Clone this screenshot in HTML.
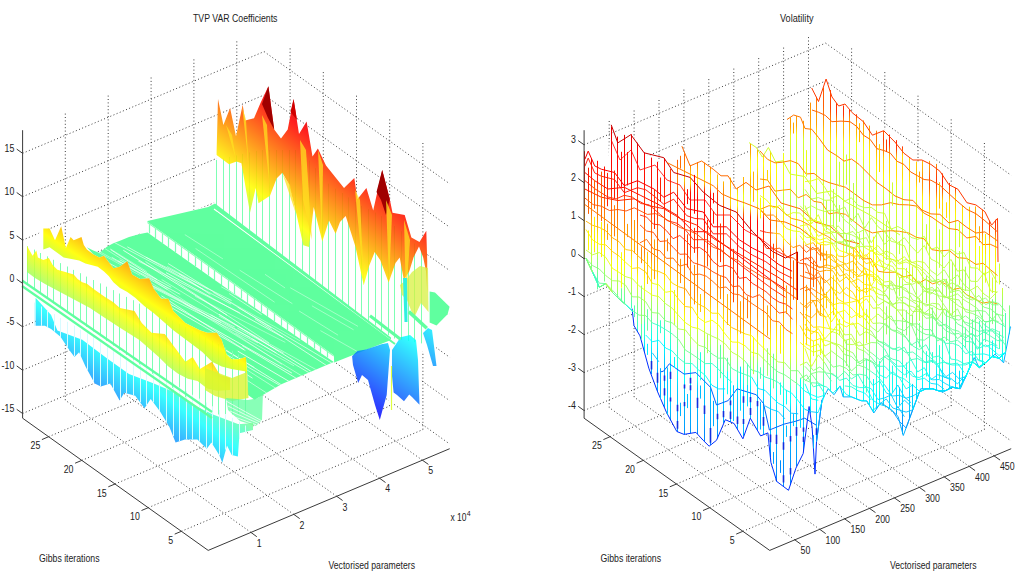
<!DOCTYPE html>
<html><head><meta charset="utf-8"><style>
html,body{margin:0;padding:0;background:#fff;}
svg{display:block;}
.gr{stroke:#3c3c3c;stroke-width:1;stroke-dasharray:1 2.4;fill:none;}
.ax{stroke:#3a3a3a;stroke-width:1;fill:none;}
.tk{font-family:"Liberation Sans",sans-serif;font-size:10px;fill:#222;}
.lb{font-family:"Liberation Sans",sans-serif;font-size:10px;fill:#222;}
.sup{font-family:"Liberation Sans",sans-serif;font-size:7px;fill:#222;}
</style></head><body>
<svg width="1024" height="578" viewBox="0 0 1024 578">
<rect width="1024" height="578" fill="#fff"/>
<g><line x1="250.9" y1="532.4" x2="65.3" y2="400.2" class="gr"/><line x1="65.3" y1="400.2" x2="65.3" y2="112.2" class="gr"/><line x1="293.8" y1="514.4" x2="108.2" y2="382.2" class="gr"/><line x1="108.2" y1="382.2" x2="108.2" y2="94.2" class="gr"/><line x1="336.7" y1="496.3" x2="151.1" y2="364.1" class="gr"/><line x1="151.1" y1="364.1" x2="151.1" y2="76.1" class="gr"/><line x1="379.5" y1="478.2" x2="193.9" y2="346.0" class="gr"/><line x1="193.9" y1="346.0" x2="193.9" y2="58.0" class="gr"/><line x1="422.4" y1="460.2" x2="236.8" y2="328.0" class="gr"/><line x1="236.8" y1="328.0" x2="236.8" y2="40.0" class="gr"/><line x1="181.4" y1="531.3" x2="422.9" y2="429.6" class="gr"/><line x1="422.9" y1="429.6" x2="422.9" y2="141.6" class="gr"/><line x1="148.2" y1="507.7" x2="389.7" y2="406.0" class="gr"/><line x1="389.7" y1="406.0" x2="389.7" y2="118.0" class="gr"/><line x1="115.0" y1="484.0" x2="356.5" y2="382.3" class="gr"/><line x1="356.5" y1="382.3" x2="356.5" y2="94.3" class="gr"/><line x1="81.8" y1="460.4" x2="323.3" y2="358.7" class="gr"/><line x1="323.3" y1="358.7" x2="323.3" y2="70.7" class="gr"/><line x1="48.6" y1="436.7" x2="290.1" y2="335.0" class="gr"/><line x1="290.1" y1="335.0" x2="290.1" y2="47.0" class="gr"/><line x1="22.6" y1="413.5" x2="264.1" y2="311.8" class="gr"/><line x1="264.1" y1="311.8" x2="449.7" y2="444.0" class="gr"/><line x1="22.6" y1="370.2" x2="264.1" y2="268.5" class="gr"/><line x1="264.1" y1="268.5" x2="449.7" y2="400.7" class="gr"/><line x1="22.6" y1="326.8" x2="264.1" y2="225.1" class="gr"/><line x1="264.1" y1="225.1" x2="449.7" y2="357.3" class="gr"/><line x1="22.6" y1="283.4" x2="264.1" y2="181.7" class="gr"/><line x1="264.1" y1="181.7" x2="449.7" y2="313.9" class="gr"/><line x1="22.6" y1="240.1" x2="264.1" y2="138.4" class="gr"/><line x1="264.1" y1="138.4" x2="449.7" y2="270.6" class="gr"/><line x1="22.6" y1="196.7" x2="264.1" y2="95.0" class="gr"/><line x1="264.1" y1="95.0" x2="449.7" y2="227.2" class="gr"/><line x1="22.6" y1="153.3" x2="264.1" y2="51.6" class="gr"/><line x1="264.1" y1="51.6" x2="449.7" y2="183.8" class="gr"/><line x1="794.8" y1="539.8" x2="609.2" y2="407.6" class="gr"/><line x1="609.2" y1="407.6" x2="609.2" y2="119.6" class="gr"/><line x1="819.7" y1="529.3" x2="634.1" y2="397.1" class="gr"/><line x1="634.1" y1="397.1" x2="634.1" y2="109.1" class="gr"/><line x1="844.6" y1="518.8" x2="659.0" y2="386.6" class="gr"/><line x1="659.0" y1="386.6" x2="659.0" y2="98.6" class="gr"/><line x1="869.5" y1="508.4" x2="683.9" y2="376.2" class="gr"/><line x1="683.9" y1="376.2" x2="683.9" y2="88.2" class="gr"/><line x1="894.4" y1="497.9" x2="708.8" y2="365.7" class="gr"/><line x1="708.8" y1="365.7" x2="708.8" y2="77.7" class="gr"/><line x1="919.4" y1="487.4" x2="733.8" y2="355.2" class="gr"/><line x1="733.8" y1="355.2" x2="733.8" y2="67.2" class="gr"/><line x1="944.3" y1="476.9" x2="758.7" y2="344.7" class="gr"/><line x1="758.7" y1="344.7" x2="758.7" y2="56.7" class="gr"/><line x1="969.2" y1="466.4" x2="783.6" y2="334.2" class="gr"/><line x1="783.6" y1="334.2" x2="783.6" y2="46.2" class="gr"/><line x1="994.1" y1="455.9" x2="808.5" y2="323.7" class="gr"/><line x1="808.5" y1="323.7" x2="808.5" y2="35.7" class="gr"/><line x1="742.9" y1="531.3" x2="984.4" y2="429.6" class="gr"/><line x1="984.4" y1="429.6" x2="984.4" y2="141.6" class="gr"/><line x1="709.7" y1="507.7" x2="951.2" y2="406.0" class="gr"/><line x1="951.2" y1="406.0" x2="951.2" y2="118.0" class="gr"/><line x1="676.5" y1="484.0" x2="918.0" y2="382.3" class="gr"/><line x1="918.0" y1="382.3" x2="918.0" y2="94.3" class="gr"/><line x1="643.3" y1="460.4" x2="884.8" y2="358.7" class="gr"/><line x1="884.8" y1="358.7" x2="884.8" y2="70.7" class="gr"/><line x1="610.1" y1="436.7" x2="851.6" y2="335.0" class="gr"/><line x1="851.6" y1="335.0" x2="851.6" y2="47.0" class="gr"/><line x1="584.1" y1="410.5" x2="825.6" y2="308.8" class="gr"/><line x1="825.6" y1="308.8" x2="1011.2" y2="441.0" class="gr"/><line x1="584.1" y1="372.5" x2="825.6" y2="270.8" class="gr"/><line x1="825.6" y1="270.8" x2="1011.2" y2="403.0" class="gr"/><line x1="584.1" y1="334.6" x2="825.6" y2="232.9" class="gr"/><line x1="825.6" y1="232.9" x2="1011.2" y2="365.1" class="gr"/><line x1="584.1" y1="296.6" x2="825.6" y2="194.9" class="gr"/><line x1="825.6" y1="194.9" x2="1011.2" y2="327.1" class="gr"/><line x1="584.1" y1="258.7" x2="825.6" y2="157.0" class="gr"/><line x1="825.6" y1="157.0" x2="1011.2" y2="289.2" class="gr"/><line x1="584.1" y1="220.7" x2="825.6" y2="119.0" class="gr"/><line x1="825.6" y1="119.0" x2="1011.2" y2="251.2" class="gr"/><line x1="584.1" y1="182.7" x2="825.6" y2="81.0" class="gr"/><line x1="825.6" y1="81.0" x2="1011.2" y2="213.2" class="gr"/><line x1="584.1" y1="144.8" x2="825.6" y2="43.1" class="gr"/><line x1="825.6" y1="43.1" x2="1011.2" y2="175.3" class="gr"/></g>
<defs><linearGradient id="gw" gradientUnits="userSpaceOnUse" x1="213.0" y1="404.0" x2="405.0" y2="160.1"><stop offset="0.000" stop-color="#bdff42"/><stop offset="0.062" stop-color="#bdff42"/><stop offset="0.125" stop-color="#bdff42"/><stop offset="0.188" stop-color="#bdff42"/><stop offset="0.250" stop-color="#bdff42"/><stop offset="0.312" stop-color="#bdff42"/><stop offset="0.375" stop-color="#bdff42"/><stop offset="0.438" stop-color="#bdff42"/><stop offset="0.500" stop-color="#bdff42"/><stop offset="0.562" stop-color="#bfff40"/><stop offset="0.625" stop-color="#ffff00"/><stop offset="0.688" stop-color="#ffbf00"/><stop offset="0.750" stop-color="#ff8000"/><stop offset="0.812" stop-color="#ff4000"/><stop offset="0.875" stop-color="#ff0000"/><stop offset="0.938" stop-color="#bf0000"/><stop offset="1.000" stop-color="#800000"/></linearGradient><clipPath id="upc"><polygon points="147.5,221.0 208.2,206.9 215.0,203.5 391.0,337.5 391.0,340.0 334.2,362.4 333.8,355.6 230.0,280.4 147.5,222.0"/></clipPath><clipPath id="lpc"><polygon points="86.9,247.2 93.2,250.4 99.4,252.7 107.2,246.5 113.4,243.3 121.2,240.2 129.0,237.1 140.0,234.0 147.5,232.5 230.0,290.8 333.8,362.1 281.9,384.1 263.7,394.5 254.6,399.7 248.0,395.0 247.2,373.8 245.9,356.9 238.7,359.3 231.4,359.3 226.6,354.5 221.7,339.9 216.9,332.7 207.2,332.7 199.9,330.2 185.4,323.0 173.3,310.9 168.4,298.8 161.2,298.8 153.9,289.1 149.1,278.2 140.0,279.1 132.1,274.5 127.3,261.2 119.6,266.7 113.4,268.2 108.7,262.0 104.0,255.8 99.4,257.4 93.2,254.2"/></clipPath><linearGradient id="gy1" gradientUnits="userSpaceOnUse" x1="100.0" y1="450.0" x2="231.6" y2="247.5"><stop offset="0.000" stop-color="#000080"/><stop offset="0.062" stop-color="#0000bf"/><stop offset="0.125" stop-color="#0000ff"/><stop offset="0.188" stop-color="#0040ff"/><stop offset="0.250" stop-color="#0080ff"/><stop offset="0.312" stop-color="#00bfff"/><stop offset="0.375" stop-color="#00ffff"/><stop offset="0.438" stop-color="#40ffbf"/><stop offset="0.500" stop-color="#80ff80"/><stop offset="0.562" stop-color="#bfff40"/><stop offset="0.625" stop-color="#ffff00"/><stop offset="0.688" stop-color="#ffbf00"/><stop offset="0.750" stop-color="#ff8000"/><stop offset="0.812" stop-color="#ff4000"/><stop offset="0.875" stop-color="#ff0000"/><stop offset="0.938" stop-color="#bf0000"/><stop offset="1.000" stop-color="#800000"/></linearGradient><linearGradient id="gy2" gradientUnits="userSpaceOnUse" x1="100.0" y1="478.0" x2="235.3" y2="284.7"><stop offset="0.000" stop-color="#000080"/><stop offset="0.062" stop-color="#0000bf"/><stop offset="0.125" stop-color="#0000ff"/><stop offset="0.188" stop-color="#0040ff"/><stop offset="0.250" stop-color="#0080ff"/><stop offset="0.312" stop-color="#00bfff"/><stop offset="0.375" stop-color="#00ffff"/><stop offset="0.438" stop-color="#40ffbf"/><stop offset="0.500" stop-color="#80ff80"/><stop offset="0.562" stop-color="#bfff40"/><stop offset="0.625" stop-color="#ffff00"/><stop offset="0.688" stop-color="#ffbf00"/><stop offset="0.750" stop-color="#ff8000"/><stop offset="0.812" stop-color="#ff4000"/><stop offset="0.875" stop-color="#ff0000"/><stop offset="0.938" stop-color="#bf0000"/><stop offset="1.000" stop-color="#800000"/></linearGradient><linearGradient id="gbl" gradientUnits="userSpaceOnUse" x1="36.0" y1="428.0" x2="192.5" y2="210.7"><stop offset="0.000" stop-color="#000080"/><stop offset="0.062" stop-color="#0000bf"/><stop offset="0.125" stop-color="#0000ff"/><stop offset="0.188" stop-color="#0040ff"/><stop offset="0.250" stop-color="#0080ff"/><stop offset="0.312" stop-color="#00bfff"/><stop offset="0.375" stop-color="#00ffff"/><stop offset="0.438" stop-color="#40ffbf"/><stop offset="0.500" stop-color="#80ff80"/><stop offset="0.562" stop-color="#bfff40"/><stop offset="0.625" stop-color="#ffff00"/><stop offset="0.688" stop-color="#ffbf00"/><stop offset="0.750" stop-color="#ff8000"/><stop offset="0.812" stop-color="#ff4000"/><stop offset="0.875" stop-color="#ff0000"/><stop offset="0.938" stop-color="#bf0000"/><stop offset="1.000" stop-color="#800000"/></linearGradient><linearGradient id="gb" gradientUnits="userSpaceOnUse" x1="390.0" y1="474.0" x2="579.7" y2="210.6"><stop offset="0.000" stop-color="#000080"/><stop offset="0.062" stop-color="#0000bf"/><stop offset="0.125" stop-color="#0000ff"/><stop offset="0.188" stop-color="#0040ff"/><stop offset="0.250" stop-color="#0080ff"/><stop offset="0.312" stop-color="#00bfff"/><stop offset="0.375" stop-color="#00ffff"/><stop offset="0.438" stop-color="#40ffbf"/><stop offset="0.500" stop-color="#80ff80"/><stop offset="0.562" stop-color="#bfff40"/><stop offset="0.625" stop-color="#ffff00"/><stop offset="0.688" stop-color="#ffbf00"/><stop offset="0.750" stop-color="#ff8000"/><stop offset="0.812" stop-color="#ff4000"/><stop offset="0.875" stop-color="#ff0000"/><stop offset="0.938" stop-color="#bf0000"/><stop offset="1.000" stop-color="#800000"/></linearGradient><linearGradient id="gbc" gradientUnits="userSpaceOnUse" x1="430.0" y1="470.0" x2="619.7" y2="206.6"><stop offset="0.000" stop-color="#000080"/><stop offset="0.062" stop-color="#0000bf"/><stop offset="0.125" stop-color="#0000ff"/><stop offset="0.188" stop-color="#0040ff"/><stop offset="0.250" stop-color="#0080ff"/><stop offset="0.312" stop-color="#00bfff"/><stop offset="0.375" stop-color="#00ffff"/><stop offset="0.438" stop-color="#40ffbf"/><stop offset="0.500" stop-color="#80ff80"/><stop offset="0.562" stop-color="#bfff40"/><stop offset="0.625" stop-color="#ffff00"/><stop offset="0.688" stop-color="#ffbf00"/><stop offset="0.750" stop-color="#ff8000"/><stop offset="0.812" stop-color="#ff4000"/><stop offset="0.875" stop-color="#ff0000"/><stop offset="0.938" stop-color="#bf0000"/><stop offset="1.000" stop-color="#800000"/></linearGradient></defs><g><polygon points="22.0,280.0 27.0,246.0 43.3,228.6 49.6,228.6 55.0,240.2 61.2,226.2 65.9,248.0 70.6,237.1 73.7,240.2 81.5,237.1 86.9,247.2 93.2,250.4 99.4,252.7 107.2,246.5 140.0,234.0 147.6,220.9 211.9,204.9 216.0,200.0 216.6,152.0 218.0,98.9 223.4,125.0 230.1,107.9 236.0,136.2 242.7,104.7 245.0,120.5 254.0,118.2 260.7,102.5 268.4,86.3 274.2,129.5 281.0,138.5 287.7,129.5 293.6,98.9 299.0,134.0 306.6,121.4 312.5,156.5 317.9,148.4 326.0,165.5 335.0,176.7 344.0,188.0 354.3,178.0 357.4,199.2 366.4,188.0 373.2,210.5 382.2,170.0 389.8,199.2 392.5,212.7 404.7,215.0 411.4,237.4 419.5,242.0 426.3,230.7 427.2,260.0 428.0,291.0 435.0,292.5 449.6,306.7 447.6,314.3 437.0,328.0 435.1,365.0 421.0,350.0 419.5,404.7 412.0,397.0 404.0,401.3 397.0,395.0 391.5,410.3 386.7,395.0 379.8,420.0 368.0,380.0 358.2,383.1 352.0,358.0 333.8,362.1 281.9,384.1 256.0,399.0 253.0,430.0 239.5,433.2 237.9,456.5 231.7,455.0 227.0,445.6 222.3,462.8 219.2,455.0 211.4,442.5 206.8,448.8 197.4,439.4 185.0,439.4 175.6,442.5 169.4,427.0 160.1,411.4 150.7,399.0 144.5,408.3 135.2,395.8 124.3,392.7 119.6,400.5 110.3,383.4 100.9,386.5 94.7,383.4 85.4,366.3 79.1,352.3 74.5,356.9 69.8,350.7 60.5,336.7 51.1,328.9 44.9,325.8 35.6,325.8 35.6,300.0 22.0,288.0" fill="#ffffff" /><path d="M216.5 159.9V209.4M223.5 158.4V214.2M229.5 156.9V219.1M236.5 155.4V223.9M242.5 153.9V228.7M249.5 152.4V233.6M256.5 150.9V238.4M262.5 150.0V243.3M269.5 150.0V248.1M276.5 150.0V252.9M282.5 150.0V257.8M289.5 150.0V262.6M295.5 150.0V267.5M302.5 152.8V272.3M309.5 160.5V277.1M315.5 168.2V282.0M322.5 175.9V286.8M328.5 183.6V291.7M335.5 188.6V296.5M342.5 193.0V301.3M348.5 197.4V306.2M355.5 201.8V311.0M361.5 205.9V315.9M368.5 209.2V320.7M375.5 212.5V325.5M381.5 216.2V330.4M388.5 221.2V335.2M394.5 226.1V338.5M401.5 231.3V339.7M408.5 237.4V340.9M414.5 243.5V342.2M421.5 249.6V343.4" stroke="#7dffb4" stroke-width="1.0" fill="none"/><polygon points="216.6,152.0 218.0,98.9 223.4,125.0 230.1,107.9 236.0,136.2 242.7,104.7 245.0,120.5 254.0,118.2 260.7,102.5 268.4,86.3 274.2,129.5 281.0,138.5 287.7,129.5 293.6,98.9 299.0,134.0 306.6,121.4 312.5,156.5 317.9,148.4 326.0,165.5 335.0,176.7 344.0,188.0 354.3,178.0 357.4,199.2 366.4,188.0 373.2,210.5 382.2,170.0 389.8,199.2 392.5,212.7 404.7,215.0 411.4,237.4 419.5,242.0 426.3,230.7 427.2,260.0 427.3,293.5 426.0,271.3 423.2,257.5 419.0,246.4 413.5,257.5 409.3,271.3 403.8,279.7 399.7,257.5 395.5,263.0 388.6,282.4 380.3,260.3 374.7,252.0 369.2,265.8 363.7,285.2 355.4,246.4 345.7,216.0 340.0,222.0 335.6,233.7 329.0,220.4 322.3,241.4 313.7,207.0 309.0,247.0 303.3,245.2 296.6,214.7 289.0,184.3 282.3,172.8 276.6,178.5 270.0,195.7 258.5,203.3 255.7,188.0 250.0,212.8 241.4,163.3 236.6,161.4 229.0,164.3 216.6,155.0" fill="url(#gw)" fill-opacity="0.88"/><polygon points="400.0,285.0 406.0,280.0 412.0,272.0 420.0,266.0 428.0,268.0 428.5,312.0 421.0,303.0 414.0,318.0 407.0,300.0 402.0,295.0" fill="#d8f040" fill-opacity="0.75"/><polygon points="262.0,104.0 268.4,86.3 274.2,129.5 268.0,118.0" fill="#a00000" /><polygon points="376.5,192.0 382.2,170.0 389.8,199.2 386.0,215.0 381.0,200.0" fill="#a00000" /><polygon points="290.5,112.0 293.6,98.9 297.0,120.0" fill="#d00000" /><polygon points="242.0,106.0 246.0,120.0 251.0,212.0 247.0,150.0" fill="#ffe020" fill-opacity="0.75"/><polygon points="300.0,140.0 306.0,150.0 312.0,240.0 303.0,200.0" fill="#ffe020" fill-opacity="0.75"/><polygon points="318.0,150.0 323.0,165.0 322.0,240.0" fill="#ffe020" fill-opacity="0.75"/><polygon points="283.0,175.0 290.0,185.0 296.0,214.0" fill="#ffe020" fill-opacity="0.75"/><polygon points="355.0,190.0 360.0,200.0 364.0,285.0" fill="#ffe020" fill-opacity="0.75"/><polygon points="386.0,200.0 392.0,215.0 389.0,282.0" fill="#ffe020" fill-opacity="0.75"/><polygon points="404.0,220.0 410.0,240.0 406.0,300.0" fill="#ffe020" fill-opacity="0.75"/><polygon points="226.0,125.0 232.0,135.0 236.0,160.0" fill="#ffe020" fill-opacity="0.75"/><polygon points="262.0,115.0 267.0,125.0 270.0,190.0" fill="#ffe020" fill-opacity="0.75"/><polygon points="147.5,221.0 208.2,206.9 215.0,203.5 391.0,337.5 391.0,340.0 334.2,362.4 333.8,355.6 230.0,280.4 147.5,222.0" fill="#60ff9f" /><g clip-path="url(#upc)"><line x1="265.9" y1="311.7" x2="333.6" y2="358.5" stroke="#fff" stroke-width="0.6" opacity="0.7"/><line x1="285.8" y1="331.4" x2="307.5" y2="344.9" stroke="#fff" stroke-width="0.6" opacity="0.7"/><line x1="320.4" y1="330.6" x2="394.4" y2="372.6" stroke="#fff" stroke-width="0.6" opacity="0.7"/><line x1="239.7" y1="270.2" x2="292.4" y2="303.7" stroke="#fff" stroke-width="0.6" opacity="0.7"/><line x1="162.2" y1="233.5" x2="199.0" y2="258.8" stroke="#fff" stroke-width="0.6" opacity="0.7"/><line x1="290.2" y1="287.7" x2="358.0" y2="326.4" stroke="#fff" stroke-width="0.6" opacity="0.7"/><line x1="265.0" y1="274.3" x2="285.1" y2="288.0" stroke="#fff" stroke-width="0.6" opacity="0.7"/><line x1="195.6" y1="248.5" x2="274.6" y2="302.2" stroke="#fff" stroke-width="0.6" opacity="0.7"/><line x1="209.2" y1="299.3" x2="261.5" y2="333.4" stroke="#fff" stroke-width="0.6" opacity="0.7"/><line x1="194.8" y1="291.6" x2="256.3" y2="334.3" stroke="#fff" stroke-width="0.6" opacity="0.7"/><line x1="311.9" y1="305.8" x2="353.6" y2="329.8" stroke="#fff" stroke-width="0.6" opacity="0.7"/><line x1="184.8" y1="234.6" x2="222.9" y2="258.9" stroke="#fff" stroke-width="0.6" opacity="0.7"/><line x1="160.6" y1="260.4" x2="200.8" y2="284.5" stroke="#fff" stroke-width="0.6" opacity="0.7"/><line x1="299.1" y1="311.0" x2="338.1" y2="335.2" stroke="#fff" stroke-width="0.6" opacity="0.7"/></g><polyline points="214.0,209.0 391.0,340.5" fill="none" stroke="#ffffff" stroke-width="1.2" /><polyline points="216.0,212.5 395.0,344.0" fill="none" stroke="#60ff9f" stroke-width="2" /><polygon points="147.5,222.0 230.0,280.4 333.8,355.6 333.8,362.1 230.0,290.8 147.5,232.5" fill="#ffffff" /><path d="M149.5 223.1V233.6M155.5 227.7V238.2M162.5 232.4V242.9M168.5 237.1V247.6M175.5 241.7V252.2M181.5 246.4V256.9M188.5 251.1V261.5M195.5 255.8V266.2M201.5 260.4V270.9M208.5 265.1V275.5M214.5 269.8V280.2M221.5 274.5V284.9M228.5 279.1V289.5M234.5 283.9V294.1M241.5 288.7V298.6M247.5 293.4V303.2M254.5 298.2V307.7M261.5 303.0V312.2M267.5 307.8V316.8M274.5 312.6V321.3M281.5 317.3V325.8M287.5 322.1V330.4M294.5 326.9V334.9M300.5 331.7V339.4M307.5 336.5V344.0M314.5 341.3V348.5M320.5 346.0V353.0M327.5 350.8V357.6" stroke="#7dffb4" stroke-width="1.2" fill="none"/><polyline points="147.5,222.5 230.0,281.0 333.8,356.0" fill="none" stroke="#8cffb8" stroke-width="1.2" /><polygon points="86.9,247.2 93.2,250.4 99.4,252.7 107.2,246.5 113.4,243.3 121.2,240.2 129.0,237.1 140.0,234.0 147.5,232.5 230.0,290.8 333.8,362.1 281.9,384.1 263.7,394.5 254.6,399.7 248.0,395.0 247.2,373.8 245.9,356.9 238.7,359.3 231.4,359.3 226.6,354.5 221.7,339.9 216.9,332.7 207.2,332.7 199.9,330.2 185.4,323.0 173.3,310.9 168.4,298.8 161.2,298.8 153.9,289.1 149.1,278.2 140.0,279.1 132.1,274.5 127.3,261.2 119.6,266.7 113.4,268.2 108.7,262.0 104.0,255.8 99.4,257.4 93.2,254.2" fill="#60ff9f" /><g clip-path="url(#lpc)"><line x1="138.3" y1="261.0" x2="239.9" y2="312.9" stroke="#fff" stroke-width="0.77" opacity="0.8"/><line x1="145.8" y1="257.1" x2="231.6" y2="300.5" stroke="#fff" stroke-width="0.72" opacity="0.8"/><line x1="92.6" y1="240.8" x2="169.3" y2="289.2" stroke="#fff" stroke-width="0.56" opacity="0.8"/><line x1="120.2" y1="288.0" x2="254.4" y2="367.5" stroke="#fff" stroke-width="0.70" opacity="0.8"/><line x1="255.7" y1="294.8" x2="380.2" y2="362.7" stroke="#fff" stroke-width="0.57" opacity="0.8"/><line x1="101.2" y1="259.0" x2="221.0" y2="322.4" stroke="#fff" stroke-width="0.79" opacity="0.8"/><line x1="195.0" y1="296.3" x2="285.3" y2="342.4" stroke="#fff" stroke-width="0.53" opacity="0.8"/><line x1="117.1" y1="290.6" x2="194.1" y2="333.0" stroke="#fff" stroke-width="0.79" opacity="0.8"/><line x1="161.6" y1="279.5" x2="279.0" y2="351.4" stroke="#fff" stroke-width="0.62" opacity="0.8"/><line x1="183.4" y1="303.0" x2="309.7" y2="380.8" stroke="#fff" stroke-width="0.64" opacity="0.8"/><line x1="256.4" y1="300.0" x2="332.4" y2="347.2" stroke="#fff" stroke-width="0.58" opacity="0.8"/><line x1="168.0" y1="263.5" x2="271.5" y2="328.0" stroke="#fff" stroke-width="0.79" opacity="0.8"/><line x1="237.6" y1="307.1" x2="344.1" y2="370.5" stroke="#fff" stroke-width="0.79" opacity="0.8"/><line x1="162.1" y1="317.5" x2="296.0" y2="394.7" stroke="#fff" stroke-width="0.83" opacity="0.8"/><line x1="90.9" y1="282.9" x2="192.1" y2="349.6" stroke="#fff" stroke-width="0.91" opacity="0.8"/><line x1="131.2" y1="274.9" x2="234.8" y2="327.1" stroke="#fff" stroke-width="0.73" opacity="0.8"/><line x1="110.2" y1="248.8" x2="146.7" y2="271.5" stroke="#fff" stroke-width="0.56" opacity="0.8"/><line x1="124.6" y1="273.0" x2="250.4" y2="337.5" stroke="#fff" stroke-width="0.72" opacity="0.8"/><line x1="178.9" y1="326.5" x2="299.0" y2="403.1" stroke="#fff" stroke-width="0.64" opacity="0.8"/><line x1="154.8" y1="281.3" x2="282.0" y2="364.4" stroke="#fff" stroke-width="0.58" opacity="0.8"/><line x1="111.7" y1="257.3" x2="167.4" y2="289.5" stroke="#fff" stroke-width="0.79" opacity="0.8"/><line x1="127.3" y1="246.8" x2="203.4" y2="289.4" stroke="#fff" stroke-width="0.78" opacity="0.8"/><line x1="251.6" y1="338.4" x2="338.3" y2="390.3" stroke="#fff" stroke-width="0.84" opacity="0.8"/><line x1="89.7" y1="296.4" x2="205.5" y2="370.5" stroke="#fff" stroke-width="0.90" opacity="0.8"/><line x1="150.6" y1="282.6" x2="192.0" y2="307.5" stroke="#fff" stroke-width="0.53" opacity="0.8"/><line x1="92.1" y1="248.9" x2="140.0" y2="275.4" stroke="#fff" stroke-width="0.53" opacity="0.8"/><line x1="80.0" y1="240.6" x2="121.2" y2="263.6" stroke="#fff" stroke-width="0.51" opacity="0.8"/><line x1="237.4" y1="328.1" x2="283.7" y2="353.1" stroke="#fff" stroke-width="0.67" opacity="0.8"/><line x1="145.5" y1="261.5" x2="268.9" y2="342.8" stroke="#fff" stroke-width="0.73" opacity="0.8"/><line x1="167.1" y1="266.5" x2="208.3" y2="289.4" stroke="#fff" stroke-width="0.63" opacity="0.8"/><line x1="229.2" y1="293.5" x2="261.7" y2="314.7" stroke="#fff" stroke-width="0.76" opacity="0.8"/><line x1="106.4" y1="277.3" x2="139.4" y2="296.5" stroke="#fff" stroke-width="0.99" opacity="0.8"/><line x1="235.4" y1="333.1" x2="294.1" y2="365.9" stroke="#fff" stroke-width="0.58" opacity="0.8"/><line x1="218.9" y1="315.9" x2="334.6" y2="379.9" stroke="#fff" stroke-width="0.61" opacity="0.8"/><line x1="226.1" y1="350.1" x2="349.9" y2="427.9" stroke="#fff" stroke-width="0.91" opacity="0.8"/><line x1="213.2" y1="292.5" x2="300.1" y2="340.9" stroke="#fff" stroke-width="0.51" opacity="0.8"/><line x1="85.0" y1="251.3" x2="143.5" y2="287.1" stroke="#fff" stroke-width="0.98" opacity="0.8"/><line x1="160.5" y1="323.8" x2="299.2" y2="414.3" stroke="#fff" stroke-width="0.68" opacity="0.8"/><line x1="119.7" y1="259.8" x2="171.3" y2="287.3" stroke="#fff" stroke-width="0.81" opacity="0.8"/><line x1="242.1" y1="345.5" x2="324.8" y2="395.6" stroke="#fff" stroke-width="0.90" opacity="0.8"/><line x1="95.3" y1="281.6" x2="225.3" y2="362.9" stroke="#fff" stroke-width="0.88" opacity="0.8"/><line x1="166.0" y1="272.6" x2="282.9" y2="337.2" stroke="#fff" stroke-width="0.90" opacity="0.8"/><line x1="254.9" y1="318.9" x2="329.1" y2="367.2" stroke="#fff" stroke-width="0.86" opacity="0.8"/><line x1="110.6" y1="249.6" x2="157.2" y2="279.7" stroke="#fff" stroke-width="0.90" opacity="0.8"/><line x1="106.3" y1="297.1" x2="244.1" y2="380.5" stroke="#fff" stroke-width="0.68" opacity="0.8"/><line x1="178.8" y1="273.7" x2="210.3" y2="294.4" stroke="#fff" stroke-width="0.82" opacity="0.8"/><line x1="174.8" y1="328.5" x2="252.5" y2="378.2" stroke="#fff" stroke-width="0.91" opacity="0.8"/><line x1="118.0" y1="260.9" x2="180.2" y2="294.4" stroke="#fff" stroke-width="0.79" opacity="0.8"/><line x1="126.7" y1="275.7" x2="171.1" y2="304.3" stroke="#fff" stroke-width="0.68" opacity="0.8"/><line x1="162.5" y1="299.7" x2="291.9" y2="373.1" stroke="#fff" stroke-width="0.96" opacity="0.8"/><line x1="170.3" y1="298.8" x2="257.9" y2="342.9" stroke="#fff" stroke-width="0.72" opacity="0.8"/><line x1="113.0" y1="241.8" x2="230.9" y2="304.0" stroke="#fff" stroke-width="0.74" opacity="0.8"/><line x1="210.5" y1="314.6" x2="276.4" y2="353.0" stroke="#fff" stroke-width="0.78" opacity="0.8"/><line x1="221.2" y1="286.8" x2="312.8" y2="336.3" stroke="#fff" stroke-width="0.64" opacity="0.8"/><line x1="219.0" y1="314.2" x2="310.8" y2="371.2" stroke="#fff" stroke-width="0.96" opacity="0.8"/><line x1="159.8" y1="300.8" x2="245.4" y2="350.6" stroke="#fff" stroke-width="0.85" opacity="0.8"/><line x1="161.4" y1="295.8" x2="244.0" y2="349.6" stroke="#fff" stroke-width="0.85" opacity="0.8"/><line x1="237.8" y1="351.2" x2="296.3" y2="385.7" stroke="#fff" stroke-width="0.97" opacity="0.8"/><line x1="231.2" y1="292.5" x2="274.6" y2="317.3" stroke="#fff" stroke-width="0.54" opacity="0.8"/><line x1="123.3" y1="250.3" x2="227.0" y2="315.1" stroke="#fff" stroke-width="0.95" opacity="0.8"/></g><path d="M27.5 246.3V284.5M34.5 249.6V289.2M40.5 253.0V293.9M47.5 256.4V298.6M53.5 259.8V303.3M60.5 263.1V308.0M67.5 266.5V312.7M73.5 269.9V317.4M80.5 273.2V322.1M86.5 276.6V326.8M93.5 280.0V331.5M100.5 283.4V336.2M106.5 286.7V340.9M113.5 290.1V345.6M119.5 293.5V350.3M126.5 296.9V355.0M133.5 300.2V359.7M139.5 303.6V364.4M146.5 307.0V369.1M152.5 310.4V373.8M159.5 313.7V378.5M166.5 317.1V383.2M172.5 320.5V387.9M179.5 323.9V392.6M185.5 327.2V397.3M192.5 330.6V402.0M199.5 334.0V406.7M205.5 337.4V411.4M212.5 340.7V414.5M218.5 344.1V414.5M225.5 347.5V414.5M232.5 350.8V414.5M238.5 354.2V414.5M245.5 357.6V414.5" stroke="#7dffb4" stroke-width="1.0" fill="none"/><polygon points="43.3,228.6 49.6,228.6 55.0,240.2 61.2,226.2 65.9,248.0 70.6,237.1 73.7,240.2 81.5,237.1 83.8,244.9 86.9,249.6 93.2,254.2 99.4,257.4 104.0,255.8 108.7,262.0 113.4,268.2 119.6,266.7 127.3,261.2 132.1,274.5 140.0,279.1 149.1,278.2 153.9,289.1 161.2,298.8 168.4,298.8 173.3,310.9 185.4,323.0 199.9,330.2 207.2,332.7 216.9,332.7 221.7,339.9 226.6,354.5 231.4,359.3 238.7,359.3 245.9,356.9 247.2,373.8 245.9,371.4 231.4,369.0 221.7,366.6 212.0,361.7 202.3,352.0 192.7,344.8 183.0,337.5 173.3,330.2 153.9,313.3 144.2,306.0 135.2,297.8 127.3,292.0 120.0,288.0 113.4,282.3 108.7,276.0 104.0,271.4 97.8,266.7 85.4,263.6 79.1,260.5 71.4,258.9 63.6,257.4 49.6,247.2 43.3,249.6" fill="url(#gy1)" fill-opacity="0.92"/><polygon points="27.0,245.7 32.5,255.8 36.3,250.4 37.9,257.4 43.3,260.0 48.8,258.1 52.7,265.1 57.4,269.8 63.6,271.4 73.7,274.5 77.6,279.1 82.3,282.3 86.9,283.8 95.0,290.0 105.0,297.0 113.0,302.0 120.0,308.0 134.5,310.9 141.8,323.0 151.5,332.7 164.8,333.9 170.9,342.3 185.4,361.7 192.7,356.9 199.9,369.0 212.0,361.7 220.0,375.0 230.0,378.0 230.0,390.0 216.9,390.8 207.2,388.4 197.5,381.1 187.8,378.7 178.1,373.8 168.4,366.6 158.8,356.9 139.4,339.9 120.0,327.8 105.0,318.0 90.0,308.0 75.0,300.0 60.0,292.0 45.0,284.0 35.0,278.0 27.0,272.0" fill="url(#gy2)" fill-opacity="0.85"/><polygon points="205.0,368.0 232.0,378.0 247.0,372.0 248.5,398.0 232.0,401.0 215.0,396.0 205.0,390.0" fill="#d8f530" fill-opacity="0.8"/><polygon points="226.0,398.0 248.0,400.0 258.0,398.0 263.0,392.0 262.0,420.0 256.0,426.0 240.0,421.0 228.0,410.0" fill="#60ff9f" fill-opacity="0.75"/><polyline points="226.0,401.0 262.0,421.0" fill="none" stroke="#ffffff" stroke-width="0.9" opacity="0.8"/><polyline points="228.0,406.0 262.0,423.0" fill="none" stroke="#ffffff" stroke-width="0.9" opacity="0.8"/><polyline points="230.0,411.0 262.0,425.0" fill="none" stroke="#ffffff" stroke-width="0.9" opacity="0.8"/><polyline points="232.0,416.0 262.0,427.0" fill="none" stroke="#ffffff" stroke-width="0.9" opacity="0.8"/><polygon points="35.6,297.8 51.1,314.9 57.4,330.5 82.3,339.8 107.2,358.5 129.0,374.0 153.9,383.4 175.6,392.7 194.3,405.2 213.0,414.5 237.9,423.9 241.0,423.9 253.0,423.0 253.0,430.0 239.5,433.2 237.9,456.5 231.7,455.0 227.0,445.6 222.3,462.8 219.2,455.0 211.4,442.5 206.8,448.8 197.4,439.4 185.0,439.4 175.6,442.5 169.4,427.0 160.1,411.4 150.7,399.0 144.5,408.3 135.2,395.8 124.3,392.7 119.6,400.5 110.3,383.4 100.9,386.5 94.7,383.4 85.4,366.3 79.1,352.3 74.5,356.9 69.8,350.7 60.5,336.7 51.1,328.9 44.9,325.8 35.6,325.8" fill="url(#gbl)" fill-opacity="0.78"/><path d="M34.5 302.6V325.8M41.5 306.5V325.8M47.5 310.3V327.2M54.5 314.1V331.6M60.5 318.0V337.3M67.5 321.8V347.2M74.5 325.7V356.4M80.5 329.5V355.9M87.5 333.3V369.8M93.5 337.2V381.9M100.5 341.0V386.3M107.5 344.9V384.5M113.5 348.7V389.7M120.5 352.5V399.3M126.5 356.4V393.4M133.5 360.2V395.3M140.5 364.1V402.4M146.5 367.9V405.0M153.5 371.7V402.4M159.5 375.6V411.1M166.5 379.4V422.1M173.5 383.3V436.2M179.5 387.1V441.1M186.5 390.9V439.4M192.5 394.8V439.4M199.5 398.6V441.5M206.5 402.5V448.1M212.5 406.3V444.6M219.5 410.1V455.3M225.5 414.0V449.6M232.5 417.8V455.2M239.5 421.7V439.0M245.5 425.5V433.2" stroke="#d8fbff" stroke-width="1.0" fill="none"/><polyline points="22.0,280.5 212.0,412.0" fill="none" stroke="#60ff9f" stroke-width="2.2" /><polyline points="22.0,286.0 212.0,418.0" fill="none" stroke="#60ff9f" stroke-width="2.2" /><polygon points="352.1,356.3 357.3,351.1 365.9,349.4 381.5,344.2 388.0,343.0 390.0,350.0 388.4,371.9 386.7,395.0 382.0,412.0 379.8,420.0 375.0,405.0 368.0,380.0 362.0,375.0 358.2,383.1 353.0,365.0" fill="url(#gb)" fill-opacity="0.82"/><polygon points="392.0,350.0 400.5,337.3 410.0,335.0 416.0,340.0 418.0,360.0 419.5,404.7 412.0,397.0 409.2,394.4 404.0,401.3 397.0,395.0 393.6,392.6 391.9,375.0" fill="url(#gb)" fill-opacity="0.8"/><polygon points="423.0,333.0 428.0,328.0 432.0,330.0 436.5,366.0 433.0,366.0 427.0,345.0" fill="url(#gbc)" fill-opacity="0.8"/><polyline points="391.5,366.0 391.5,410.0" fill="none" stroke="#e0ff40" stroke-width="1.2" /><polygon points="429.6,291.5 435.0,292.5 449.6,306.7 447.6,314.3 436.5,325.4 429.6,322.6" fill="#60ff9f" /><polyline points="408.8,311.6 426.8,328.2" fill="none" stroke="#60ff9f" stroke-width="3.5" /><polyline points="370.0,315.7 400.5,339.2" fill="none" stroke="#60ff9f" stroke-width="3" /><polygon points="403.0,278.0 407.0,278.0 407.5,322.0 404.5,322.0" fill="#30f0e0" /></g><defs><linearGradient id="rv0" gradientUnits="userSpaceOnUse" x1="0" y1="151.2" x2="0" y2="258.0"><stop offset="0.000" stop-color="#fa0000"/><stop offset="0.091" stop-color="#ff0100"/><stop offset="0.182" stop-color="#ff1a00"/><stop offset="0.273" stop-color="#ff1c00"/><stop offset="0.364" stop-color="#ff5f00"/><stop offset="0.455" stop-color="#ff6300"/><stop offset="0.545" stop-color="#ff8000"/><stop offset="0.636" stop-color="#ffa900"/><stop offset="0.727" stop-color="#ffb500"/><stop offset="0.818" stop-color="#fffa00"/><stop offset="0.909" stop-color="#dcff23"/><stop offset="1.000" stop-color="#c1ff3e"/></linearGradient><linearGradient id="rv1" gradientUnits="userSpaceOnUse" x1="0" y1="158.6" x2="0" y2="268.2"><stop offset="0.000" stop-color="#fb0000"/><stop offset="0.083" stop-color="#ff1800"/><stop offset="0.167" stop-color="#ff1a00"/><stop offset="0.250" stop-color="#ff4900"/><stop offset="0.333" stop-color="#ff6100"/><stop offset="0.417" stop-color="#ff7b00"/><stop offset="0.500" stop-color="#ff8000"/><stop offset="0.583" stop-color="#ffb200"/><stop offset="0.667" stop-color="#ffc600"/><stop offset="0.750" stop-color="#fffa00"/><stop offset="0.833" stop-color="#ccff33"/><stop offset="0.917" stop-color="#bbff44"/><stop offset="1.000" stop-color="#80ff7f"/></linearGradient><linearGradient id="rv2" gradientUnits="userSpaceOnUse" x1="0" y1="160.8" x2="0" y2="289.4"><stop offset="0.000" stop-color="#ff0200"/><stop offset="0.071" stop-color="#ff1900"/><stop offset="0.143" stop-color="#ff1b00"/><stop offset="0.214" stop-color="#ff5300"/><stop offset="0.286" stop-color="#ff6100"/><stop offset="0.357" stop-color="#ff7d00"/><stop offset="0.429" stop-color="#ff8900"/><stop offset="0.500" stop-color="#ffb200"/><stop offset="0.571" stop-color="#ffe300"/><stop offset="0.643" stop-color="#fff900"/><stop offset="0.714" stop-color="#caff35"/><stop offset="0.786" stop-color="#91ff6e"/><stop offset="0.857" stop-color="#7fff80"/><stop offset="0.929" stop-color="#46ffb9"/><stop offset="1.000" stop-color="#65ff9a"/></linearGradient><linearGradient id="rv3" gradientUnits="userSpaceOnUse" x1="0" y1="166.5" x2="0" y2="281.5"><stop offset="0.000" stop-color="#ff0e00"/><stop offset="0.083" stop-color="#ff1c00"/><stop offset="0.167" stop-color="#ff2e00"/><stop offset="0.250" stop-color="#ff4f00"/><stop offset="0.333" stop-color="#ff6a00"/><stop offset="0.417" stop-color="#ff8100"/><stop offset="0.500" stop-color="#ff9f00"/><stop offset="0.583" stop-color="#ffba00"/><stop offset="0.667" stop-color="#ffe300"/><stop offset="0.750" stop-color="#f5ff0a"/><stop offset="0.833" stop-color="#c1ff3e"/><stop offset="0.917" stop-color="#a0ff5f"/><stop offset="1.000" stop-color="#76ff89"/></linearGradient><linearGradient id="rv4" gradientUnits="userSpaceOnUse" x1="0" y1="126.5" x2="0" y2="291.2"><stop offset="0.000" stop-color="#e70000"/><stop offset="0.056" stop-color="#e60000"/><stop offset="0.111" stop-color="#f00000"/><stop offset="0.167" stop-color="#ff0400"/><stop offset="0.222" stop-color="#ff0600"/><stop offset="0.278" stop-color="#ff1500"/><stop offset="0.333" stop-color="#ff2000"/><stop offset="0.389" stop-color="#ff1d00"/><stop offset="0.444" stop-color="#ff5700"/><stop offset="0.500" stop-color="#ff6500"/><stop offset="0.556" stop-color="#ff8000"/><stop offset="0.611" stop-color="#ff9400"/><stop offset="0.667" stop-color="#ffa200"/><stop offset="0.722" stop-color="#ffca00"/><stop offset="0.778" stop-color="#ffda00"/><stop offset="0.833" stop-color="#f6ff09"/><stop offset="0.889" stop-color="#d1ff2e"/><stop offset="0.944" stop-color="#aeff51"/><stop offset="1.000" stop-color="#98ff67"/></linearGradient><linearGradient id="rv5" gradientUnits="userSpaceOnUse" x1="0" y1="136.6" x2="0" y2="297.9"><stop offset="0.000" stop-color="#e60000"/><stop offset="0.059" stop-color="#f20000"/><stop offset="0.118" stop-color="#ff0500"/><stop offset="0.176" stop-color="#ff0500"/><stop offset="0.235" stop-color="#ff1700"/><stop offset="0.294" stop-color="#ff1b00"/><stop offset="0.353" stop-color="#ff1b00"/><stop offset="0.412" stop-color="#ff6100"/><stop offset="0.471" stop-color="#ff7000"/><stop offset="0.529" stop-color="#ff8000"/><stop offset="0.588" stop-color="#ff9e00"/><stop offset="0.647" stop-color="#ffa700"/><stop offset="0.706" stop-color="#ffc700"/><stop offset="0.765" stop-color="#fdff02"/><stop offset="0.824" stop-color="#f9ff06"/><stop offset="0.882" stop-color="#b4ff4b"/><stop offset="0.941" stop-color="#b2ff4d"/><stop offset="1.000" stop-color="#61ff9e"/></linearGradient><linearGradient id="rv6" gradientUnits="userSpaceOnUse" x1="0" y1="134.9" x2="0" y2="303.6"><stop offset="0.000" stop-color="#e60000"/><stop offset="0.056" stop-color="#ec0000"/><stop offset="0.111" stop-color="#ff0500"/><stop offset="0.167" stop-color="#ff0500"/><stop offset="0.222" stop-color="#ff1000"/><stop offset="0.278" stop-color="#ff1c00"/><stop offset="0.333" stop-color="#ff1a00"/><stop offset="0.389" stop-color="#ff5d00"/><stop offset="0.444" stop-color="#ff6300"/><stop offset="0.500" stop-color="#ff7f00"/><stop offset="0.556" stop-color="#ff9600"/><stop offset="0.611" stop-color="#ff9f00"/><stop offset="0.667" stop-color="#ffc700"/><stop offset="0.722" stop-color="#ffdb00"/><stop offset="0.778" stop-color="#faff05"/><stop offset="0.833" stop-color="#d4ff2b"/><stop offset="0.889" stop-color="#b2ff4d"/><stop offset="0.944" stop-color="#70ff8f"/><stop offset="1.000" stop-color="#57ffa8"/></linearGradient><linearGradient id="rv7" gradientUnits="userSpaceOnUse" x1="0" y1="134.3" x2="0" y2="308.1"><stop offset="0.000" stop-color="#e60000"/><stop offset="0.053" stop-color="#ee0000"/><stop offset="0.105" stop-color="#ff0200"/><stop offset="0.158" stop-color="#ff0500"/><stop offset="0.211" stop-color="#ff0e00"/><stop offset="0.263" stop-color="#ff1800"/><stop offset="0.316" stop-color="#ff1c00"/><stop offset="0.368" stop-color="#ff4600"/><stop offset="0.421" stop-color="#ff5c00"/><stop offset="0.474" stop-color="#ff7600"/><stop offset="0.526" stop-color="#ff8100"/><stop offset="0.579" stop-color="#ff9d00"/><stop offset="0.632" stop-color="#ffb400"/><stop offset="0.684" stop-color="#ffc400"/><stop offset="0.737" stop-color="#fffa00"/><stop offset="0.789" stop-color="#fffc00"/><stop offset="0.842" stop-color="#bfff40"/><stop offset="0.895" stop-color="#b0ff4f"/><stop offset="0.947" stop-color="#67ff98"/><stop offset="1.000" stop-color="#33ffcc"/></linearGradient><linearGradient id="rv8" gradientUnits="userSpaceOnUse" x1="0" y1="142.7" x2="0" y2="332.1"><stop offset="0.000" stop-color="#f30000"/><stop offset="0.048" stop-color="#fc0000"/><stop offset="0.095" stop-color="#ff0100"/><stop offset="0.143" stop-color="#ff0e00"/><stop offset="0.190" stop-color="#ff1100"/><stop offset="0.238" stop-color="#ff1b00"/><stop offset="0.286" stop-color="#ff3900"/><stop offset="0.333" stop-color="#ff4000"/><stop offset="0.381" stop-color="#ff4c00"/><stop offset="0.429" stop-color="#ff6f00"/><stop offset="0.476" stop-color="#ff8700"/><stop offset="0.524" stop-color="#ff9900"/><stop offset="0.571" stop-color="#ff9300"/><stop offset="0.619" stop-color="#ffcc00"/><stop offset="0.667" stop-color="#ffd400"/><stop offset="0.714" stop-color="#feff01"/><stop offset="0.762" stop-color="#d7ff28"/><stop offset="0.810" stop-color="#b2ff4d"/><stop offset="0.857" stop-color="#79ff86"/><stop offset="0.905" stop-color="#77ff88"/><stop offset="0.952" stop-color="#3fffc0"/><stop offset="1.000" stop-color="#2cffd3"/></linearGradient><linearGradient id="rv9" gradientUnits="userSpaceOnUse" x1="0" y1="152.4" x2="0" y2="351.9"><stop offset="0.000" stop-color="#fa0000"/><stop offset="0.045" stop-color="#fc0000"/><stop offset="0.091" stop-color="#ff1000"/><stop offset="0.136" stop-color="#ff0f00"/><stop offset="0.182" stop-color="#ff1700"/><stop offset="0.227" stop-color="#ff3700"/><stop offset="0.273" stop-color="#ff2f00"/><stop offset="0.318" stop-color="#ff3e00"/><stop offset="0.364" stop-color="#ff6b00"/><stop offset="0.409" stop-color="#ff7800"/><stop offset="0.455" stop-color="#ff8600"/><stop offset="0.500" stop-color="#ff8000"/><stop offset="0.545" stop-color="#ffbd00"/><stop offset="0.591" stop-color="#ffc700"/><stop offset="0.636" stop-color="#fff400"/><stop offset="0.682" stop-color="#e5ff1a"/><stop offset="0.727" stop-color="#ccff33"/><stop offset="0.773" stop-color="#93ff6c"/><stop offset="0.818" stop-color="#8dff72"/><stop offset="0.864" stop-color="#31ffce"/><stop offset="0.909" stop-color="#2cffd3"/><stop offset="0.955" stop-color="#00f0ff"/><stop offset="1.000" stop-color="#00e1ff"/></linearGradient><linearGradient id="rv10" gradientUnits="userSpaceOnUse" x1="0" y1="157.6" x2="0" y2="374.1"><stop offset="0.000" stop-color="#fa0000"/><stop offset="0.042" stop-color="#ff0900"/><stop offset="0.083" stop-color="#ff1000"/><stop offset="0.125" stop-color="#ff1000"/><stop offset="0.167" stop-color="#ff2900"/><stop offset="0.208" stop-color="#ff3100"/><stop offset="0.250" stop-color="#ff2e00"/><stop offset="0.292" stop-color="#ff6a00"/><stop offset="0.333" stop-color="#ff6b00"/><stop offset="0.375" stop-color="#ff8100"/><stop offset="0.417" stop-color="#ff8000"/><stop offset="0.458" stop-color="#ff8800"/><stop offset="0.500" stop-color="#ffc700"/><stop offset="0.542" stop-color="#ffc900"/><stop offset="0.583" stop-color="#e8ff17"/><stop offset="0.625" stop-color="#e5ff1a"/><stop offset="0.667" stop-color="#a0ff5f"/><stop offset="0.708" stop-color="#94ff6b"/><stop offset="0.750" stop-color="#62ff9d"/><stop offset="0.792" stop-color="#2effd1"/><stop offset="0.833" stop-color="#08fff7"/><stop offset="0.875" stop-color="#00f0ff"/><stop offset="0.917" stop-color="#00c8ff"/><stop offset="0.958" stop-color="#00beff"/><stop offset="1.000" stop-color="#009eff"/></linearGradient><linearGradient id="rv11" gradientUnits="userSpaceOnUse" x1="0" y1="161.8" x2="0" y2="391.9"><stop offset="0.000" stop-color="#fe0000"/><stop offset="0.040" stop-color="#ff1400"/><stop offset="0.080" stop-color="#ff1000"/><stop offset="0.120" stop-color="#ff1a00"/><stop offset="0.160" stop-color="#ff3400"/><stop offset="0.200" stop-color="#ff2f00"/><stop offset="0.240" stop-color="#ff4800"/><stop offset="0.280" stop-color="#ff6b00"/><stop offset="0.320" stop-color="#ff7400"/><stop offset="0.360" stop-color="#ff8100"/><stop offset="0.400" stop-color="#ff8200"/><stop offset="0.440" stop-color="#ffc000"/><stop offset="0.480" stop-color="#ffc800"/><stop offset="0.520" stop-color="#fbff04"/><stop offset="0.560" stop-color="#e5ff1a"/><stop offset="0.600" stop-color="#beff41"/><stop offset="0.640" stop-color="#94ff6b"/><stop offset="0.680" stop-color="#7eff81"/><stop offset="0.720" stop-color="#2fffd0"/><stop offset="0.760" stop-color="#1cffe3"/><stop offset="0.800" stop-color="#00f0ff"/><stop offset="0.840" stop-color="#00ceff"/><stop offset="0.880" stop-color="#00c1ff"/><stop offset="0.920" stop-color="#009fff"/><stop offset="0.960" stop-color="#00aaff"/><stop offset="1.000" stop-color="#00c5ff"/></linearGradient><linearGradient id="rv12" gradientUnits="userSpaceOnUse" x1="0" y1="158.1" x2="0" y2="407.2"><stop offset="0.000" stop-color="#ff0200"/><stop offset="0.037" stop-color="#ff1f00"/><stop offset="0.074" stop-color="#ff1800"/><stop offset="0.111" stop-color="#ff1c00"/><stop offset="0.148" stop-color="#ff3300"/><stop offset="0.185" stop-color="#ff3300"/><stop offset="0.222" stop-color="#ff3900"/><stop offset="0.259" stop-color="#ff6400"/><stop offset="0.296" stop-color="#ff6b00"/><stop offset="0.333" stop-color="#ff7c00"/><stop offset="0.370" stop-color="#ff8200"/><stop offset="0.407" stop-color="#ffa200"/><stop offset="0.444" stop-color="#ffc600"/><stop offset="0.481" stop-color="#ffdd00"/><stop offset="0.519" stop-color="#ebff14"/><stop offset="0.556" stop-color="#deff21"/><stop offset="0.593" stop-color="#a1ff5e"/><stop offset="0.630" stop-color="#93ff6c"/><stop offset="0.667" stop-color="#49ffb6"/><stop offset="0.704" stop-color="#2fffd0"/><stop offset="0.741" stop-color="#00feff"/><stop offset="0.778" stop-color="#00ebff"/><stop offset="0.815" stop-color="#00cbff"/><stop offset="0.852" stop-color="#00acff"/><stop offset="0.889" stop-color="#00afff"/><stop offset="0.926" stop-color="#00c6ff"/><stop offset="0.963" stop-color="#00ccff"/><stop offset="1.000" stop-color="#00c3ff"/></linearGradient><linearGradient id="rv13" gradientUnits="userSpaceOnUse" x1="0" y1="168.9" x2="0" y2="420.5"><stop offset="0.000" stop-color="#ff4400"/><stop offset="0.037" stop-color="#ff3d00"/><stop offset="0.074" stop-color="#ff3d00"/><stop offset="0.111" stop-color="#ff3300"/><stop offset="0.148" stop-color="#ff3400"/><stop offset="0.185" stop-color="#ff4100"/><stop offset="0.222" stop-color="#ff5a00"/><stop offset="0.259" stop-color="#ff6400"/><stop offset="0.296" stop-color="#ff7200"/><stop offset="0.333" stop-color="#ff8100"/><stop offset="0.370" stop-color="#ffa400"/><stop offset="0.407" stop-color="#ffbf00"/><stop offset="0.444" stop-color="#ffe000"/><stop offset="0.481" stop-color="#fffe00"/><stop offset="0.519" stop-color="#eaff15"/><stop offset="0.556" stop-color="#bcff43"/><stop offset="0.593" stop-color="#a2ff5d"/><stop offset="0.630" stop-color="#60ff9f"/><stop offset="0.667" stop-color="#40ffbf"/><stop offset="0.704" stop-color="#1cffe3"/><stop offset="0.741" stop-color="#00fdff"/><stop offset="0.778" stop-color="#00ddff"/><stop offset="0.815" stop-color="#00c7ff"/><stop offset="0.852" stop-color="#00ceff"/><stop offset="0.889" stop-color="#00ccff"/><stop offset="0.926" stop-color="#00c5ff"/><stop offset="0.963" stop-color="#00b7ff"/><stop offset="1.000" stop-color="#00abff"/></linearGradient><linearGradient id="rv14" gradientUnits="userSpaceOnUse" x1="0" y1="159.8" x2="0" y2="431.8"><stop offset="0.000" stop-color="#ff5800"/><stop offset="0.033" stop-color="#ff7100"/><stop offset="0.067" stop-color="#ff8b00"/><stop offset="0.100" stop-color="#ff6800"/><stop offset="0.133" stop-color="#ff2700"/><stop offset="0.167" stop-color="#ff2800"/><stop offset="0.200" stop-color="#ff2f00"/><stop offset="0.233" stop-color="#ff3800"/><stop offset="0.267" stop-color="#ff4d00"/><stop offset="0.300" stop-color="#ff5100"/><stop offset="0.333" stop-color="#ff6300"/><stop offset="0.367" stop-color="#ff8400"/><stop offset="0.400" stop-color="#ff9900"/><stop offset="0.433" stop-color="#ffb800"/><stop offset="0.467" stop-color="#ffc300"/><stop offset="0.500" stop-color="#ffd600"/><stop offset="0.533" stop-color="#fff700"/><stop offset="0.567" stop-color="#e2ff1d"/><stop offset="0.600" stop-color="#bfff40"/><stop offset="0.633" stop-color="#87ff78"/><stop offset="0.667" stop-color="#70ff8f"/><stop offset="0.700" stop-color="#4affb5"/><stop offset="0.733" stop-color="#28ffd7"/><stop offset="0.767" stop-color="#04fffb"/><stop offset="0.800" stop-color="#00f1ff"/><stop offset="0.833" stop-color="#00d5ff"/><stop offset="0.867" stop-color="#00c4ff"/><stop offset="0.900" stop-color="#00bfff"/><stop offset="0.933" stop-color="#00afff"/><stop offset="0.967" stop-color="#00a6ff"/><stop offset="1.000" stop-color="#0096ff"/></linearGradient><linearGradient id="rv15" gradientUnits="userSpaceOnUse" x1="0" y1="153.3" x2="0" y2="434.4"><stop offset="0.000" stop-color="#ff6800"/><stop offset="0.032" stop-color="#ff7500"/><stop offset="0.065" stop-color="#ff9f00"/><stop offset="0.097" stop-color="#ffc800"/><stop offset="0.129" stop-color="#ff5300"/><stop offset="0.161" stop-color="#ff0b00"/><stop offset="0.194" stop-color="#ff1c00"/><stop offset="0.226" stop-color="#ff1900"/><stop offset="0.258" stop-color="#ff2100"/><stop offset="0.290" stop-color="#ff3c00"/><stop offset="0.323" stop-color="#ff3800"/><stop offset="0.355" stop-color="#ff5300"/><stop offset="0.387" stop-color="#ff7800"/><stop offset="0.419" stop-color="#ff8500"/><stop offset="0.452" stop-color="#ffa000"/><stop offset="0.484" stop-color="#ff9a00"/><stop offset="0.516" stop-color="#ffbf00"/><stop offset="0.548" stop-color="#ffd800"/><stop offset="0.581" stop-color="#f8ff07"/><stop offset="0.613" stop-color="#dfff20"/><stop offset="0.645" stop-color="#a8ff57"/><stop offset="0.677" stop-color="#97ff68"/><stop offset="0.710" stop-color="#66ff99"/><stop offset="0.742" stop-color="#3effc1"/><stop offset="0.774" stop-color="#18ffe7"/><stop offset="0.806" stop-color="#00feff"/><stop offset="0.839" stop-color="#00c7ff"/><stop offset="0.871" stop-color="#00bfff"/><stop offset="0.903" stop-color="#00b8ff"/><stop offset="0.935" stop-color="#00a9ff"/><stop offset="0.968" stop-color="#00a3ff"/><stop offset="1.000" stop-color="#008eff"/></linearGradient><linearGradient id="rv16" gradientUnits="userSpaceOnUse" x1="0" y1="164.9" x2="0" y2="433.3"><stop offset="0.000" stop-color="#ff7700"/><stop offset="0.034" stop-color="#ffd200"/><stop offset="0.069" stop-color="#ffda00"/><stop offset="0.103" stop-color="#ff0b00"/><stop offset="0.138" stop-color="#ff0000"/><stop offset="0.172" stop-color="#ff1500"/><stop offset="0.207" stop-color="#ff1000"/><stop offset="0.241" stop-color="#ff1f00"/><stop offset="0.276" stop-color="#ff3100"/><stop offset="0.310" stop-color="#ff3000"/><stop offset="0.345" stop-color="#ff6b00"/><stop offset="0.379" stop-color="#ff7600"/><stop offset="0.414" stop-color="#ff8700"/><stop offset="0.448" stop-color="#ff8d00"/><stop offset="0.483" stop-color="#ff9400"/><stop offset="0.517" stop-color="#ffc700"/><stop offset="0.552" stop-color="#ffed00"/><stop offset="0.586" stop-color="#f9ff06"/><stop offset="0.621" stop-color="#c1ff3e"/><stop offset="0.655" stop-color="#b1ff4e"/><stop offset="0.690" stop-color="#74ff8b"/><stop offset="0.724" stop-color="#62ff9d"/><stop offset="0.759" stop-color="#1bffe4"/><stop offset="0.793" stop-color="#14ffeb"/><stop offset="0.828" stop-color="#00c7ff"/><stop offset="0.862" stop-color="#00bdff"/><stop offset="0.897" stop-color="#00baff"/><stop offset="0.931" stop-color="#00a9ff"/><stop offset="0.966" stop-color="#00a7ff"/><stop offset="1.000" stop-color="#008bff"/></linearGradient><linearGradient id="rv17" gradientUnits="userSpaceOnUse" x1="0" y1="162.2" x2="0" y2="434.0"><stop offset="0.000" stop-color="#ff7500"/><stop offset="0.033" stop-color="#ffb100"/><stop offset="0.067" stop-color="#ffe500"/><stop offset="0.100" stop-color="#ff4400"/><stop offset="0.133" stop-color="#fa0000"/><stop offset="0.167" stop-color="#ff0c00"/><stop offset="0.200" stop-color="#ff0f00"/><stop offset="0.233" stop-color="#ff1000"/><stop offset="0.267" stop-color="#ff2d00"/><stop offset="0.300" stop-color="#ff2e00"/><stop offset="0.333" stop-color="#ff3b00"/><stop offset="0.367" stop-color="#ff7500"/><stop offset="0.400" stop-color="#ff7600"/><stop offset="0.433" stop-color="#ff8c00"/><stop offset="0.467" stop-color="#ff8a00"/><stop offset="0.500" stop-color="#ffb300"/><stop offset="0.533" stop-color="#ffc700"/><stop offset="0.567" stop-color="#fbff04"/><stop offset="0.600" stop-color="#f8ff07"/><stop offset="0.633" stop-color="#b4ff4b"/><stop offset="0.667" stop-color="#b2ff4d"/><stop offset="0.700" stop-color="#6bff94"/><stop offset="0.733" stop-color="#55ffaa"/><stop offset="0.767" stop-color="#1affe5"/><stop offset="0.800" stop-color="#0ffff0"/><stop offset="0.833" stop-color="#00bfff"/><stop offset="0.867" stop-color="#00bdff"/><stop offset="0.900" stop-color="#00b7ff"/><stop offset="0.933" stop-color="#00a8ff"/><stop offset="0.967" stop-color="#00a7ff"/><stop offset="1.000" stop-color="#008aff"/></linearGradient><linearGradient id="rv18" gradientUnits="userSpaceOnUse" x1="0" y1="162.7" x2="0" y2="441.1"><stop offset="0.000" stop-color="#ff7500"/><stop offset="0.033" stop-color="#ffc000"/><stop offset="0.067" stop-color="#ffe500"/><stop offset="0.100" stop-color="#ff1e00"/><stop offset="0.133" stop-color="#fa0000"/><stop offset="0.167" stop-color="#ff1200"/><stop offset="0.200" stop-color="#ff0f00"/><stop offset="0.233" stop-color="#ff1300"/><stop offset="0.267" stop-color="#ff2f00"/><stop offset="0.300" stop-color="#ff2e00"/><stop offset="0.333" stop-color="#ff5a00"/><stop offset="0.367" stop-color="#ff7500"/><stop offset="0.400" stop-color="#ff7900"/><stop offset="0.433" stop-color="#ff8b00"/><stop offset="0.467" stop-color="#ff8a00"/><stop offset="0.500" stop-color="#ffc600"/><stop offset="0.533" stop-color="#ffd500"/><stop offset="0.567" stop-color="#faff05"/><stop offset="0.600" stop-color="#d9ff26"/><stop offset="0.633" stop-color="#b2ff4d"/><stop offset="0.667" stop-color="#81ff7e"/><stop offset="0.700" stop-color="#6bff94"/><stop offset="0.733" stop-color="#1bffe4"/><stop offset="0.767" stop-color="#19ffe6"/><stop offset="0.800" stop-color="#00ceff"/><stop offset="0.833" stop-color="#00bdff"/><stop offset="0.867" stop-color="#00bcff"/><stop offset="0.900" stop-color="#00a9ff"/><stop offset="0.933" stop-color="#00a8ff"/><stop offset="0.967" stop-color="#008bff"/><stop offset="1.000" stop-color="#008aff"/></linearGradient><linearGradient id="rv19" gradientUnits="userSpaceOnUse" x1="0" y1="166.7" x2="0" y2="444.9"><stop offset="0.000" stop-color="#ff7f00"/><stop offset="0.033" stop-color="#ffdb00"/><stop offset="0.067" stop-color="#ffc600"/><stop offset="0.100" stop-color="#ff0600"/><stop offset="0.133" stop-color="#ff0a00"/><stop offset="0.167" stop-color="#ff1600"/><stop offset="0.200" stop-color="#ff1100"/><stop offset="0.233" stop-color="#ff2400"/><stop offset="0.267" stop-color="#ff2f00"/><stop offset="0.300" stop-color="#ff3400"/><stop offset="0.333" stop-color="#ff7000"/><stop offset="0.367" stop-color="#ff7500"/><stop offset="0.400" stop-color="#ff8200"/><stop offset="0.433" stop-color="#ff8b00"/><stop offset="0.467" stop-color="#ffa200"/><stop offset="0.500" stop-color="#ffc800"/><stop offset="0.533" stop-color="#fff900"/><stop offset="0.567" stop-color="#f8ff07"/><stop offset="0.600" stop-color="#bcff43"/><stop offset="0.633" stop-color="#aeff51"/><stop offset="0.667" stop-color="#6fff90"/><stop offset="0.700" stop-color="#52ffad"/><stop offset="0.733" stop-color="#1cffe3"/><stop offset="0.767" stop-color="#0dfff2"/><stop offset="0.800" stop-color="#00c3ff"/><stop offset="0.833" stop-color="#00beff"/><stop offset="0.867" stop-color="#00b6ff"/><stop offset="0.900" stop-color="#00a9ff"/><stop offset="0.933" stop-color="#00a2ff"/><stop offset="0.967" stop-color="#008bff"/><stop offset="1.000" stop-color="#008cff"/></linearGradient><linearGradient id="rv20" gradientUnits="userSpaceOnUse" x1="0" y1="174.5" x2="0" y2="438.4"><stop offset="0.000" stop-color="#ffc600"/><stop offset="0.034" stop-color="#ffbf00"/><stop offset="0.069" stop-color="#ff3d00"/><stop offset="0.103" stop-color="#ff2700"/><stop offset="0.138" stop-color="#ff2d00"/><stop offset="0.172" stop-color="#ff1800"/><stop offset="0.207" stop-color="#ff2100"/><stop offset="0.241" stop-color="#ff3000"/><stop offset="0.276" stop-color="#ff3400"/><stop offset="0.310" stop-color="#ff5700"/><stop offset="0.345" stop-color="#ff7000"/><stop offset="0.379" stop-color="#ff7200"/><stop offset="0.414" stop-color="#ff8800"/><stop offset="0.448" stop-color="#ff9500"/><stop offset="0.483" stop-color="#ffbd00"/><stop offset="0.517" stop-color="#ffd800"/><stop offset="0.552" stop-color="#fffc00"/><stop offset="0.586" stop-color="#e9ff16"/><stop offset="0.621" stop-color="#baff45"/><stop offset="0.655" stop-color="#98ff67"/><stop offset="0.690" stop-color="#6eff91"/><stop offset="0.724" stop-color="#39ffc6"/><stop offset="0.759" stop-color="#22ffdd"/><stop offset="0.793" stop-color="#00f3ff"/><stop offset="0.828" stop-color="#00c7ff"/><stop offset="0.862" stop-color="#00c2ff"/><stop offset="0.897" stop-color="#00b3ff"/><stop offset="0.931" stop-color="#00a9ff"/><stop offset="0.966" stop-color="#009aff"/><stop offset="1.000" stop-color="#008dff"/></linearGradient><linearGradient id="rv21" gradientUnits="userSpaceOnUse" x1="0" y1="181.4" x2="0" y2="422.9"><stop offset="0.000" stop-color="#ffbc00"/><stop offset="0.038" stop-color="#ff8e00"/><stop offset="0.077" stop-color="#ff7b00"/><stop offset="0.115" stop-color="#ff6300"/><stop offset="0.154" stop-color="#ff2900"/><stop offset="0.192" stop-color="#ff2100"/><stop offset="0.231" stop-color="#ff2d00"/><stop offset="0.269" stop-color="#ff3000"/><stop offset="0.308" stop-color="#ff4200"/><stop offset="0.346" stop-color="#ff5d00"/><stop offset="0.385" stop-color="#ff5a00"/><stop offset="0.423" stop-color="#ff7600"/><stop offset="0.462" stop-color="#ff9100"/><stop offset="0.500" stop-color="#ffab00"/><stop offset="0.538" stop-color="#ffcc00"/><stop offset="0.577" stop-color="#ffe400"/><stop offset="0.615" stop-color="#fffc00"/><stop offset="0.654" stop-color="#d5ff2a"/><stop offset="0.692" stop-color="#aaff55"/><stop offset="0.731" stop-color="#80ff7f"/><stop offset="0.769" stop-color="#4bffb4"/><stop offset="0.808" stop-color="#2bffd4"/><stop offset="0.846" stop-color="#00f3ff"/><stop offset="0.885" stop-color="#00d2ff"/><stop offset="0.923" stop-color="#00c3ff"/><stop offset="0.962" stop-color="#00b4ff"/><stop offset="1.000" stop-color="#00aaff"/></linearGradient><linearGradient id="rv22" gradientUnits="userSpaceOnUse" x1="0" y1="177.6" x2="0" y2="422.0"><stop offset="0.000" stop-color="#ffc000"/><stop offset="0.037" stop-color="#ffb900"/><stop offset="0.074" stop-color="#ffd600"/><stop offset="0.111" stop-color="#ffd100"/><stop offset="0.148" stop-color="#ff5b00"/><stop offset="0.185" stop-color="#ff1900"/><stop offset="0.222" stop-color="#ff1b00"/><stop offset="0.259" stop-color="#ff2400"/><stop offset="0.296" stop-color="#ff1f00"/><stop offset="0.333" stop-color="#ff3500"/><stop offset="0.370" stop-color="#ff3e00"/><stop offset="0.407" stop-color="#ff3b00"/><stop offset="0.444" stop-color="#ff6800"/><stop offset="0.481" stop-color="#ff8400"/><stop offset="0.519" stop-color="#ff9100"/><stop offset="0.556" stop-color="#ffb900"/><stop offset="0.593" stop-color="#ffbe00"/><stop offset="0.630" stop-color="#ffdd00"/><stop offset="0.667" stop-color="#f7ff08"/><stop offset="0.704" stop-color="#c3ff3c"/><stop offset="0.741" stop-color="#9dff62"/><stop offset="0.778" stop-color="#5affa5"/><stop offset="0.815" stop-color="#38ffc7"/><stop offset="0.852" stop-color="#00f3ff"/><stop offset="0.889" stop-color="#00dbff"/><stop offset="0.926" stop-color="#00c1ff"/><stop offset="0.963" stop-color="#00b6ff"/><stop offset="1.000" stop-color="#00b2ff"/></linearGradient><linearGradient id="rv23" gradientUnits="userSpaceOnUse" x1="0" y1="187.5" x2="0" y2="428.9"><stop offset="0.000" stop-color="#ffbe00"/><stop offset="0.038" stop-color="#f5ff0a"/><stop offset="0.077" stop-color="#fffc00"/><stop offset="0.115" stop-color="#ff4300"/><stop offset="0.154" stop-color="#ff0a00"/><stop offset="0.192" stop-color="#ff1300"/><stop offset="0.231" stop-color="#ff1600"/><stop offset="0.269" stop-color="#ff1300"/><stop offset="0.308" stop-color="#ff2a00"/><stop offset="0.346" stop-color="#ff2900"/><stop offset="0.385" stop-color="#ff2e00"/><stop offset="0.423" stop-color="#ff6d00"/><stop offset="0.462" stop-color="#ff7800"/><stop offset="0.500" stop-color="#ff8900"/><stop offset="0.538" stop-color="#ffa900"/><stop offset="0.577" stop-color="#ffa800"/><stop offset="0.615" stop-color="#ffeb00"/><stop offset="0.654" stop-color="#f5ff0a"/><stop offset="0.692" stop-color="#bbff44"/><stop offset="0.731" stop-color="#7dff82"/><stop offset="0.769" stop-color="#4cffb3"/><stop offset="0.808" stop-color="#04fffb"/><stop offset="0.846" stop-color="#00deff"/><stop offset="0.885" stop-color="#00c7ff"/><stop offset="0.923" stop-color="#00b4ff"/><stop offset="0.962" stop-color="#00b5ff"/><stop offset="1.000" stop-color="#00b1ff"/></linearGradient><linearGradient id="rv24" gradientUnits="userSpaceOnUse" x1="0" y1="177.0" x2="0" y2="436.2"><stop offset="0.000" stop-color="#ffb800"/><stop offset="0.036" stop-color="#ffb500"/><stop offset="0.071" stop-color="#eaff15"/><stop offset="0.107" stop-color="#e9ff16"/><stop offset="0.143" stop-color="#ff5800"/><stop offset="0.179" stop-color="#ff0600"/><stop offset="0.214" stop-color="#ff0a00"/><stop offset="0.250" stop-color="#ff1300"/><stop offset="0.286" stop-color="#ff0f00"/><stop offset="0.321" stop-color="#ff1c00"/><stop offset="0.357" stop-color="#ff2500"/><stop offset="0.393" stop-color="#ff2500"/><stop offset="0.429" stop-color="#ff5c00"/><stop offset="0.464" stop-color="#ff7500"/><stop offset="0.500" stop-color="#ff7900"/><stop offset="0.536" stop-color="#ffa100"/><stop offset="0.571" stop-color="#ff9f00"/><stop offset="0.607" stop-color="#ffe400"/><stop offset="0.643" stop-color="#fff300"/><stop offset="0.679" stop-color="#bdff42"/><stop offset="0.714" stop-color="#9fff60"/><stop offset="0.750" stop-color="#4dffb2"/><stop offset="0.786" stop-color="#1dffe2"/><stop offset="0.821" stop-color="#00dcff"/><stop offset="0.857" stop-color="#00d0ff"/><stop offset="0.893" stop-color="#00b3ff"/><stop offset="0.929" stop-color="#00b4ff"/><stop offset="0.964" stop-color="#00b7ff"/><stop offset="1.000" stop-color="#00b2ff"/></linearGradient><linearGradient id="rv25" gradientUnits="userSpaceOnUse" x1="0" y1="143.6" x2="0" y2="418.5"><stop offset="0.000" stop-color="#ff8a00"/><stop offset="0.033" stop-color="#ffa400"/><stop offset="0.067" stop-color="#faff05"/><stop offset="0.100" stop-color="#fffc00"/><stop offset="0.133" stop-color="#ffb300"/><stop offset="0.167" stop-color="#ffc600"/><stop offset="0.200" stop-color="#e6ff19"/><stop offset="0.233" stop-color="#f3ff0c"/><stop offset="0.267" stop-color="#ff1700"/><stop offset="0.300" stop-color="#ff0500"/><stop offset="0.333" stop-color="#ff1000"/><stop offset="0.367" stop-color="#ff1000"/><stop offset="0.400" stop-color="#ff0f00"/><stop offset="0.433" stop-color="#ff2300"/><stop offset="0.467" stop-color="#ff2400"/><stop offset="0.500" stop-color="#ff2600"/><stop offset="0.533" stop-color="#ff6d00"/><stop offset="0.567" stop-color="#ff7500"/><stop offset="0.600" stop-color="#ff7c00"/><stop offset="0.633" stop-color="#ffa000"/><stop offset="0.667" stop-color="#ff9e00"/><stop offset="0.700" stop-color="#ffef00"/><stop offset="0.733" stop-color="#fff600"/><stop offset="0.767" stop-color="#bdff42"/><stop offset="0.800" stop-color="#85ff7a"/><stop offset="0.833" stop-color="#4dffb2"/><stop offset="0.867" stop-color="#03fffc"/><stop offset="0.900" stop-color="#00dbff"/><stop offset="0.933" stop-color="#00c9ff"/><stop offset="0.967" stop-color="#00b3ff"/><stop offset="1.000" stop-color="#00b4ff"/></linearGradient><linearGradient id="rv26" gradientUnits="userSpaceOnUse" x1="0" y1="148.7" x2="0" y2="429.9"><stop offset="0.000" stop-color="#ff8d00"/><stop offset="0.032" stop-color="#fff600"/><stop offset="0.065" stop-color="#fbff04"/><stop offset="0.097" stop-color="#ffbf00"/><stop offset="0.129" stop-color="#ffb400"/><stop offset="0.161" stop-color="#f1ff0e"/><stop offset="0.194" stop-color="#e7ff18"/><stop offset="0.226" stop-color="#ff9d00"/><stop offset="0.258" stop-color="#ff0700"/><stop offset="0.290" stop-color="#ff0800"/><stop offset="0.323" stop-color="#ff1b00"/><stop offset="0.355" stop-color="#ff1000"/><stop offset="0.387" stop-color="#ff1500"/><stop offset="0.419" stop-color="#ff2700"/><stop offset="0.452" stop-color="#ff2400"/><stop offset="0.484" stop-color="#ff3900"/><stop offset="0.516" stop-color="#ff7500"/><stop offset="0.548" stop-color="#ff7600"/><stop offset="0.581" stop-color="#ff9000"/><stop offset="0.613" stop-color="#ff9f00"/><stop offset="0.645" stop-color="#ffaa00"/><stop offset="0.677" stop-color="#fff000"/><stop offset="0.710" stop-color="#d9ff26"/><stop offset="0.742" stop-color="#bcff43"/><stop offset="0.774" stop-color="#59ffa6"/><stop offset="0.806" stop-color="#4bffb4"/><stop offset="0.839" stop-color="#00e5ff"/><stop offset="0.871" stop-color="#00dcff"/><stop offset="0.903" stop-color="#00bbff"/><stop offset="0.935" stop-color="#00b3ff"/><stop offset="0.968" stop-color="#00b7ff"/><stop offset="1.000" stop-color="#00bcff"/></linearGradient><linearGradient id="rv27" gradientUnits="userSpaceOnUse" x1="0" y1="155.0" x2="0" y2="434.6"><stop offset="0.000" stop-color="#ffd200"/><stop offset="0.032" stop-color="#ffff00"/><stop offset="0.065" stop-color="#ffe100"/><stop offset="0.097" stop-color="#ffba00"/><stop offset="0.129" stop-color="#ffe700"/><stop offset="0.161" stop-color="#ecff13"/><stop offset="0.194" stop-color="#ffe600"/><stop offset="0.226" stop-color="#ff2900"/><stop offset="0.258" stop-color="#ff0f00"/><stop offset="0.290" stop-color="#ff2e00"/><stop offset="0.323" stop-color="#ff1a00"/><stop offset="0.355" stop-color="#ff1800"/><stop offset="0.387" stop-color="#ff2e00"/><stop offset="0.419" stop-color="#ff2800"/><stop offset="0.452" stop-color="#ff3100"/><stop offset="0.484" stop-color="#ff6b00"/><stop offset="0.516" stop-color="#ff7700"/><stop offset="0.548" stop-color="#ff8500"/><stop offset="0.581" stop-color="#ffa400"/><stop offset="0.613" stop-color="#ffa700"/><stop offset="0.645" stop-color="#ffe400"/><stop offset="0.677" stop-color="#feff01"/><stop offset="0.710" stop-color="#c0ff3f"/><stop offset="0.742" stop-color="#95ff6a"/><stop offset="0.774" stop-color="#50ffaf"/><stop offset="0.806" stop-color="#24ffdb"/><stop offset="0.839" stop-color="#00e2ff"/><stop offset="0.871" stop-color="#00d8ff"/><stop offset="0.903" stop-color="#00b7ff"/><stop offset="0.935" stop-color="#00b7ff"/><stop offset="0.968" stop-color="#00bdff"/><stop offset="1.000" stop-color="#00bbff"/></linearGradient><linearGradient id="rv28" gradientUnits="userSpaceOnUse" x1="0" y1="151.4" x2="0" y2="456.9"><stop offset="0.000" stop-color="#ffc500"/><stop offset="0.030" stop-color="#fff400"/><stop offset="0.061" stop-color="#fff300"/><stop offset="0.091" stop-color="#ffd300"/><stop offset="0.121" stop-color="#ffe100"/><stop offset="0.152" stop-color="#f2ff0d"/><stop offset="0.182" stop-color="#fff900"/><stop offset="0.212" stop-color="#ff7200"/><stop offset="0.242" stop-color="#ff3700"/><stop offset="0.273" stop-color="#ff6200"/><stop offset="0.303" stop-color="#ff4300"/><stop offset="0.333" stop-color="#ff2e00"/><stop offset="0.364" stop-color="#ff3d00"/><stop offset="0.394" stop-color="#ff3800"/><stop offset="0.424" stop-color="#ff4400"/><stop offset="0.455" stop-color="#ff6d00"/><stop offset="0.485" stop-color="#ff7e00"/><stop offset="0.515" stop-color="#ff9300"/><stop offset="0.545" stop-color="#ffac00"/><stop offset="0.576" stop-color="#ffbb00"/><stop offset="0.606" stop-color="#ffe900"/><stop offset="0.636" stop-color="#efff10"/><stop offset="0.667" stop-color="#c1ff3e"/><stop offset="0.697" stop-color="#89ff76"/><stop offset="0.727" stop-color="#56ffa9"/><stop offset="0.758" stop-color="#1dffe2"/><stop offset="0.788" stop-color="#00f0ff"/><stop offset="0.818" stop-color="#00d9ff"/><stop offset="0.848" stop-color="#00bfff"/><stop offset="0.879" stop-color="#00bfff"/><stop offset="0.909" stop-color="#00beff"/><stop offset="0.939" stop-color="#00b4ff"/><stop offset="0.970" stop-color="#00acff"/><stop offset="1.000" stop-color="#00a1ff"/></linearGradient><linearGradient id="rv29" gradientUnits="userSpaceOnUse" x1="0" y1="161.8" x2="0" y2="481.6"><stop offset="0.000" stop-color="#fffa00"/><stop offset="0.029" stop-color="#ffff00"/><stop offset="0.057" stop-color="#fff600"/><stop offset="0.086" stop-color="#fcff03"/><stop offset="0.114" stop-color="#ddff22"/><stop offset="0.143" stop-color="#f2ff0d"/><stop offset="0.171" stop-color="#ffa900"/><stop offset="0.200" stop-color="#ff9100"/><stop offset="0.229" stop-color="#ffc000"/><stop offset="0.257" stop-color="#ff8200"/><stop offset="0.286" stop-color="#ff5000"/><stop offset="0.314" stop-color="#ff4e00"/><stop offset="0.343" stop-color="#ff5000"/><stop offset="0.371" stop-color="#ff5a00"/><stop offset="0.400" stop-color="#ff6f00"/><stop offset="0.429" stop-color="#ff8a00"/><stop offset="0.457" stop-color="#ff9c00"/><stop offset="0.486" stop-color="#ffae00"/><stop offset="0.514" stop-color="#ffc900"/><stop offset="0.543" stop-color="#ffe500"/><stop offset="0.571" stop-color="#f7ff08"/><stop offset="0.600" stop-color="#d3ff2c"/><stop offset="0.629" stop-color="#a7ff58"/><stop offset="0.657" stop-color="#71ff8e"/><stop offset="0.686" stop-color="#48ffb7"/><stop offset="0.714" stop-color="#0cfff3"/><stop offset="0.743" stop-color="#00f5ff"/><stop offset="0.771" stop-color="#00d2ff"/><stop offset="0.800" stop-color="#00c3ff"/><stop offset="0.829" stop-color="#00bfff"/><stop offset="0.857" stop-color="#00b3ff"/><stop offset="0.886" stop-color="#00abff"/><stop offset="0.914" stop-color="#00a4ff"/><stop offset="0.943" stop-color="#0092ff"/><stop offset="0.971" stop-color="#008dff"/><stop offset="1.000" stop-color="#008fff"/></linearGradient><linearGradient id="rv30" gradientUnits="userSpaceOnUse" x1="0" y1="153.0" x2="0" y2="486.6"><stop offset="0.000" stop-color="#e9ff16"/><stop offset="0.027" stop-color="#f7ff08"/><stop offset="0.054" stop-color="#edff12"/><stop offset="0.081" stop-color="#eeff11"/><stop offset="0.108" stop-color="#dfff20"/><stop offset="0.135" stop-color="#bfff40"/><stop offset="0.162" stop-color="#ccff33"/><stop offset="0.189" stop-color="#ffe600"/><stop offset="0.216" stop-color="#ffe100"/><stop offset="0.243" stop-color="#fcff03"/><stop offset="0.270" stop-color="#ffc100"/><stop offset="0.297" stop-color="#ff5800"/><stop offset="0.324" stop-color="#ff5300"/><stop offset="0.351" stop-color="#ff5d00"/><stop offset="0.378" stop-color="#ff6100"/><stop offset="0.405" stop-color="#ff6a00"/><stop offset="0.432" stop-color="#ff8e00"/><stop offset="0.459" stop-color="#ff9f00"/><stop offset="0.486" stop-color="#ffa600"/><stop offset="0.514" stop-color="#ffcb00"/><stop offset="0.541" stop-color="#ffde00"/><stop offset="0.568" stop-color="#fff300"/><stop offset="0.595" stop-color="#e3ff1c"/><stop offset="0.622" stop-color="#cdff32"/><stop offset="0.649" stop-color="#86ff79"/><stop offset="0.676" stop-color="#71ff8e"/><stop offset="0.703" stop-color="#23ffdc"/><stop offset="0.730" stop-color="#06fff9"/><stop offset="0.757" stop-color="#00ecff"/><stop offset="0.784" stop-color="#00c4ff"/><stop offset="0.811" stop-color="#00beff"/><stop offset="0.838" stop-color="#00b6ff"/><stop offset="0.865" stop-color="#00aaff"/><stop offset="0.892" stop-color="#00a8ff"/><stop offset="0.919" stop-color="#0095ff"/><stop offset="0.946" stop-color="#008bff"/><stop offset="0.973" stop-color="#008bff"/><stop offset="1.000" stop-color="#008fff"/></linearGradient><linearGradient id="rv31" gradientUnits="userSpaceOnUse" x1="0" y1="117.4" x2="0" y2="485.1"><stop offset="0.000" stop-color="#ff9e00"/><stop offset="0.025" stop-color="#ffa400"/><stop offset="0.050" stop-color="#ecff13"/><stop offset="0.075" stop-color="#d2ff2d"/><stop offset="0.100" stop-color="#dbff24"/><stop offset="0.125" stop-color="#ecff13"/><stop offset="0.150" stop-color="#e6ff19"/><stop offset="0.175" stop-color="#e6ff19"/><stop offset="0.200" stop-color="#c2ff3d"/><stop offset="0.225" stop-color="#b4ff4b"/><stop offset="0.250" stop-color="#c2ff3d"/><stop offset="0.275" stop-color="#fffc00"/><stop offset="0.300" stop-color="#f0ff0f"/><stop offset="0.325" stop-color="#e9ff16"/><stop offset="0.350" stop-color="#ff8f00"/><stop offset="0.375" stop-color="#ff4e00"/><stop offset="0.400" stop-color="#ff5600"/><stop offset="0.425" stop-color="#ff6100"/><stop offset="0.450" stop-color="#ff6200"/><stop offset="0.475" stop-color="#ff7500"/><stop offset="0.500" stop-color="#ff9d00"/><stop offset="0.525" stop-color="#ff9f00"/><stop offset="0.550" stop-color="#ffaf00"/><stop offset="0.575" stop-color="#ffdb00"/><stop offset="0.600" stop-color="#ffdd00"/><stop offset="0.625" stop-color="#efff10"/><stop offset="0.650" stop-color="#e4ff1b"/><stop offset="0.675" stop-color="#a5ff5a"/><stop offset="0.700" stop-color="#7fff80"/><stop offset="0.725" stop-color="#52ffad"/><stop offset="0.750" stop-color="#06fff9"/><stop offset="0.775" stop-color="#01fffe"/><stop offset="0.800" stop-color="#00c6ff"/><stop offset="0.825" stop-color="#00bdff"/><stop offset="0.850" stop-color="#00baff"/><stop offset="0.875" stop-color="#00a9ff"/><stop offset="0.900" stop-color="#00a8ff"/><stop offset="0.925" stop-color="#009aff"/><stop offset="0.950" stop-color="#008aff"/><stop offset="0.975" stop-color="#008aff"/><stop offset="1.000" stop-color="#008dff"/></linearGradient><linearGradient id="rv32" gradientUnits="userSpaceOnUse" x1="0" y1="116.0" x2="0" y2="466.3"><stop offset="0.000" stop-color="#ff9e00"/><stop offset="0.026" stop-color="#ff9f00"/><stop offset="0.053" stop-color="#f5ff0a"/><stop offset="0.079" stop-color="#d1ff2e"/><stop offset="0.105" stop-color="#d4ff2b"/><stop offset="0.132" stop-color="#e8ff17"/><stop offset="0.158" stop-color="#e6ff19"/><stop offset="0.184" stop-color="#e5ff1a"/><stop offset="0.211" stop-color="#c2ff3d"/><stop offset="0.237" stop-color="#b3ff4c"/><stop offset="0.263" stop-color="#b7ff48"/><stop offset="0.289" stop-color="#e9ff16"/><stop offset="0.316" stop-color="#eaff15"/><stop offset="0.342" stop-color="#e6ff19"/><stop offset="0.368" stop-color="#ffb000"/><stop offset="0.395" stop-color="#ff4d00"/><stop offset="0.421" stop-color="#ff5200"/><stop offset="0.447" stop-color="#ff6200"/><stop offset="0.474" stop-color="#ff6100"/><stop offset="0.500" stop-color="#ff6e00"/><stop offset="0.526" stop-color="#ff9d00"/><stop offset="0.553" stop-color="#ff9e00"/><stop offset="0.579" stop-color="#ffa600"/><stop offset="0.605" stop-color="#ffdb00"/><stop offset="0.632" stop-color="#ffdb00"/><stop offset="0.658" stop-color="#f2ff0d"/><stop offset="0.684" stop-color="#e5ff1a"/><stop offset="0.711" stop-color="#b2ff4d"/><stop offset="0.737" stop-color="#7fff80"/><stop offset="0.763" stop-color="#65ff9a"/><stop offset="0.789" stop-color="#05fffa"/><stop offset="0.816" stop-color="#04fffb"/><stop offset="0.842" stop-color="#00c6ff"/><stop offset="0.868" stop-color="#00bdff"/><stop offset="0.895" stop-color="#00bbff"/><stop offset="0.921" stop-color="#00a9ff"/><stop offset="0.947" stop-color="#00a8ff"/><stop offset="0.974" stop-color="#009cff"/><stop offset="1.000" stop-color="#008aff"/></linearGradient><linearGradient id="rv33" gradientUnits="userSpaceOnUse" x1="0" y1="120.8" x2="0" y2="451.2"><stop offset="0.000" stop-color="#ff9e00"/><stop offset="0.028" stop-color="#ffb700"/><stop offset="0.056" stop-color="#d3ff2c"/><stop offset="0.083" stop-color="#d1ff2e"/><stop offset="0.111" stop-color="#ddff22"/><stop offset="0.139" stop-color="#e6ff19"/><stop offset="0.167" stop-color="#e6ff19"/><stop offset="0.194" stop-color="#dfff20"/><stop offset="0.222" stop-color="#b4ff4b"/><stop offset="0.250" stop-color="#b3ff4c"/><stop offset="0.278" stop-color="#c4ff3b"/><stop offset="0.306" stop-color="#edff12"/><stop offset="0.333" stop-color="#e6ff19"/><stop offset="0.361" stop-color="#eaff15"/><stop offset="0.389" stop-color="#ff5400"/><stop offset="0.417" stop-color="#ff4d00"/><stop offset="0.444" stop-color="#ff6000"/><stop offset="0.472" stop-color="#ff6100"/><stop offset="0.500" stop-color="#ff6200"/><stop offset="0.528" stop-color="#ff8c00"/><stop offset="0.556" stop-color="#ff9e00"/><stop offset="0.583" stop-color="#ff9e00"/><stop offset="0.611" stop-color="#ffc500"/><stop offset="0.639" stop-color="#ffdb00"/><stop offset="0.667" stop-color="#ffdf00"/><stop offset="0.694" stop-color="#e6ff19"/><stop offset="0.722" stop-color="#e4ff1b"/><stop offset="0.750" stop-color="#84ff7b"/><stop offset="0.778" stop-color="#7fff80"/><stop offset="0.806" stop-color="#1cffe3"/><stop offset="0.833" stop-color="#05fffa"/><stop offset="0.861" stop-color="#00f8ff"/><stop offset="0.889" stop-color="#00beff"/><stop offset="0.917" stop-color="#00bdff"/><stop offset="0.944" stop-color="#00b3ff"/><stop offset="0.972" stop-color="#00a8ff"/><stop offset="1.000" stop-color="#00a8ff"/></linearGradient><linearGradient id="rv34" gradientUnits="userSpaceOnUse" x1="0" y1="102.6" x2="0" y2="413.5"><stop offset="0.000" stop-color="#ff8d00"/><stop offset="0.029" stop-color="#ff9c00"/><stop offset="0.059" stop-color="#ff9e00"/><stop offset="0.088" stop-color="#ffbc00"/><stop offset="0.118" stop-color="#d8ff27"/><stop offset="0.147" stop-color="#d3ff2c"/><stop offset="0.176" stop-color="#dfff20"/><stop offset="0.206" stop-color="#e6ff19"/><stop offset="0.235" stop-color="#e5ff1a"/><stop offset="0.265" stop-color="#deff21"/><stop offset="0.294" stop-color="#b6ff49"/><stop offset="0.324" stop-color="#b4ff4b"/><stop offset="0.353" stop-color="#c4ff3b"/><stop offset="0.382" stop-color="#e8ff17"/><stop offset="0.412" stop-color="#e8ff17"/><stop offset="0.441" stop-color="#f0ff0f"/><stop offset="0.471" stop-color="#ff6400"/><stop offset="0.500" stop-color="#ff5000"/><stop offset="0.529" stop-color="#ff6600"/><stop offset="0.559" stop-color="#ff6300"/><stop offset="0.588" stop-color="#ff6500"/><stop offset="0.618" stop-color="#ff9000"/><stop offset="0.647" stop-color="#ffa100"/><stop offset="0.676" stop-color="#ffa000"/><stop offset="0.706" stop-color="#ffc400"/><stop offset="0.735" stop-color="#ffdd00"/><stop offset="0.765" stop-color="#ffe200"/><stop offset="0.794" stop-color="#e7ff18"/><stop offset="0.824" stop-color="#e1ff1e"/><stop offset="0.853" stop-color="#8eff71"/><stop offset="0.882" stop-color="#7eff81"/><stop offset="0.912" stop-color="#31ffce"/><stop offset="0.941" stop-color="#06fff9"/><stop offset="0.971" stop-color="#00fcff"/><stop offset="1.000" stop-color="#00c2ff"/></linearGradient><linearGradient id="rv35" gradientUnits="userSpaceOnUse" x1="0" y1="96.9" x2="0" y2="439.9"><stop offset="0.000" stop-color="#ff7000"/><stop offset="0.026" stop-color="#ff8000"/><stop offset="0.053" stop-color="#ff9900"/><stop offset="0.079" stop-color="#ffa300"/><stop offset="0.105" stop-color="#ffe000"/><stop offset="0.132" stop-color="#ddff22"/><stop offset="0.158" stop-color="#dbff24"/><stop offset="0.184" stop-color="#e5ff1a"/><stop offset="0.211" stop-color="#e5ff1a"/><stop offset="0.237" stop-color="#e4ff1b"/><stop offset="0.263" stop-color="#d4ff2b"/><stop offset="0.289" stop-color="#b9ff46"/><stop offset="0.316" stop-color="#b9ff46"/><stop offset="0.342" stop-color="#ccff33"/><stop offset="0.368" stop-color="#e4ff1b"/><stop offset="0.395" stop-color="#eaff15"/><stop offset="0.421" stop-color="#fff700"/><stop offset="0.447" stop-color="#ff7600"/><stop offset="0.474" stop-color="#ff6400"/><stop offset="0.500" stop-color="#ff7900"/><stop offset="0.526" stop-color="#ff6c00"/><stop offset="0.553" stop-color="#ff7800"/><stop offset="0.579" stop-color="#ffa500"/><stop offset="0.605" stop-color="#ffa900"/><stop offset="0.632" stop-color="#ffac00"/><stop offset="0.658" stop-color="#ffd400"/><stop offset="0.684" stop-color="#ffe400"/><stop offset="0.711" stop-color="#fff300"/><stop offset="0.737" stop-color="#e2ff1d"/><stop offset="0.763" stop-color="#d3ff2c"/><stop offset="0.789" stop-color="#90ff6f"/><stop offset="0.816" stop-color="#76ff89"/><stop offset="0.842" stop-color="#37ffc8"/><stop offset="0.868" stop-color="#0bfff4"/><stop offset="0.895" stop-color="#00fdff"/><stop offset="0.921" stop-color="#00ccff"/><stop offset="0.947" stop-color="#00bfff"/><stop offset="0.974" stop-color="#00baff"/><stop offset="1.000" stop-color="#00abff"/></linearGradient><linearGradient id="rv36" gradientUnits="userSpaceOnUse" x1="0" y1="87.5" x2="0" y2="397.5"><stop offset="0.000" stop-color="#ff6400"/><stop offset="0.029" stop-color="#ff5a00"/><stop offset="0.059" stop-color="#ff5d00"/><stop offset="0.088" stop-color="#ff8100"/><stop offset="0.118" stop-color="#ffa300"/><stop offset="0.147" stop-color="#ffd400"/><stop offset="0.176" stop-color="#eeff11"/><stop offset="0.206" stop-color="#e6ff19"/><stop offset="0.235" stop-color="#e6ff19"/><stop offset="0.265" stop-color="#dfff20"/><stop offset="0.294" stop-color="#dcff23"/><stop offset="0.324" stop-color="#d2ff2d"/><stop offset="0.353" stop-color="#c0ff3f"/><stop offset="0.382" stop-color="#bfff40"/><stop offset="0.412" stop-color="#c6ff39"/><stop offset="0.441" stop-color="#d9ff26"/><stop offset="0.471" stop-color="#e5ff1a"/><stop offset="0.500" stop-color="#fffc00"/><stop offset="0.529" stop-color="#ffa200"/><stop offset="0.559" stop-color="#ff9400"/><stop offset="0.588" stop-color="#ff9800"/><stop offset="0.618" stop-color="#ff8a00"/><stop offset="0.647" stop-color="#ffa800"/><stop offset="0.676" stop-color="#ffc100"/><stop offset="0.706" stop-color="#ffc300"/><stop offset="0.735" stop-color="#ffd500"/><stop offset="0.765" stop-color="#fff000"/><stop offset="0.794" stop-color="#feff01"/><stop offset="0.824" stop-color="#e5ff1a"/><stop offset="0.853" stop-color="#cdff32"/><stop offset="0.882" stop-color="#aaff55"/><stop offset="0.912" stop-color="#7dff82"/><stop offset="0.941" stop-color="#57ffa8"/><stop offset="0.971" stop-color="#23ffdc"/><stop offset="1.000" stop-color="#09fff6"/></linearGradient><linearGradient id="rv37" gradientUnits="userSpaceOnUse" x1="0" y1="90.0" x2="0" y2="390.6"><stop offset="0.000" stop-color="#ff5300"/><stop offset="0.030" stop-color="#ff4200"/><stop offset="0.061" stop-color="#ff3f00"/><stop offset="0.091" stop-color="#ff7600"/><stop offset="0.121" stop-color="#ffab00"/><stop offset="0.152" stop-color="#ffd700"/><stop offset="0.182" stop-color="#f1ff0e"/><stop offset="0.212" stop-color="#e9ff16"/><stop offset="0.242" stop-color="#e0ff1f"/><stop offset="0.273" stop-color="#d1ff2e"/><stop offset="0.303" stop-color="#d1ff2e"/><stop offset="0.333" stop-color="#cfff30"/><stop offset="0.364" stop-color="#c4ff3b"/><stop offset="0.394" stop-color="#bcff43"/><stop offset="0.424" stop-color="#bcff43"/><stop offset="0.455" stop-color="#ccff33"/><stop offset="0.485" stop-color="#ccff33"/><stop offset="0.515" stop-color="#e2ff1d"/><stop offset="0.545" stop-color="#ffcb00"/><stop offset="0.576" stop-color="#ffbd00"/><stop offset="0.606" stop-color="#ffb400"/><stop offset="0.636" stop-color="#ffbb00"/><stop offset="0.667" stop-color="#ffd100"/><stop offset="0.697" stop-color="#ffd800"/><stop offset="0.727" stop-color="#ffec00"/><stop offset="0.758" stop-color="#fffa00"/><stop offset="0.788" stop-color="#f2ff0d"/><stop offset="0.818" stop-color="#d2ff2d"/><stop offset="0.848" stop-color="#c6ff39"/><stop offset="0.879" stop-color="#abff54"/><stop offset="0.909" stop-color="#87ff78"/><stop offset="0.939" stop-color="#6bff94"/><stop offset="0.970" stop-color="#36ffc9"/><stop offset="1.000" stop-color="#14ffeb"/></linearGradient><linearGradient id="rv38" gradientUnits="userSpaceOnUse" x1="0" y1="103.1" x2="0" y2="390.9"><stop offset="0.000" stop-color="#ff2e00"/><stop offset="0.032" stop-color="#ff3300"/><stop offset="0.065" stop-color="#ffa200"/><stop offset="0.097" stop-color="#ffb400"/><stop offset="0.129" stop-color="#fffd00"/><stop offset="0.161" stop-color="#e7ff18"/><stop offset="0.194" stop-color="#e5ff1a"/><stop offset="0.226" stop-color="#cdff32"/><stop offset="0.258" stop-color="#c9ff36"/><stop offset="0.290" stop-color="#ceff31"/><stop offset="0.323" stop-color="#c9ff36"/><stop offset="0.355" stop-color="#b9ff46"/><stop offset="0.387" stop-color="#b4ff4b"/><stop offset="0.419" stop-color="#bbff44"/><stop offset="0.452" stop-color="#bcff43"/><stop offset="0.484" stop-color="#baff45"/><stop offset="0.516" stop-color="#fff900"/><stop offset="0.548" stop-color="#ffc800"/><stop offset="0.581" stop-color="#ffc500"/><stop offset="0.613" stop-color="#ffcf00"/><stop offset="0.645" stop-color="#ffda00"/><stop offset="0.677" stop-color="#ffde00"/><stop offset="0.710" stop-color="#fffc00"/><stop offset="0.742" stop-color="#fbff04"/><stop offset="0.774" stop-color="#ebff14"/><stop offset="0.806" stop-color="#c2ff3d"/><stop offset="0.839" stop-color="#bdff42"/><stop offset="0.871" stop-color="#9cff63"/><stop offset="0.903" stop-color="#80ff7f"/><stop offset="0.935" stop-color="#6cff93"/><stop offset="0.968" stop-color="#2effd1"/><stop offset="1.000" stop-color="#0bfff4"/></linearGradient><linearGradient id="rv39" gradientUnits="userSpaceOnUse" x1="0" y1="105.5" x2="0" y2="396.9"><stop offset="0.000" stop-color="#ff2500"/><stop offset="0.031" stop-color="#ff3100"/><stop offset="0.062" stop-color="#ffb200"/><stop offset="0.094" stop-color="#ffb600"/><stop offset="0.125" stop-color="#efff10"/><stop offset="0.156" stop-color="#e6ff19"/><stop offset="0.188" stop-color="#e3ff1c"/><stop offset="0.219" stop-color="#c8ff37"/><stop offset="0.250" stop-color="#c7ff38"/><stop offset="0.281" stop-color="#ccff33"/><stop offset="0.312" stop-color="#c8ff37"/><stop offset="0.344" stop-color="#b5ff4a"/><stop offset="0.375" stop-color="#b3ff4c"/><stop offset="0.406" stop-color="#b6ff49"/><stop offset="0.438" stop-color="#b5ff4a"/><stop offset="0.469" stop-color="#b3ff4c"/><stop offset="0.500" stop-color="#f4ff0b"/><stop offset="0.531" stop-color="#ffc700"/><stop offset="0.562" stop-color="#ffc800"/><stop offset="0.594" stop-color="#ffd500"/><stop offset="0.625" stop-color="#ffdb00"/><stop offset="0.656" stop-color="#ffdd00"/><stop offset="0.688" stop-color="#ffff00"/><stop offset="0.719" stop-color="#faff05"/><stop offset="0.750" stop-color="#f2ff0d"/><stop offset="0.781" stop-color="#bfff40"/><stop offset="0.812" stop-color="#bdff42"/><stop offset="0.844" stop-color="#a8ff57"/><stop offset="0.875" stop-color="#80ff7f"/><stop offset="0.906" stop-color="#7dff82"/><stop offset="0.938" stop-color="#32ffcd"/><stop offset="0.969" stop-color="#27ffd8"/><stop offset="1.000" stop-color="#00f1ff"/></linearGradient><linearGradient id="rv40" gradientUnits="userSpaceOnUse" x1="0" y1="109.8" x2="0" y2="396.9"><stop offset="0.000" stop-color="#ff2400"/><stop offset="0.032" stop-color="#ff9d00"/><stop offset="0.065" stop-color="#ffb200"/><stop offset="0.097" stop-color="#ffe200"/><stop offset="0.129" stop-color="#e6ff19"/><stop offset="0.161" stop-color="#e6ff19"/><stop offset="0.194" stop-color="#ceff31"/><stop offset="0.226" stop-color="#c7ff38"/><stop offset="0.258" stop-color="#c8ff37"/><stop offset="0.290" stop-color="#cdff32"/><stop offset="0.323" stop-color="#b9ff46"/><stop offset="0.355" stop-color="#b3ff4c"/><stop offset="0.387" stop-color="#b3ff4c"/><stop offset="0.419" stop-color="#b6ff49"/><stop offset="0.452" stop-color="#b3ff4c"/><stop offset="0.484" stop-color="#c5ff3a"/><stop offset="0.516" stop-color="#ffc800"/><stop offset="0.548" stop-color="#ffc700"/><stop offset="0.581" stop-color="#ffd400"/><stop offset="0.613" stop-color="#ffdb00"/><stop offset="0.645" stop-color="#ffdc00"/><stop offset="0.677" stop-color="#fffc00"/><stop offset="0.710" stop-color="#faff05"/><stop offset="0.742" stop-color="#f7ff08"/><stop offset="0.774" stop-color="#bfff40"/><stop offset="0.806" stop-color="#bdff42"/><stop offset="0.839" stop-color="#adff52"/><stop offset="0.871" stop-color="#80ff7f"/><stop offset="0.903" stop-color="#7fff80"/><stop offset="0.935" stop-color="#31ffce"/><stop offset="0.968" stop-color="#2dffd2"/><stop offset="1.000" stop-color="#00f0ff"/></linearGradient><linearGradient id="rv41" gradientUnits="userSpaceOnUse" x1="0" y1="114.3" x2="0" y2="398.9"><stop offset="0.000" stop-color="#ff2d00"/><stop offset="0.032" stop-color="#ffb100"/><stop offset="0.065" stop-color="#ffb500"/><stop offset="0.097" stop-color="#f2ff0d"/><stop offset="0.129" stop-color="#e6ff19"/><stop offset="0.161" stop-color="#e5ff1a"/><stop offset="0.194" stop-color="#c8ff37"/><stop offset="0.226" stop-color="#c7ff38"/><stop offset="0.258" stop-color="#ccff33"/><stop offset="0.290" stop-color="#c8ff37"/><stop offset="0.323" stop-color="#b5ff4a"/><stop offset="0.355" stop-color="#b3ff4c"/><stop offset="0.387" stop-color="#b6ff49"/><stop offset="0.419" stop-color="#b4ff4b"/><stop offset="0.452" stop-color="#b3ff4c"/><stop offset="0.484" stop-color="#ffff00"/><stop offset="0.516" stop-color="#ffc700"/><stop offset="0.548" stop-color="#ffca00"/><stop offset="0.581" stop-color="#ffdd00"/><stop offset="0.613" stop-color="#ffdb00"/><stop offset="0.645" stop-color="#ffe100"/><stop offset="0.677" stop-color="#faff05"/><stop offset="0.710" stop-color="#faff05"/><stop offset="0.742" stop-color="#e7ff18"/><stop offset="0.774" stop-color="#bdff42"/><stop offset="0.806" stop-color="#bcff43"/><stop offset="0.839" stop-color="#96ff69"/><stop offset="0.871" stop-color="#7fff80"/><stop offset="0.903" stop-color="#78ff87"/><stop offset="0.935" stop-color="#2effd1"/><stop offset="0.968" stop-color="#13ffec"/><stop offset="1.000" stop-color="#00f1ff"/></linearGradient><linearGradient id="rv42" gradientUnits="userSpaceOnUse" x1="0" y1="120.4" x2="0" y2="401.0"><stop offset="0.000" stop-color="#ff9800"/><stop offset="0.032" stop-color="#ffaf00"/><stop offset="0.065" stop-color="#ffdc00"/><stop offset="0.097" stop-color="#ecff13"/><stop offset="0.129" stop-color="#edff12"/><stop offset="0.161" stop-color="#d9ff26"/><stop offset="0.194" stop-color="#c9ff36"/><stop offset="0.226" stop-color="#ccff33"/><stop offset="0.258" stop-color="#d2ff2d"/><stop offset="0.290" stop-color="#c1ff3e"/><stop offset="0.323" stop-color="#b4ff4b"/><stop offset="0.355" stop-color="#b5ff4a"/><stop offset="0.387" stop-color="#baff45"/><stop offset="0.419" stop-color="#b5ff4a"/><stop offset="0.452" stop-color="#c4ff3b"/><stop offset="0.484" stop-color="#ffd900"/><stop offset="0.516" stop-color="#ffcb00"/><stop offset="0.548" stop-color="#ffdc00"/><stop offset="0.581" stop-color="#ffe100"/><stop offset="0.613" stop-color="#ffdf00"/><stop offset="0.645" stop-color="#fffb00"/><stop offset="0.677" stop-color="#f6ff09"/><stop offset="0.710" stop-color="#f4ff0b"/><stop offset="0.742" stop-color="#c9ff36"/><stop offset="0.774" stop-color="#bbff44"/><stop offset="0.806" stop-color="#b2ff4d"/><stop offset="0.839" stop-color="#84ff7b"/><stop offset="0.871" stop-color="#7dff82"/><stop offset="0.903" stop-color="#5affa5"/><stop offset="0.935" stop-color="#2affd5"/><stop offset="0.968" stop-color="#04fffb"/><stop offset="1.000" stop-color="#00f5ff"/></linearGradient><linearGradient id="rv43" gradientUnits="userSpaceOnUse" x1="0" y1="125.6" x2="0" y2="406.0"><stop offset="0.000" stop-color="#ffa200"/><stop offset="0.032" stop-color="#ffaa00"/><stop offset="0.065" stop-color="#ffdb00"/><stop offset="0.097" stop-color="#fffa00"/><stop offset="0.129" stop-color="#feff01"/><stop offset="0.161" stop-color="#d9ff26"/><stop offset="0.194" stop-color="#d1ff2e"/><stop offset="0.226" stop-color="#d6ff29"/><stop offset="0.258" stop-color="#d0ff2f"/><stop offset="0.290" stop-color="#bfff40"/><stop offset="0.323" stop-color="#b8ff47"/><stop offset="0.355" stop-color="#bdff42"/><stop offset="0.387" stop-color="#bcff43"/><stop offset="0.419" stop-color="#c0ff3f"/><stop offset="0.452" stop-color="#f3ff0c"/><stop offset="0.484" stop-color="#ffdd00"/><stop offset="0.516" stop-color="#ffe800"/><stop offset="0.548" stop-color="#fff700"/><stop offset="0.581" stop-color="#fff100"/><stop offset="0.613" stop-color="#f8ff07"/><stop offset="0.645" stop-color="#e4ff1b"/><stop offset="0.677" stop-color="#e7ff18"/><stop offset="0.710" stop-color="#caff35"/><stop offset="0.742" stop-color="#afff50"/><stop offset="0.774" stop-color="#a9ff56"/><stop offset="0.806" stop-color="#85ff7a"/><stop offset="0.839" stop-color="#74ff8b"/><stop offset="0.871" stop-color="#61ff9e"/><stop offset="0.903" stop-color="#31ffce"/><stop offset="0.935" stop-color="#17ffe8"/><stop offset="0.968" stop-color="#00faff"/><stop offset="1.000" stop-color="#00edff"/></linearGradient><linearGradient id="rv44" gradientUnits="userSpaceOnUse" x1="0" y1="130.7" x2="0" y2="409.1"><stop offset="0.000" stop-color="#ff8a00"/><stop offset="0.033" stop-color="#ff7900"/><stop offset="0.067" stop-color="#ffac00"/><stop offset="0.100" stop-color="#ffdb00"/><stop offset="0.133" stop-color="#fff900"/><stop offset="0.167" stop-color="#e4ff1b"/><stop offset="0.200" stop-color="#ddff22"/><stop offset="0.233" stop-color="#d5ff2a"/><stop offset="0.267" stop-color="#ceff31"/><stop offset="0.300" stop-color="#c2ff3d"/><stop offset="0.333" stop-color="#c2ff3d"/><stop offset="0.367" stop-color="#c1ff3e"/><stop offset="0.400" stop-color="#c3ff3c"/><stop offset="0.433" stop-color="#dfff20"/><stop offset="0.467" stop-color="#fdff02"/><stop offset="0.500" stop-color="#efff10"/><stop offset="0.533" stop-color="#ebff14"/><stop offset="0.567" stop-color="#e2ff1d"/><stop offset="0.600" stop-color="#cdff32"/><stop offset="0.633" stop-color="#c7ff38"/><stop offset="0.667" stop-color="#c5ff3a"/><stop offset="0.700" stop-color="#a5ff5a"/><stop offset="0.733" stop-color="#95ff6a"/><stop offset="0.767" stop-color="#80ff7f"/><stop offset="0.800" stop-color="#66ff99"/><stop offset="0.833" stop-color="#5bffa4"/><stop offset="0.867" stop-color="#39ffc6"/><stop offset="0.900" stop-color="#22ffdd"/><stop offset="0.933" stop-color="#04fffb"/><stop offset="0.967" stop-color="#00e8ff"/><stop offset="1.000" stop-color="#00d8ff"/></linearGradient><linearGradient id="rv45" gradientUnits="userSpaceOnUse" x1="0" y1="131.0" x2="0" y2="404.1"><stop offset="0.000" stop-color="#ff5e00"/><stop offset="0.033" stop-color="#ff3d00"/><stop offset="0.067" stop-color="#ff6f00"/><stop offset="0.100" stop-color="#ffd100"/><stop offset="0.133" stop-color="#ffe000"/><stop offset="0.167" stop-color="#feff01"/><stop offset="0.200" stop-color="#e3ff1c"/><stop offset="0.233" stop-color="#d4ff2b"/><stop offset="0.267" stop-color="#d2ff2d"/><stop offset="0.300" stop-color="#ceff31"/><stop offset="0.333" stop-color="#c7ff38"/><stop offset="0.367" stop-color="#c1ff3e"/><stop offset="0.400" stop-color="#bfff40"/><stop offset="0.433" stop-color="#caff35"/><stop offset="0.467" stop-color="#e1ff1e"/><stop offset="0.500" stop-color="#d8ff27"/><stop offset="0.533" stop-color="#d7ff28"/><stop offset="0.567" stop-color="#c5ff3a"/><stop offset="0.600" stop-color="#b2ff4d"/><stop offset="0.633" stop-color="#b6ff49"/><stop offset="0.667" stop-color="#b4ff4b"/><stop offset="0.700" stop-color="#9aff65"/><stop offset="0.733" stop-color="#85ff7a"/><stop offset="0.767" stop-color="#72ff8d"/><stop offset="0.800" stop-color="#55ffaa"/><stop offset="0.833" stop-color="#50ffaf"/><stop offset="0.867" stop-color="#2effd1"/><stop offset="0.900" stop-color="#1effe1"/><stop offset="0.933" stop-color="#0cfff3"/><stop offset="0.967" stop-color="#00dfff"/><stop offset="1.000" stop-color="#00d5ff"/></linearGradient><linearGradient id="rv46" gradientUnits="userSpaceOnUse" x1="0" y1="134.5" x2="0" y2="408.6"><stop offset="0.000" stop-color="#ff3200"/><stop offset="0.033" stop-color="#ff2800"/><stop offset="0.067" stop-color="#ffa500"/><stop offset="0.100" stop-color="#ffda00"/><stop offset="0.133" stop-color="#ffde00"/><stop offset="0.167" stop-color="#feff01"/><stop offset="0.200" stop-color="#d8ff27"/><stop offset="0.233" stop-color="#d1ff2e"/><stop offset="0.267" stop-color="#d2ff2d"/><stop offset="0.300" stop-color="#d0ff2f"/><stop offset="0.333" stop-color="#c4ff3b"/><stop offset="0.367" stop-color="#bdff42"/><stop offset="0.400" stop-color="#beff41"/><stop offset="0.433" stop-color="#ccff33"/><stop offset="0.467" stop-color="#d3ff2c"/><stop offset="0.500" stop-color="#d1ff2e"/><stop offset="0.533" stop-color="#cbff34"/><stop offset="0.567" stop-color="#acff53"/><stop offset="0.600" stop-color="#abff54"/><stop offset="0.633" stop-color="#b2ff4d"/><stop offset="0.667" stop-color="#abff54"/><stop offset="0.700" stop-color="#82ff7d"/><stop offset="0.733" stop-color="#7eff81"/><stop offset="0.767" stop-color="#52ffad"/><stop offset="0.800" stop-color="#4dffb2"/><stop offset="0.833" stop-color="#38ffc7"/><stop offset="0.867" stop-color="#1bffe4"/><stop offset="0.900" stop-color="#18ffe7"/><stop offset="0.933" stop-color="#00e5ff"/><stop offset="0.967" stop-color="#00d2ff"/><stop offset="1.000" stop-color="#00cdff"/></linearGradient><linearGradient id="rv47" gradientUnits="userSpaceOnUse" x1="0" y1="140.2" x2="0" y2="414.7"><stop offset="0.000" stop-color="#ff2400"/><stop offset="0.033" stop-color="#ff3c00"/><stop offset="0.067" stop-color="#ffdb00"/><stop offset="0.100" stop-color="#ffda00"/><stop offset="0.133" stop-color="#ffe500"/><stop offset="0.167" stop-color="#e4ff1b"/><stop offset="0.200" stop-color="#d1ff2e"/><stop offset="0.233" stop-color="#d1ff2e"/><stop offset="0.267" stop-color="#d4ff2b"/><stop offset="0.300" stop-color="#cbff34"/><stop offset="0.333" stop-color="#beff41"/><stop offset="0.367" stop-color="#bdff42"/><stop offset="0.400" stop-color="#c0ff3f"/><stop offset="0.433" stop-color="#d1ff2e"/><stop offset="0.467" stop-color="#d1ff2e"/><stop offset="0.500" stop-color="#d0ff2f"/><stop offset="0.533" stop-color="#adff52"/><stop offset="0.567" stop-color="#a8ff57"/><stop offset="0.600" stop-color="#b2ff4d"/><stop offset="0.633" stop-color="#b2ff4d"/><stop offset="0.667" stop-color="#84ff7b"/><stop offset="0.700" stop-color="#7fff80"/><stop offset="0.733" stop-color="#5affa5"/><stop offset="0.767" stop-color="#4dffb2"/><stop offset="0.800" stop-color="#46ffb9"/><stop offset="0.833" stop-color="#1bffe4"/><stop offset="0.867" stop-color="#19ffe6"/><stop offset="0.900" stop-color="#00faff"/><stop offset="0.933" stop-color="#00d1ff"/><stop offset="0.967" stop-color="#00d1ff"/><stop offset="1.000" stop-color="#00a3ff"/></linearGradient><linearGradient id="rv48" gradientUnits="userSpaceOnUse" x1="0" y1="146.4" x2="0" y2="434.2"><stop offset="0.000" stop-color="#ff2500"/><stop offset="0.032" stop-color="#ffd800"/><stop offset="0.065" stop-color="#ffdb00"/><stop offset="0.097" stop-color="#ffd900"/><stop offset="0.129" stop-color="#faff05"/><stop offset="0.161" stop-color="#d3ff2c"/><stop offset="0.194" stop-color="#d1ff2e"/><stop offset="0.226" stop-color="#d5ff2a"/><stop offset="0.258" stop-color="#d1ff2e"/><stop offset="0.290" stop-color="#bfff40"/><stop offset="0.323" stop-color="#bdff42"/><stop offset="0.355" stop-color="#beff41"/><stop offset="0.387" stop-color="#cfff30"/><stop offset="0.419" stop-color="#d1ff2e"/><stop offset="0.452" stop-color="#d1ff2e"/><stop offset="0.484" stop-color="#afff50"/><stop offset="0.516" stop-color="#a8ff57"/><stop offset="0.548" stop-color="#b1ff4e"/><stop offset="0.581" stop-color="#b2ff4d"/><stop offset="0.613" stop-color="#85ff7a"/><stop offset="0.645" stop-color="#7fff80"/><stop offset="0.677" stop-color="#5bffa4"/><stop offset="0.710" stop-color="#4dffb2"/><stop offset="0.742" stop-color="#45ffba"/><stop offset="0.774" stop-color="#1affe5"/><stop offset="0.806" stop-color="#19ffe6"/><stop offset="0.839" stop-color="#00f4ff"/><stop offset="0.871" stop-color="#00d1ff"/><stop offset="0.903" stop-color="#00d1ff"/><stop offset="0.935" stop-color="#009dff"/><stop offset="0.968" stop-color="#0094ff"/><stop offset="1.000" stop-color="#0095ff"/></linearGradient><linearGradient id="rv49" gradientUnits="userSpaceOnUse" x1="0" y1="157.0" x2="0" y2="418.5"><stop offset="0.000" stop-color="#ffd500"/><stop offset="0.034" stop-color="#ffd800"/><stop offset="0.069" stop-color="#ffd000"/><stop offset="0.103" stop-color="#fff300"/><stop offset="0.138" stop-color="#d7ff28"/><stop offset="0.172" stop-color="#d2ff2d"/><stop offset="0.207" stop-color="#d8ff27"/><stop offset="0.241" stop-color="#d7ff28"/><stop offset="0.276" stop-color="#c2ff3d"/><stop offset="0.310" stop-color="#bdff42"/><stop offset="0.345" stop-color="#beff41"/><stop offset="0.379" stop-color="#cbff34"/><stop offset="0.414" stop-color="#d1ff2e"/><stop offset="0.448" stop-color="#d0ff2f"/><stop offset="0.483" stop-color="#baff45"/><stop offset="0.517" stop-color="#a9ff56"/><stop offset="0.552" stop-color="#acff53"/><stop offset="0.586" stop-color="#b2ff4d"/><stop offset="0.621" stop-color="#9eff61"/><stop offset="0.655" stop-color="#80ff7f"/><stop offset="0.690" stop-color="#77ff88"/><stop offset="0.724" stop-color="#4effb1"/><stop offset="0.759" stop-color="#4cffb3"/><stop offset="0.793" stop-color="#29ffd6"/><stop offset="0.828" stop-color="#1affe5"/><stop offset="0.862" stop-color="#15ffea"/><stop offset="0.897" stop-color="#00dbff"/><stop offset="0.931" stop-color="#00d1ff"/><stop offset="0.966" stop-color="#00caff"/><stop offset="1.000" stop-color="#0097ff"/></linearGradient><linearGradient id="rv50" gradientUnits="userSpaceOnUse" x1="0" y1="161.5" x2="0" y2="400.5"><stop offset="0.000" stop-color="#ffd200"/><stop offset="0.038" stop-color="#ffc800"/><stop offset="0.077" stop-color="#ffb500"/><stop offset="0.115" stop-color="#fff400"/><stop offset="0.154" stop-color="#ddff22"/><stop offset="0.192" stop-color="#dfff20"/><stop offset="0.231" stop-color="#e4ff1b"/><stop offset="0.269" stop-color="#cfff30"/><stop offset="0.308" stop-color="#c1ff3e"/><stop offset="0.346" stop-color="#bfff40"/><stop offset="0.385" stop-color="#c7ff38"/><stop offset="0.423" stop-color="#ceff31"/><stop offset="0.462" stop-color="#cfff30"/><stop offset="0.500" stop-color="#c0ff3f"/><stop offset="0.538" stop-color="#acff53"/><stop offset="0.577" stop-color="#abff54"/><stop offset="0.615" stop-color="#afff50"/><stop offset="0.654" stop-color="#a1ff5e"/><stop offset="0.692" stop-color="#81ff7e"/><stop offset="0.731" stop-color="#76ff89"/><stop offset="0.769" stop-color="#52ffad"/><stop offset="0.808" stop-color="#4affb5"/><stop offset="0.846" stop-color="#2dffd2"/><stop offset="0.885" stop-color="#19ffe6"/><stop offset="0.923" stop-color="#10ffef"/><stop offset="0.962" stop-color="#00e2ff"/><stop offset="1.000" stop-color="#00d3ff"/></linearGradient><linearGradient id="rv51" gradientUnits="userSpaceOnUse" x1="0" y1="160.8" x2="0" y2="388.8"><stop offset="0.000" stop-color="#ffc100"/><stop offset="0.040" stop-color="#ffb100"/><stop offset="0.080" stop-color="#ff8200"/><stop offset="0.120" stop-color="#ffa700"/><stop offset="0.160" stop-color="#fff400"/><stop offset="0.200" stop-color="#faff05"/><stop offset="0.240" stop-color="#f0ff0f"/><stop offset="0.280" stop-color="#d8ff27"/><stop offset="0.320" stop-color="#caff35"/><stop offset="0.360" stop-color="#c4ff3b"/><stop offset="0.400" stop-color="#c6ff39"/><stop offset="0.440" stop-color="#c7ff38"/><stop offset="0.480" stop-color="#c9ff36"/><stop offset="0.520" stop-color="#bcff43"/><stop offset="0.560" stop-color="#aeff51"/><stop offset="0.600" stop-color="#abff54"/><stop offset="0.640" stop-color="#abff54"/><stop offset="0.680" stop-color="#9fff60"/><stop offset="0.720" stop-color="#82ff7d"/><stop offset="0.760" stop-color="#74ff8b"/><stop offset="0.800" stop-color="#59ffa6"/><stop offset="0.840" stop-color="#46ffb9"/><stop offset="0.880" stop-color="#32ffcd"/><stop offset="0.920" stop-color="#16ffe9"/><stop offset="0.960" stop-color="#05fffa"/><stop offset="1.000" stop-color="#00eeff"/></linearGradient><linearGradient id="rv52" gradientUnits="userSpaceOnUse" x1="0" y1="160.9" x2="0" y2="388.8"><stop offset="0.000" stop-color="#ffad00"/><stop offset="0.040" stop-color="#ff8700"/><stop offset="0.080" stop-color="#ff5000"/><stop offset="0.120" stop-color="#ff6900"/><stop offset="0.160" stop-color="#ffca00"/><stop offset="0.200" stop-color="#ffe500"/><stop offset="0.240" stop-color="#f8ff07"/><stop offset="0.280" stop-color="#d8ff27"/><stop offset="0.320" stop-color="#d1ff2e"/><stop offset="0.360" stop-color="#cbff34"/><stop offset="0.400" stop-color="#c3ff3c"/><stop offset="0.440" stop-color="#c0ff3f"/><stop offset="0.480" stop-color="#c0ff3f"/><stop offset="0.520" stop-color="#b2ff4d"/><stop offset="0.560" stop-color="#acff53"/><stop offset="0.600" stop-color="#aaff55"/><stop offset="0.640" stop-color="#a7ff58"/><stop offset="0.680" stop-color="#98ff67"/><stop offset="0.720" stop-color="#78ff87"/><stop offset="0.760" stop-color="#6dff92"/><stop offset="0.800" stop-color="#53ffac"/><stop offset="0.840" stop-color="#38ffc7"/><stop offset="0.880" stop-color="#2cffd3"/><stop offset="0.920" stop-color="#06fff9"/><stop offset="0.960" stop-color="#00ebff"/><stop offset="1.000" stop-color="#00e8ff"/></linearGradient><linearGradient id="rv53" gradientUnits="userSpaceOnUse" x1="0" y1="163.9" x2="0" y2="389.9"><stop offset="0.000" stop-color="#ff8c00"/><stop offset="0.040" stop-color="#ff4c00"/><stop offset="0.080" stop-color="#ff3000"/><stop offset="0.120" stop-color="#ff6700"/><stop offset="0.160" stop-color="#ffd400"/><stop offset="0.200" stop-color="#ffdf00"/><stop offset="0.240" stop-color="#e9ff16"/><stop offset="0.280" stop-color="#d3ff2c"/><stop offset="0.320" stop-color="#d2ff2d"/><stop offset="0.360" stop-color="#cbff34"/><stop offset="0.400" stop-color="#bfff40"/><stop offset="0.440" stop-color="#bdff42"/><stop offset="0.480" stop-color="#b7ff48"/><stop offset="0.520" stop-color="#aaff55"/><stop offset="0.560" stop-color="#a9ff56"/><stop offset="0.600" stop-color="#a8ff57"/><stop offset="0.640" stop-color="#a7ff58"/><stop offset="0.680" stop-color="#8cff73"/><stop offset="0.720" stop-color="#6eff91"/><stop offset="0.760" stop-color="#69ff96"/><stop offset="0.800" stop-color="#44ffbb"/><stop offset="0.840" stop-color="#2fffd0"/><stop offset="0.880" stop-color="#28ffd7"/><stop offset="0.920" stop-color="#00eeff"/><stop offset="0.960" stop-color="#00deff"/><stop offset="1.000" stop-color="#00e2ff"/></linearGradient><linearGradient id="rv54" gradientUnits="userSpaceOnUse" x1="0" y1="173.4" x2="0" y2="392.1"><stop offset="0.000" stop-color="#ff3700"/><stop offset="0.042" stop-color="#ff2500"/><stop offset="0.083" stop-color="#ff6200"/><stop offset="0.125" stop-color="#ffda00"/><stop offset="0.167" stop-color="#ffdd00"/><stop offset="0.208" stop-color="#e0ff1f"/><stop offset="0.250" stop-color="#d1ff2e"/><stop offset="0.292" stop-color="#d2ff2d"/><stop offset="0.333" stop-color="#c8ff37"/><stop offset="0.375" stop-color="#bdff42"/><stop offset="0.417" stop-color="#bdff42"/><stop offset="0.458" stop-color="#b2ff4d"/><stop offset="0.500" stop-color="#a8ff57"/><stop offset="0.542" stop-color="#a9ff56"/><stop offset="0.583" stop-color="#a8ff57"/><stop offset="0.625" stop-color="#a7ff58"/><stop offset="0.667" stop-color="#7eff81"/><stop offset="0.708" stop-color="#6bff94"/><stop offset="0.750" stop-color="#68ff97"/><stop offset="0.792" stop-color="#35ffca"/><stop offset="0.833" stop-color="#2effd1"/><stop offset="0.875" stop-color="#22ffdd"/><stop offset="0.917" stop-color="#00deff"/><stop offset="0.958" stop-color="#00dcff"/><stop offset="1.000" stop-color="#00e0ff"/></linearGradient><linearGradient id="rv55" gradientUnits="userSpaceOnUse" x1="0" y1="182.9" x2="0" y2="388.4"><stop offset="0.000" stop-color="#ff2400"/><stop offset="0.045" stop-color="#ff7300"/><stop offset="0.091" stop-color="#ffdb00"/><stop offset="0.136" stop-color="#ffde00"/><stop offset="0.182" stop-color="#d9ff26"/><stop offset="0.227" stop-color="#d1ff2e"/><stop offset="0.273" stop-color="#d2ff2d"/><stop offset="0.318" stop-color="#c4ff3b"/><stop offset="0.364" stop-color="#bdff42"/><stop offset="0.409" stop-color="#bdff42"/><stop offset="0.455" stop-color="#abff54"/><stop offset="0.500" stop-color="#a8ff57"/><stop offset="0.545" stop-color="#a8ff57"/><stop offset="0.591" stop-color="#a8ff57"/><stop offset="0.636" stop-color="#a3ff5c"/><stop offset="0.682" stop-color="#6dff92"/><stop offset="0.727" stop-color="#6bff94"/><stop offset="0.773" stop-color="#55ffaa"/><stop offset="0.818" stop-color="#2effd1"/><stop offset="0.864" stop-color="#2effd1"/><stop offset="0.909" stop-color="#00eeff"/><stop offset="0.955" stop-color="#00dbff"/><stop offset="1.000" stop-color="#00dcff"/></linearGradient><linearGradient id="rv56" gradientUnits="userSpaceOnUse" x1="0" y1="187.8" x2="0" y2="387.9"><stop offset="0.000" stop-color="#ff2700"/><stop offset="0.045" stop-color="#ffd800"/><stop offset="0.091" stop-color="#ffda00"/><stop offset="0.136" stop-color="#fff800"/><stop offset="0.182" stop-color="#d3ff2c"/><stop offset="0.227" stop-color="#d1ff2e"/><stop offset="0.273" stop-color="#d5ff2a"/><stop offset="0.318" stop-color="#c0ff3f"/><stop offset="0.364" stop-color="#bdff42"/><stop offset="0.409" stop-color="#bbff44"/><stop offset="0.455" stop-color="#a9ff56"/><stop offset="0.500" stop-color="#a8ff57"/><stop offset="0.545" stop-color="#a8ff57"/><stop offset="0.591" stop-color="#a8ff57"/><stop offset="0.636" stop-color="#9bff64"/><stop offset="0.682" stop-color="#6cff93"/><stop offset="0.727" stop-color="#6bff94"/><stop offset="0.773" stop-color="#4dffb2"/><stop offset="0.818" stop-color="#2effd1"/><stop offset="0.864" stop-color="#2dffd2"/><stop offset="0.909" stop-color="#00f0ff"/><stop offset="0.955" stop-color="#00dbff"/><stop offset="1.000" stop-color="#00ddff"/></linearGradient><linearGradient id="rv57" gradientUnits="userSpaceOnUse" x1="0" y1="205.5" x2="0" y2="383.6"><stop offset="0.000" stop-color="#ffd600"/><stop offset="0.053" stop-color="#ffea00"/><stop offset="0.105" stop-color="#dbff24"/><stop offset="0.158" stop-color="#d5ff2a"/><stop offset="0.211" stop-color="#ddff22"/><stop offset="0.263" stop-color="#c3ff3c"/><stop offset="0.316" stop-color="#beff41"/><stop offset="0.368" stop-color="#baff45"/><stop offset="0.421" stop-color="#aaff55"/><stop offset="0.474" stop-color="#a9ff56"/><stop offset="0.526" stop-color="#a8ff57"/><stop offset="0.579" stop-color="#a6ff59"/><stop offset="0.632" stop-color="#85ff7a"/><stop offset="0.684" stop-color="#6bff94"/><stop offset="0.737" stop-color="#66ff99"/><stop offset="0.789" stop-color="#38ffc7"/><stop offset="0.842" stop-color="#2effd1"/><stop offset="0.895" stop-color="#1dffe2"/><stop offset="0.947" stop-color="#00e1ff"/><stop offset="1.000" stop-color="#00ddff"/></linearGradient><linearGradient id="rv58" gradientUnits="userSpaceOnUse" x1="0" y1="206.7" x2="0" y2="368.7"><stop offset="0.000" stop-color="#ffcc00"/><stop offset="0.056" stop-color="#ffd100"/><stop offset="0.111" stop-color="#fffe00"/><stop offset="0.167" stop-color="#edff12"/><stop offset="0.222" stop-color="#f1ff0e"/><stop offset="0.278" stop-color="#d7ff28"/><stop offset="0.333" stop-color="#c4ff3b"/><stop offset="0.389" stop-color="#c0ff3f"/><stop offset="0.444" stop-color="#b2ff4d"/><stop offset="0.500" stop-color="#adff52"/><stop offset="0.556" stop-color="#a8ff57"/><stop offset="0.611" stop-color="#a2ff5d"/><stop offset="0.667" stop-color="#90ff6f"/><stop offset="0.722" stop-color="#6fff90"/><stop offset="0.778" stop-color="#65ff9a"/><stop offset="0.833" stop-color="#4bffb4"/><stop offset="0.889" stop-color="#2effd1"/><stop offset="0.944" stop-color="#27ffd8"/><stop offset="1.000" stop-color="#04fffb"/></linearGradient><linearGradient id="rv59" gradientUnits="userSpaceOnUse" x1="0" y1="206.4" x2="0" y2="360.9"><stop offset="0.000" stop-color="#ffb800"/><stop offset="0.059" stop-color="#ff9b00"/><stop offset="0.118" stop-color="#ff9e00"/><stop offset="0.176" stop-color="#ffce00"/><stop offset="0.235" stop-color="#fff200"/><stop offset="0.294" stop-color="#f6ff09"/><stop offset="0.353" stop-color="#d9ff26"/><stop offset="0.412" stop-color="#c8ff37"/><stop offset="0.471" stop-color="#bfff40"/><stop offset="0.529" stop-color="#baff45"/><stop offset="0.588" stop-color="#a8ff57"/><stop offset="0.647" stop-color="#94ff6b"/><stop offset="0.706" stop-color="#84ff7b"/><stop offset="0.765" stop-color="#69ff96"/><stop offset="0.824" stop-color="#57ffa8"/><stop offset="0.882" stop-color="#40ffbf"/><stop offset="0.941" stop-color="#21ffde"/><stop offset="1.000" stop-color="#19ffe6"/></linearGradient><linearGradient id="rv60" gradientUnits="userSpaceOnUse" x1="0" y1="209.7" x2="0" y2="365.3"><stop offset="0.000" stop-color="#ff8800"/><stop offset="0.059" stop-color="#ff5700"/><stop offset="0.118" stop-color="#ff5800"/><stop offset="0.176" stop-color="#ffb100"/><stop offset="0.235" stop-color="#ffef00"/><stop offset="0.294" stop-color="#fff900"/><stop offset="0.353" stop-color="#e4ff1b"/><stop offset="0.412" stop-color="#cdff32"/><stop offset="0.471" stop-color="#ccff33"/><stop offset="0.529" stop-color="#c1ff3e"/><stop offset="0.588" stop-color="#94ff6b"/><stop offset="0.647" stop-color="#83ff7c"/><stop offset="0.706" stop-color="#77ff88"/><stop offset="0.765" stop-color="#55ffaa"/><stop offset="0.824" stop-color="#4affb5"/><stop offset="0.882" stop-color="#23ffdc"/><stop offset="0.941" stop-color="#0cfff3"/><stop offset="1.000" stop-color="#0dfff2"/></linearGradient><linearGradient id="rv61" gradientUnits="userSpaceOnUse" x1="0" y1="220.6" x2="0" y2="359.4"><stop offset="0.000" stop-color="#ff3d00"/><stop offset="0.067" stop-color="#ff4100"/><stop offset="0.133" stop-color="#ffc000"/><stop offset="0.200" stop-color="#ffef00"/><stop offset="0.267" stop-color="#fff300"/><stop offset="0.333" stop-color="#e7ff18"/><stop offset="0.400" stop-color="#d0ff2f"/><stop offset="0.467" stop-color="#d0ff2f"/><stop offset="0.533" stop-color="#bfff40"/><stop offset="0.600" stop-color="#84ff7b"/><stop offset="0.667" stop-color="#80ff7f"/><stop offset="0.733" stop-color="#69ff96"/><stop offset="0.800" stop-color="#4dffb2"/><stop offset="0.867" stop-color="#47ffb8"/><stop offset="0.933" stop-color="#0bfff4"/><stop offset="1.000" stop-color="#07fff8"/></linearGradient><linearGradient id="rv62" gradientUnits="userSpaceOnUse" x1="0" y1="219.7" x2="0" y2="355.0"><stop offset="0.000" stop-color="#ff3900"/><stop offset="0.067" stop-color="#ff3900"/><stop offset="0.133" stop-color="#ffa100"/><stop offset="0.200" stop-color="#fff000"/><stop offset="0.267" stop-color="#fff000"/><stop offset="0.333" stop-color="#faff05"/><stop offset="0.400" stop-color="#d2ff2d"/><stop offset="0.467" stop-color="#d1ff2e"/><stop offset="0.533" stop-color="#cfff30"/><stop offset="0.600" stop-color="#89ff76"/><stop offset="0.667" stop-color="#80ff7f"/><stop offset="0.733" stop-color="#7bff84"/><stop offset="0.800" stop-color="#4effb1"/><stop offset="0.867" stop-color="#4cffb3"/><stop offset="0.933" stop-color="#1effe1"/><stop offset="1.000" stop-color="#05fffa"/></linearGradient><linearGradient id="rv63" gradientUnits="userSpaceOnUse" x1="0" y1="288.0" x2="0" y2="361.6"><stop offset="0.000" stop-color="#d1ff2e"/><stop offset="0.125" stop-color="#acff53"/><stop offset="0.250" stop-color="#80ff7f"/><stop offset="0.375" stop-color="#7fff80"/><stop offset="0.500" stop-color="#57ffa8"/><stop offset="0.625" stop-color="#4cffb3"/><stop offset="0.750" stop-color="#3fffc0"/><stop offset="0.875" stop-color="#05fffa"/><stop offset="1.000" stop-color="#06fff9"/></linearGradient><linearGradient id="rv64" gradientUnits="userSpaceOnUse" x1="0" y1="305.4" x2="0" y2="334.3"><stop offset="0.000" stop-color="#81ff7e"/><stop offset="0.333" stop-color="#7fff80"/><stop offset="0.667" stop-color="#59ffa6"/><stop offset="1.000" stop-color="#4cffb3"/></linearGradient></defs><g><polygon points="584.7,151.2 587.1,150.0 590.7,158.4 598.0,160.8 606.5,168.1 609.0,150.0 611.3,125.7 613.7,139.0 619.8,135.4 631.9,134.2 645.2,153.6 657.3,162.0 664.6,157.9 671.8,170.5 676.0,165.0 681.5,146.3 688.8,165.7 700.9,160.8 713.0,168.1 722.7,182.6 729.9,175.4 734.5,191.0 741.8,181.4 747.0,170.0 749.0,142.6 756.3,147.5 762.4,157.1 768.4,147.5 775.7,162.0 782.9,160.8 786.6,119.6 792.6,116.0 799.9,116.0 807.1,125.7 812.0,88.2 819.3,101.5 825.8,79.2 832.6,96.6 838.6,106.3 845.9,105.1 853.1,113.6 859.2,114.8 865.2,123.3 871.1,126.3 879.4,133.2 886.3,129.1 893.2,140.2 898.8,140.2 904.3,148.5 911.2,159.6 918.2,162.3 926.5,159.6 938.9,165.1 945.9,180.3 957.0,188.6 965.3,213.6 970.8,203.9 984.7,210.8 991.6,226.0 997.1,217.7 998.4,240.0 1000.0,281.5 1005.0,295.0 1010.5,309.2 1010.5,326.5 1003.6,362.8 995.0,354.2 979.4,368.0 974.2,357.6 960.3,388.8 951.7,387.0 943.0,392.2 932.7,388.8 920.6,388.8 915.4,402.6 903.3,435.5 898.1,416.5 891.1,409.6 880.8,402.6 873.8,413.0 866.9,400.9 861.8,401.0 851.4,396.9 843.1,396.9 840.0,385.9 834.1,394.7 828.2,388.8 822.0,400.0 816.5,441.8 815.0,474.1 812.1,427.0 809.1,406.5 803.2,453.5 795.9,468.2 788.5,490.3 776.8,481.5 770.9,462.4 767.9,432.9 760.6,435.9 750.3,418.2 742.9,438.8 734.1,423.5 725.3,419.7 716.5,440.3 709.1,446.2 703.2,440.3 695.9,432.4 684.1,434.4 676.8,431.5 666.5,412.4 657.6,391.8 648.8,368.2 640.0,335.9 634.0,325.7 632.1,308.6 628.3,306.7 620.0,300.0 610.0,290.0 603.6,280.0 597.9,289.5 592.1,270.5 588.3,259.0 584.7,258.0" fill="#fff"/><line x1="584.5" y1="151.2" x2="584.5" y2="258.0" stroke="url(#rv0)" stroke-width="1"/><line x1="591.5" y1="158.6" x2="591.5" y2="268.2" stroke="url(#rv1)" stroke-width="1"/><line x1="597.5" y1="160.8" x2="597.5" y2="289.4" stroke="url(#rv2)" stroke-width="1"/><line x1="604.5" y1="166.5" x2="604.5" y2="281.5" stroke="url(#rv3)" stroke-width="1"/><line x1="611.5" y1="126.5" x2="611.5" y2="291.2" stroke="url(#rv4)" stroke-width="1"/><line x1="617.5" y1="136.6" x2="617.5" y2="297.9" stroke="url(#rv5)" stroke-width="1"/><line x1="624.5" y1="134.9" x2="624.5" y2="303.6" stroke="url(#rv6)" stroke-width="1"/><line x1="631.5" y1="134.3" x2="631.5" y2="308.1" stroke="url(#rv7)" stroke-width="1"/><line x1="637.5" y1="142.7" x2="637.5" y2="332.1" stroke="url(#rv8)" stroke-width="1"/><line x1="644.5" y1="152.4" x2="644.5" y2="351.9" stroke="url(#rv9)" stroke-width="1"/><line x1="651.5" y1="157.6" x2="651.5" y2="374.1" stroke="url(#rv10)" stroke-width="1"/><line x1="657.5" y1="161.8" x2="657.5" y2="391.9" stroke="url(#rv11)" stroke-width="1"/><line x1="664.5" y1="158.1" x2="664.5" y2="407.2" stroke="url(#rv12)" stroke-width="1"/><line x1="670.5" y1="168.9" x2="670.5" y2="420.5" stroke="url(#rv13)" stroke-width="1"/><line x1="677.5" y1="159.8" x2="677.5" y2="431.8" stroke="url(#rv14)" stroke-width="1"/><line x1="684.5" y1="153.3" x2="684.5" y2="434.4" stroke="url(#rv15)" stroke-width="1"/><line x1="690.5" y1="164.9" x2="690.5" y2="433.3" stroke="url(#rv16)" stroke-width="1"/><line x1="697.5" y1="162.2" x2="697.5" y2="434.0" stroke="url(#rv17)" stroke-width="1"/><line x1="704.5" y1="162.7" x2="704.5" y2="441.1" stroke="url(#rv18)" stroke-width="1"/><line x1="710.5" y1="166.7" x2="710.5" y2="444.9" stroke="url(#rv19)" stroke-width="1"/><line x1="717.5" y1="174.5" x2="717.5" y2="438.4" stroke="url(#rv20)" stroke-width="1"/><line x1="723.5" y1="181.4" x2="723.5" y2="422.9" stroke="url(#rv21)" stroke-width="1"/><line x1="730.5" y1="177.6" x2="730.5" y2="422.0" stroke="url(#rv22)" stroke-width="1"/><line x1="737.5" y1="187.5" x2="737.5" y2="428.9" stroke="url(#rv23)" stroke-width="1"/><line x1="743.5" y1="177.0" x2="743.5" y2="436.2" stroke="url(#rv24)" stroke-width="1"/><line x1="750.5" y1="143.6" x2="750.5" y2="418.5" stroke="url(#rv25)" stroke-width="1"/><line x1="757.5" y1="148.7" x2="757.5" y2="429.9" stroke="url(#rv26)" stroke-width="1"/><line x1="763.5" y1="155.0" x2="763.5" y2="434.6" stroke="url(#rv27)" stroke-width="1"/><line x1="770.5" y1="151.4" x2="770.5" y2="456.9" stroke="url(#rv28)" stroke-width="1"/><line x1="776.5" y1="161.8" x2="776.5" y2="481.6" stroke="url(#rv29)" stroke-width="1"/><line x1="783.5" y1="153.0" x2="783.5" y2="486.6" stroke="url(#rv30)" stroke-width="1"/><line x1="790.5" y1="117.4" x2="790.5" y2="485.1" stroke="url(#rv31)" stroke-width="1"/><line x1="796.5" y1="116.0" x2="796.5" y2="466.3" stroke="url(#rv32)" stroke-width="1"/><line x1="803.5" y1="120.8" x2="803.5" y2="451.2" stroke="url(#rv33)" stroke-width="1"/><line x1="810.5" y1="102.6" x2="810.5" y2="413.5" stroke="url(#rv34)" stroke-width="1"/><line x1="816.5" y1="96.9" x2="816.5" y2="439.9" stroke="url(#rv35)" stroke-width="1"/><line x1="823.5" y1="87.5" x2="823.5" y2="397.5" stroke="url(#rv36)" stroke-width="1"/><line x1="830.5" y1="90.0" x2="830.5" y2="390.6" stroke="url(#rv37)" stroke-width="1"/><line x1="836.5" y1="103.1" x2="836.5" y2="390.9" stroke="url(#rv38)" stroke-width="1"/><line x1="843.5" y1="105.5" x2="843.5" y2="396.9" stroke="url(#rv39)" stroke-width="1"/><line x1="849.5" y1="109.8" x2="849.5" y2="396.9" stroke="url(#rv40)" stroke-width="1"/><line x1="856.5" y1="114.3" x2="856.5" y2="398.9" stroke="url(#rv41)" stroke-width="1"/><line x1="863.5" y1="120.4" x2="863.5" y2="401.0" stroke="url(#rv42)" stroke-width="1"/><line x1="869.5" y1="125.6" x2="869.5" y2="406.0" stroke="url(#rv43)" stroke-width="1"/><line x1="876.5" y1="130.7" x2="876.5" y2="409.1" stroke="url(#rv44)" stroke-width="1"/><line x1="883.5" y1="131.0" x2="883.5" y2="404.1" stroke="url(#rv45)" stroke-width="1"/><line x1="889.5" y1="134.5" x2="889.5" y2="408.6" stroke="url(#rv46)" stroke-width="1"/><line x1="896.5" y1="140.2" x2="896.5" y2="414.7" stroke="url(#rv47)" stroke-width="1"/><line x1="902.5" y1="146.4" x2="902.5" y2="434.2" stroke="url(#rv48)" stroke-width="1"/><line x1="909.5" y1="157.0" x2="909.5" y2="418.5" stroke="url(#rv49)" stroke-width="1"/><line x1="916.5" y1="161.5" x2="916.5" y2="400.5" stroke="url(#rv50)" stroke-width="1"/><line x1="922.5" y1="160.8" x2="922.5" y2="388.8" stroke="url(#rv51)" stroke-width="1"/><line x1="929.5" y1="160.9" x2="929.5" y2="388.8" stroke="url(#rv52)" stroke-width="1"/><line x1="936.5" y1="163.9" x2="936.5" y2="389.9" stroke="url(#rv53)" stroke-width="1"/><line x1="942.5" y1="173.4" x2="942.5" y2="392.1" stroke="url(#rv54)" stroke-width="1"/><line x1="949.5" y1="182.9" x2="949.5" y2="388.4" stroke="url(#rv55)" stroke-width="1"/><line x1="955.5" y1="187.8" x2="955.5" y2="387.9" stroke="url(#rv56)" stroke-width="1"/><line x1="962.5" y1="205.5" x2="962.5" y2="383.6" stroke="url(#rv57)" stroke-width="1"/><line x1="969.5" y1="206.7" x2="969.5" y2="368.7" stroke="url(#rv58)" stroke-width="1"/><line x1="975.5" y1="206.4" x2="975.5" y2="360.9" stroke="url(#rv59)" stroke-width="1"/><line x1="982.5" y1="209.7" x2="982.5" y2="365.3" stroke="url(#rv60)" stroke-width="1"/><line x1="989.5" y1="220.6" x2="989.5" y2="359.4" stroke="url(#rv61)" stroke-width="1"/><line x1="995.5" y1="219.7" x2="995.5" y2="355.0" stroke="url(#rv62)" stroke-width="1"/><line x1="1002.5" y1="288.0" x2="1002.5" y2="361.6" stroke="url(#rv63)" stroke-width="1"/><line x1="1009.5" y1="305.4" x2="1009.5" y2="334.3" stroke="url(#rv64)" stroke-width="1"/><path d="M611.2 124.8L617.8 142.9M617.8 142.9L630.9 134.7M630.9 134.7L644.1 152.8M644.1 152.8L663.8 157.7M663.8 157.7L673.7 172.5M673.7 172.5L690.1 177.4M690.1 177.4L703.3 192.2M703.3 192.2L719.7 205.4M719.7 205.4L736.2 212.0M736.2 212.0L752.6 231.7M752.6 231.7L772.4 251.4M772.4 251.4L785.5 258.0M785.5 258.0L797.5 252.0M797.5 252.0L797.5 300.0" stroke="#c70000" stroke-width="1.0" fill="none" stroke-linejoin="round"/><path d="M584.9 159.3L588.2 151.1M588.2 151.1L594.7 165.9M594.7 165.9L601.3 169.2M601.3 169.2L614.5 172.5M614.5 172.5L624.3 185.7M624.3 185.7L637.5 180.7M637.5 180.7L654.0 189.0M654.0 189.0L663.8 197.2M663.8 197.2L673.7 192.2M673.7 192.2L686.8 208.7M686.8 208.7L703.3 212.0M703.3 212.0L713.2 226.8M713.2 226.8L726.3 226.8M726.3 226.8L739.5 239.9M739.5 239.9L752.6 248.2M752.6 248.2L765.8 254.7M765.8 254.7L778.9 264.6M778.9 264.6L792.1 271.2" stroke="#fa0000" stroke-width="1.0" fill="none" stroke-linejoin="round"/><path d="M584.9 172.5L594.7 180.7M594.7 180.7L607.9 189.0M607.9 189.0L624.3 187.3M624.3 187.3L640.8 195.5M640.8 195.5L657.2 203.8M657.2 203.8L677.0 215.3M677.0 215.3L693.4 231.7M693.4 231.7L706.6 231.7M706.6 231.7L719.7 241.6M719.7 241.6L732.9 251.4M732.9 251.4L746.0 261.3M746.0 261.3L759.2 271.2M759.2 271.2L772.4 281.0M772.4 281.0L785.5 289.3" stroke="#ff0f00" stroke-width="1.0" fill="none" stroke-linejoin="round"/><path d="M584.9 189.0L601.3 197.2M601.3 197.2L617.8 200.5M617.8 200.5L634.2 198.8M634.2 198.8L647.4 205.4M647.4 205.4L663.8 208.7M663.8 208.7L680.3 218.6M680.3 218.6L696.7 225.1M696.7 225.1L713.2 238.3M713.2 238.3L729.6 248.2M729.6 248.2L746.0 258.0M746.0 258.0L762.5 267.9M762.5 267.9L779.0 277.8M779.0 277.8L797.0 290.0" stroke="#ff2400" stroke-width="1.0" fill="none" stroke-linejoin="round"/><path d="M611.2 140.0L620.0 160.0M620.0 160.0L631.0 150.0M631.0 150.0L640.0 170.0M640.0 170.0L655.0 165.0M655.0 165.0L667.0 180.0M667.0 180.0L680.0 185.0M680.0 185.0L690.0 200.0M690.0 200.0L705.0 200.0M705.0 200.0L716.0 215.0M716.0 215.0L730.0 215.0M730.0 215.0L745.0 230.0M745.0 230.0L760.0 238.0M760.0 238.0L775.0 250.0M775.0 250.0L790.0 258.0" stroke="#ff0500" stroke-width="0.8" fill="none" stroke-linejoin="round"/><path d="M584.9 166.3L588.2 158.1M588.2 158.1L594.7 172.9M594.7 172.9L601.3 176.2M601.3 176.2L614.5 179.5M614.5 179.5L624.3 192.7M624.3 192.7L637.5 187.7M637.5 187.7L645.8 189.8M645.8 189.8L654.0 196.0M654.0 196.0L663.8 204.2M663.8 204.2L673.7 199.2M673.7 199.2L686.8 215.7M686.8 215.7L695.0 218.5M695.0 218.5L703.3 219.0M703.3 219.0L713.2 233.8M713.2 233.8L726.3 233.8M726.3 233.8L739.5 246.9M739.5 246.9L752.6 255.2M752.6 255.2L765.8 261.7M765.8 261.7L778.9 271.6M778.9 271.6L792.1 278.2" stroke="#ff0f00" stroke-width="0.9" fill="none" stroke-linejoin="round"/><path d="M584.9 180.5L594.7 188.7M594.7 188.7L607.9 197.0M607.9 197.0L616.1 198.9M616.1 198.9L624.3 195.3M624.3 195.3L632.5 197.2M632.5 197.2L640.8 203.5M640.8 203.5L649.0 204.8M649.0 204.8L657.2 211.8M657.2 211.8L667.1 220.5M667.1 220.5L677.0 223.3M677.0 223.3L685.2 229.6M685.2 229.6L693.4 239.7M693.4 239.7L706.6 239.7M706.6 239.7L719.7 249.6M719.7 249.6L732.9 259.4M732.9 259.4L746.0 269.3M746.0 269.3L759.2 279.2M759.2 279.2L772.4 289.0M772.4 289.0L785.5 297.3" stroke="#ff2400" stroke-width="0.9" fill="none" stroke-linejoin="round"/><path d="M584.9 198.0L593.1 204.6M593.1 204.6L601.3 206.2M601.3 206.2L609.5 210.5M609.5 210.5L617.8 209.5M617.8 209.5L626.0 211.0M626.0 211.0L634.2 207.8M634.2 207.8L647.4 214.4M647.4 214.4L655.6 213.6M655.6 213.6L663.8 217.7M663.8 217.7L672.0 223.2M672.0 223.2L680.3 227.6M680.3 227.6L688.5 230.4M688.5 230.4L696.7 234.1M696.7 234.1L705.0 240.9M705.0 240.9L713.2 247.3M713.2 247.3L721.4 250.0M721.4 250.0L729.6 257.2M729.6 257.2L737.8 260.3M737.8 260.3L746.0 267.0M746.0 267.0L754.2 271.6M754.2 271.6L762.5 276.9M762.5 276.9L770.8 280.2M770.8 280.2L779.0 286.8M779.0 286.8L788.0 292.6M788.0 292.6L797.0 299.0" stroke="#ff4c00" stroke-width="0.9" fill="none" stroke-linejoin="round"/><path d="M667.1 162.6L683.6 170.9M683.6 170.9L698.0 178.0M698.0 178.0L713.2 185.7M713.2 185.7L722.0 194.0M722.0 194.0L732.9 198.8M732.9 198.8L745.0 203.0M745.0 203.0L759.2 208.7M759.2 208.7L770.0 220.0M770.0 220.0L785.0 222.0M785.0 222.0L800.0 228.4M800.0 228.4L815.0 240.0" stroke="#ff7500" stroke-width="1.0" fill="none" stroke-linejoin="round"/><path d="M584.7 204.4L770.0 339.0" stroke="#ff7500" stroke-width="1.0" fill="none" stroke-linejoin="round"/><path d="M681.9 146.2L690.1 165.9M690.1 165.9L701.6 161.0M701.6 161.0L713.2 169.2M713.2 169.2L721.0 175.8M721.0 175.8L728.0 175.8M728.0 175.8L736.2 189.0M736.2 189.0L746.0 182.4M746.0 182.4L756.0 190.0M756.0 190.0L769.0 186.0M769.0 186.0L781.0 203.0M781.0 203.0L800.0 208.7M800.0 208.7L815.0 222.0M815.0 222.0L830.0 226.0M830.0 226.0L845.0 240.0M845.0 240.0L860.0 244.0" stroke="#ff6b00" stroke-width="1.0" fill="none" stroke-linejoin="round"/><path d="M749.0 142.6L756.3 147.5M756.3 147.5L762.4 157.1M762.4 157.1L768.4 147.5M768.4 147.5L775.7 162.0M775.7 162.0L782.9 160.8M782.9 160.8L790.2 174.1M790.2 174.1L804.7 176.5M804.7 176.5L816.8 193.5M816.8 193.5L831.4 191.0M831.4 191.0L845.9 201.9M845.9 201.9L870.0 215.0M870.0 215.0L900.0 235.0" stroke="#d1ff2e" stroke-width="1.0" fill="none" stroke-linejoin="round"/><path d="M787.0 119.5L793.7 115.0M793.7 115.0L800.5 117.2M800.5 117.2L805.0 128.5M805.0 128.5L811.8 129.3M811.8 129.3L818.5 137.5M818.5 137.5L827.5 150.0M827.5 150.0L836.5 155.5M836.5 155.5L844.0 161.1M844.0 161.1L851.5 159.0M851.5 159.0L859.0 164.4M859.0 164.4L868.0 173.4M868.0 173.4L876.9 182.4M876.9 182.4L885.9 188.6M885.9 188.6L894.9 195.9M894.9 195.9L903.9 199.7M903.9 199.7L912.9 200.4M912.9 200.4L921.9 210.0M921.9 210.0L930.9 213.9M930.9 213.9L939.9 214.3M939.9 214.3L948.9 222.9M948.9 222.9L957.9 220.4M957.9 220.4L966.9 227.4M966.9 227.4L975.9 233.0M975.9 233.0L984.9 231.9M984.9 231.9L997.5 240.9" stroke="#ff7500" stroke-width="1.0" fill="none" stroke-linejoin="round"/><path d="M760.0 151.0L767.5 159.3M767.5 159.3L775.0 162.9M775.0 162.9L782.5 162.2M782.5 162.2L790.4 160.6M790.4 160.6L798.2 163.6M798.2 163.6L806.1 174.0M806.1 174.0L814.0 173.4M814.0 173.4L821.5 179.5M821.5 179.5L829.0 182.6M829.0 182.6L836.5 184.7M836.5 184.7L845.5 187.3M845.5 187.3L854.4 193.7M854.4 193.7L863.4 200.4M863.4 200.4L872.4 204.9M872.4 204.9L881.4 204.9M881.4 204.9L890.4 202.7M890.4 202.7L899.4 204.6M899.4 204.6L908.4 204.9M908.4 204.9L916.3 206.0M916.3 206.0L924.1 213.2M924.1 213.2L932.0 217.3M932.0 217.3L939.9 222.9M939.9 222.9L948.9 228.5M948.9 228.5L957.9 229.7M957.9 229.7L966.9 238.0M966.9 238.0L975.9 236.4M975.9 236.4L983.1 244.6M983.1 244.6L990.3 244.3M990.3 244.3L997.5 247.6" stroke="#ff8000" stroke-width="1.0" fill="none" stroke-linejoin="round"/><path d="M760.0 179.0L767.5 180.0M767.5 180.0L775.0 191.1M775.0 191.1L782.5 190.2M782.5 190.2L790.4 189.3M790.4 189.3L798.2 197.8M798.2 197.8L806.1 194.5M806.1 194.5L814.0 201.4M814.0 201.4L821.5 202.6M821.5 202.6L829.0 213.9M829.0 213.9L836.5 212.7M836.5 212.7L845.5 214.3M845.5 214.3L854.4 221.7M854.4 221.7L863.4 228.7M863.4 228.7L872.4 232.9M872.4 232.9L881.4 231.4M881.4 231.4L890.4 230.7M890.4 230.7L899.4 231.3M899.4 231.3L908.4 232.9M908.4 232.9L916.3 237.3M916.3 237.3L924.1 238.8M924.1 238.8L932.0 249.7M932.0 249.7L939.9 250.9M939.9 250.9L948.9 250.2M948.9 250.2L957.9 257.7M957.9 257.7L966.9 258.4M966.9 258.4L975.9 264.4M975.9 264.4L983.1 263.3M983.1 263.3L990.3 269.5M990.3 269.5L997.5 275.6" stroke="#ff9400" stroke-width="1.0" fill="none" stroke-linejoin="round"/><path d="M760.0 209.4L769.0 205.7M769.0 205.7L778.0 207.2M778.0 207.2L784.8 213.2M784.8 213.2L791.5 218.4M791.5 218.4L800.5 220.5M800.5 220.5L809.5 225.2M809.5 225.2L818.5 231.8M818.5 231.8L827.5 236.4M827.5 236.4L836.5 242.2M836.5 242.2L845.4 245.4M845.4 245.4L854.4 247.8M854.4 247.8L863.4 258.9M863.4 258.9L870.9 258.5M870.9 258.5L878.4 271.3M878.4 271.3L885.9 272.4M885.9 272.4L894.9 272.2M894.9 272.2L903.9 276.9M903.9 276.9L911.1 275.1M911.1 275.1L918.3 283.7M918.3 283.7L925.5 279.3M925.5 279.3L932.7 283.9M932.7 283.9L939.9 281.4M939.9 281.4L946.6 284.5M946.6 284.5L953.4 289.5M953.4 289.5L960.1 288.0M960.1 288.0L966.9 294.9M966.9 294.9L974.5 298.5M974.5 298.5L982.2 303.1M982.2 303.1L989.9 301.9M989.9 301.9L997.5 303.9" stroke="#ff9e00" stroke-width="1.0" fill="none" stroke-linejoin="round"/><path d="M811.7 88.0L818.5 101.5M818.5 101.5L826.1 79.0M826.1 79.0L832.0 97.0M832.0 97.0L838.7 106.0M838.7 106.0L845.0 104.0M845.0 104.0L852.2 112.7M852.2 112.7L863.4 121.7M863.4 121.7L872.4 135.2M872.4 135.2L883.7 130.7M883.7 130.7L894.9 142.0M894.9 142.0L903.9 153.2M903.9 153.2L912.9 160.0M912.9 160.0L921.9 160.0M921.9 160.0L930.9 164.4M930.9 164.4L939.9 171.2M939.9 171.2L948.9 184.7M948.9 184.7L957.9 189.2M957.9 189.2L966.9 202.7M966.9 202.7L975.9 204.9M975.9 204.9L984.9 211.7M984.9 211.7L991.6 225.2M991.6 225.2L997.5 218.4M997.5 218.4L998.0 262.0" stroke="#ff3800" stroke-width="1.0" fill="none" stroke-linejoin="round"/><path d="M812.0 110.0L818.7 112.3M818.7 112.3L825.3 115.4M825.3 115.4L832.0 121.7M832.0 121.7L841.0 121.1M841.0 121.1L850.0 121.7M850.0 121.7L856.7 126.4M856.7 126.4L863.4 135.2M863.4 135.2L870.1 139.3M870.1 139.3L876.9 148.7M876.9 148.7L883.6 150.4M883.6 150.4L890.4 153.2M890.4 153.2L897.1 161.3M897.1 161.3L903.9 164.4M903.9 164.4L910.6 171.9M910.6 171.9L917.4 175.7M917.4 175.7L924.1 179.5M924.1 179.5L930.9 180.2M930.9 180.2L939.9 185.3M939.9 185.3L948.9 193.7M948.9 193.7L957.9 201.8M957.9 201.8L966.9 209.4M966.9 209.4L975.9 213.7M975.9 213.7L984.9 220.7M984.9 220.7L997.5 231.9" stroke="#ff6100" stroke-width="1.0" fill="none" stroke-linejoin="round"/><path d="M660.0 372.0L663.5 371.2M663.5 371.2L669.4 363.8M669.4 363.8L684.1 374.1M684.1 374.1L695.9 372.6M695.9 372.6L710.6 387.4M710.6 387.4L716.5 405.0M716.5 405.0L728.2 400.6M728.2 400.6L737.1 388.8M737.1 388.8L756.2 394.7M756.2 394.7L763.5 403.5M763.5 403.5L769.4 430.0M769.4 430.0L784.1 424.1M784.1 424.1L795.9 421.2M795.9 421.2L804.7 418.2M804.7 418.2L816.0 425.0" stroke="#0061ff" stroke-width="1.0" fill="none" stroke-linejoin="round"/><path d="M632.1 308.6L634.0 325.7M634.0 325.7L640.0 335.9M640.0 335.9L648.8 368.2M648.8 368.2L657.6 391.8M657.6 391.8L666.5 412.4M666.5 412.4L676.8 431.5M676.8 431.5L684.1 434.4M684.1 434.4L695.9 432.4M695.9 432.4L703.2 440.3M703.2 440.3L709.1 446.2M709.1 446.2L716.5 440.3M716.5 440.3L725.3 419.7M725.3 419.7L734.1 423.5M734.1 423.5L742.9 438.8M742.9 438.8L750.3 418.2M750.3 418.2L760.6 435.9M760.6 435.9L767.9 432.9M767.9 432.9L770.9 462.4M770.9 462.4L776.8 481.5M776.8 481.5L788.5 490.3M788.5 490.3L795.9 468.2M795.9 468.2L803.2 453.5M803.2 453.5L809.1 406.5M809.1 406.5L812.1 427.0M812.1 427.0L815.0 474.1M815.0 474.1L816.5 441.8M816.5 441.8L822.0 400.0" stroke="#002eff" stroke-width="1.0" fill="none" stroke-linejoin="round"/><path d="M816.5 441.8L822.0 400.0M822.0 400.0L828.2 388.8M828.2 388.8L834.1 394.7M834.1 394.7L840.0 385.9M840.0 385.9L843.1 396.9M843.1 396.9L851.4 396.9M851.4 396.9L861.8 401.0M861.8 401.0L866.9 400.9M866.9 400.9L873.8 413.0M873.8 413.0L880.8 402.6M880.8 402.6L891.1 409.6M891.1 409.6L898.1 416.5M898.1 416.5L903.3 435.5M903.3 435.5L915.4 402.6M915.4 402.6L920.6 388.8M920.6 388.8L932.7 388.8M932.7 388.8L943.0 392.2M943.0 392.2L951.7 387.0M951.7 387.0L960.3 388.8M960.3 388.8L974.2 357.6M974.2 357.6L979.4 368.0M979.4 368.0L995.0 354.2M995.0 354.2L1003.6 362.8M1003.6 362.8L1010.5 326.5" stroke="#00b2ff" stroke-width="1.0" fill="none" stroke-linejoin="round"/><path d="M586.0 221.2L592.6 225.3M592.6 225.3L599.3 227.4" stroke="#ffb200" stroke-width="0.9" fill="none" stroke-linejoin="round"/><path d="M599.3 227.4L605.9 230.9" stroke="#ffb100" stroke-width="0.9" fill="none" stroke-linejoin="round"/><path d="M605.9 230.9L612.5 237.8" stroke="#ffa500" stroke-width="0.9" fill="none" stroke-linejoin="round"/><path d="M612.5 237.8L619.1 241.7" stroke="#ffa200" stroke-width="0.9" fill="none" stroke-linejoin="round"/><path d="M619.1 241.7L625.8 249.6M692.1 298.8L698.7 304.2" stroke="#ffc600" stroke-width="0.9" fill="none" stroke-linejoin="round"/><path d="M625.8 249.6L632.4 250.6" stroke="#ffc500" stroke-width="0.9" fill="none" stroke-linejoin="round"/><path d="M632.4 250.6L639.0 256.8" stroke="#ffaa00" stroke-width="0.9" fill="none" stroke-linejoin="round"/><path d="M639.0 256.8L645.7 262.4" stroke="#ffb300" stroke-width="0.9" fill="none" stroke-linejoin="round"/><path d="M645.7 262.4L652.3 269.9M652.3 269.9L658.9 271.5M698.7 304.2L705.3 307.6" stroke="#ffc700" stroke-width="0.9" fill="none" stroke-linejoin="round"/><path d="M658.9 271.5L665.6 274.5" stroke="#ffca00" stroke-width="0.9" fill="none" stroke-linejoin="round"/><path d="M665.6 274.5L672.2 283.1" stroke="#ffdd00" stroke-width="0.9" fill="none" stroke-linejoin="round"/><path d="M672.2 283.1L678.8 286.8M705.3 307.6L712.0 313.2" stroke="#ffd200" stroke-width="0.9" fill="none" stroke-linejoin="round"/><path d="M678.8 286.8L685.4 288.7" stroke="#ffa300" stroke-width="0.9" fill="none" stroke-linejoin="round"/><path d="M685.4 288.7L692.1 298.8" stroke="#ff9500" stroke-width="0.9" fill="none" stroke-linejoin="round"/><path d="M712.0 313.2L718.6 313.3" stroke="#ffe700" stroke-width="0.9" fill="none" stroke-linejoin="round"/><path d="M718.6 313.3L725.2 321.5" stroke="#ffe800" stroke-width="0.9" fill="none" stroke-linejoin="round"/><path d="M725.2 321.5L731.9 327.6" stroke="#ffcb00" stroke-width="0.9" fill="none" stroke-linejoin="round"/><path d="M731.9 327.6L738.5 330.7" stroke="#ffb900" stroke-width="0.9" fill="none" stroke-linejoin="round"/><path d="M738.5 330.7L745.1 333.9" stroke="#ffc800" stroke-width="0.9" fill="none" stroke-linejoin="round"/><path d="M745.1 333.9L751.7 335.7" stroke="#ffea00" stroke-width="0.9" fill="none" stroke-linejoin="round"/><path d="M751.7 335.7L758.4 343.2" stroke="#fff000" stroke-width="0.9" fill="none" stroke-linejoin="round"/><path d="M758.4 343.2L765.0 349.4" stroke="#f2ff0d" stroke-width="0.9" fill="none" stroke-linejoin="round"/><path d="M765.0 349.4L771.6 356.7" stroke="#c6ff39" stroke-width="0.9" fill="none" stroke-linejoin="round"/><path d="M771.6 356.7L778.3 361.9" stroke="#b7ff48" stroke-width="0.9" fill="none" stroke-linejoin="round"/><path d="M778.3 361.9L784.9 362.8" stroke="#b9ff46" stroke-width="0.9" fill="none" stroke-linejoin="round"/><path d="M784.9 362.8L791.5 370.7" stroke="#97ff68" stroke-width="0.9" fill="none" stroke-linejoin="round"/><path d="M791.5 370.7L798.2 370.7" stroke="#80ff7f" stroke-width="0.9" fill="none" stroke-linejoin="round"/><path d="M798.2 370.7L804.8 379.9" stroke="#7fff80" stroke-width="0.9" fill="none" stroke-linejoin="round"/><path d="M804.8 379.9L811.4 382.7" stroke="#74ff8b" stroke-width="0.9" fill="none" stroke-linejoin="round"/><path d="M811.4 382.7L818.0 383.2" stroke="#58ffa7" stroke-width="0.9" fill="none" stroke-linejoin="round"/><path d="M818.0 383.2L824.7 393.7" stroke="#23ffdc" stroke-width="0.9" fill="none" stroke-linejoin="round"/><path d="M586.0 229.5L592.6 240.0" stroke="#fff300" stroke-width="0.9" fill="none" stroke-linejoin="round"/><path d="M592.6 240.0L599.3 244.2" stroke="#fffa00" stroke-width="0.9" fill="none" stroke-linejoin="round"/><path d="M599.3 244.2L605.9 244.9" stroke="#ffef00" stroke-width="0.9" fill="none" stroke-linejoin="round"/><path d="M605.9 244.9L612.5 251.6" stroke="#ffd000" stroke-width="0.9" fill="none" stroke-linejoin="round"/><path d="M612.5 251.6L619.1 256.1" stroke="#ffca00" stroke-width="0.9" fill="none" stroke-linejoin="round"/><path d="M619.1 256.1L625.8 262.5" stroke="#fffc00" stroke-width="0.9" fill="none" stroke-linejoin="round"/><path d="M625.8 262.5L632.4 268.4M712.0 320.2L718.6 325.0" stroke="#fcff03" stroke-width="0.9" fill="none" stroke-linejoin="round"/><path d="M632.4 268.4L639.0 267.7" stroke="#ffe100" stroke-width="0.9" fill="none" stroke-linejoin="round"/><path d="M639.0 267.7L645.7 272.0" stroke="#ffc800" stroke-width="0.9" fill="none" stroke-linejoin="round"/><path d="M645.7 272.0L652.3 283.3" stroke="#ffd600" stroke-width="0.9" fill="none" stroke-linejoin="round"/><path d="M652.3 283.3L658.9 284.9" stroke="#e9ff16" stroke-width="0.9" fill="none" stroke-linejoin="round"/><path d="M658.9 284.9L665.6 292.3" stroke="#e7ff18" stroke-width="0.9" fill="none" stroke-linejoin="round"/><path d="M665.6 292.3L672.2 291.1" stroke="#f3ff0c" stroke-width="0.9" fill="none" stroke-linejoin="round"/><path d="M672.2 291.1L678.8 299.4" stroke="#ffe400" stroke-width="0.9" fill="none" stroke-linejoin="round"/><path d="M678.8 299.4L685.4 306.5" stroke="#ffd500" stroke-width="0.9" fill="none" stroke-linejoin="round"/><path d="M685.4 306.5L692.1 307.4" stroke="#ffcb00" stroke-width="0.9" fill="none" stroke-linejoin="round"/><path d="M692.1 307.4L698.7 317.9" stroke="#ffe800" stroke-width="0.9" fill="none" stroke-linejoin="round"/><path d="M698.7 317.9L705.3 322.4M705.3 322.4L712.0 320.2M718.6 325.0L725.2 334.0" stroke="#faff05" stroke-width="0.9" fill="none" stroke-linejoin="round"/><path d="M725.2 334.0L731.9 342.0" stroke="#f6ff09" stroke-width="0.9" fill="none" stroke-linejoin="round"/><path d="M731.9 342.0L738.5 342.3" stroke="#fffd00" stroke-width="0.9" fill="none" stroke-linejoin="round"/><path d="M738.5 342.3L745.1 345.8" stroke="#fff700" stroke-width="0.9" fill="none" stroke-linejoin="round"/><path d="M745.1 345.8L751.7 352.3" stroke="#caff35" stroke-width="0.9" fill="none" stroke-linejoin="round"/><path d="M751.7 352.3L758.4 354.0" stroke="#bdff42" stroke-width="0.9" fill="none" stroke-linejoin="round"/><path d="M758.4 354.0L765.0 360.3" stroke="#baff45" stroke-width="0.9" fill="none" stroke-linejoin="round"/><path d="M765.0 360.3L771.6 366.9" stroke="#8cff73" stroke-width="0.9" fill="none" stroke-linejoin="round"/><path d="M771.6 366.9L778.3 372.1" stroke="#75ff8a" stroke-width="0.9" fill="none" stroke-linejoin="round"/><path d="M778.3 372.1L784.9 374.9" stroke="#79ff86" stroke-width="0.9" fill="none" stroke-linejoin="round"/><path d="M784.9 374.9L791.5 379.7" stroke="#7cff83" stroke-width="0.9" fill="none" stroke-linejoin="round"/><path d="M791.5 379.7L798.2 384.4" stroke="#72ff8d" stroke-width="0.9" fill="none" stroke-linejoin="round"/><path d="M798.2 384.4L804.8 391.1" stroke="#11ffee" stroke-width="0.9" fill="none" stroke-linejoin="round"/><path d="M804.8 391.1L811.4 394.6" stroke="#06fff9" stroke-width="0.9" fill="none" stroke-linejoin="round"/><path d="M811.4 394.6L818.0 397.3" stroke="#08fff7" stroke-width="0.9" fill="none" stroke-linejoin="round"/><path d="M818.0 397.3L824.7 395.2" stroke="#0bfff4" stroke-width="0.9" fill="none" stroke-linejoin="round"/><path d="M586.0 250.0L592.6 254.8M592.6 254.8L599.3 252.5" stroke="#c7ff38" stroke-width="0.9" fill="none" stroke-linejoin="round"/><path d="M599.3 252.5L605.9 257.5" stroke="#d5ff2a" stroke-width="0.9" fill="none" stroke-linejoin="round"/><path d="M605.9 257.5L612.5 268.4" stroke="#eeff11" stroke-width="0.9" fill="none" stroke-linejoin="round"/><path d="M612.5 268.4L619.1 272.4" stroke="#f5ff0a" stroke-width="0.9" fill="none" stroke-linejoin="round"/><path d="M619.1 272.4L625.8 276.7" stroke="#ddff22" stroke-width="0.9" fill="none" stroke-linejoin="round"/><path d="M625.8 276.7L632.4 278.6" stroke="#cbff34" stroke-width="0.9" fill="none" stroke-linejoin="round"/><path d="M632.4 278.6L639.0 285.8" stroke="#ceff31" stroke-width="0.9" fill="none" stroke-linejoin="round"/><path d="M639.0 285.8L645.7 290.6" stroke="#e4ff1b" stroke-width="0.9" fill="none" stroke-linejoin="round"/><path d="M645.7 290.6L652.3 295.2" stroke="#e5ff1a" stroke-width="0.9" fill="none" stroke-linejoin="round"/><path d="M652.3 295.2L658.9 296.7" stroke="#e0ff1f" stroke-width="0.9" fill="none" stroke-linejoin="round"/><path d="M658.9 296.7L665.6 303.7" stroke="#c1ff3e" stroke-width="0.9" fill="none" stroke-linejoin="round"/><path d="M665.6 303.7L672.2 308.2M705.3 332.7L712.0 336.1" stroke="#b7ff48" stroke-width="0.9" fill="none" stroke-linejoin="round"/><path d="M672.2 308.2L678.8 315.7" stroke="#d9ff26" stroke-width="0.9" fill="none" stroke-linejoin="round"/><path d="M678.8 315.7L685.4 322.7" stroke="#edff12" stroke-width="0.9" fill="none" stroke-linejoin="round"/><path d="M685.4 322.7L692.1 327.1" stroke="#f1ff0e" stroke-width="0.9" fill="none" stroke-linejoin="round"/><path d="M692.1 327.1L698.7 328.7" stroke="#ebff14" stroke-width="0.9" fill="none" stroke-linejoin="round"/><path d="M698.7 328.7L705.3 332.7" stroke="#ccff33" stroke-width="0.9" fill="none" stroke-linejoin="round"/><path d="M712.0 336.1L718.6 339.1" stroke="#b8ff47" stroke-width="0.9" fill="none" stroke-linejoin="round"/><path d="M718.6 339.1L725.2 343.8" stroke="#c2ff3d" stroke-width="0.9" fill="none" stroke-linejoin="round"/><path d="M725.2 343.8L731.9 352.2" stroke="#c5ff3a" stroke-width="0.9" fill="none" stroke-linejoin="round"/><path d="M731.9 352.2L738.5 355.8" stroke="#bbff44" stroke-width="0.9" fill="none" stroke-linejoin="round"/><path d="M738.5 355.8L745.1 361.1" stroke="#b9ff46" stroke-width="0.9" fill="none" stroke-linejoin="round"/><path d="M745.1 361.1L751.7 370.0" stroke="#5bffa4" stroke-width="0.9" fill="none" stroke-linejoin="round"/><path d="M751.7 370.0L758.4 371.9" stroke="#4dffb2" stroke-width="0.9" fill="none" stroke-linejoin="round"/><path d="M758.4 371.9L765.0 377.0" stroke="#4cffb3" stroke-width="0.9" fill="none" stroke-linejoin="round"/><path d="M765.0 377.0L771.6 379.2" stroke="#3effc1" stroke-width="0.9" fill="none" stroke-linejoin="round"/><path d="M771.6 379.2L778.3 382.4" stroke="#41ffbe" stroke-width="0.9" fill="none" stroke-linejoin="round"/><path d="M778.3 382.4L784.9 389.6" stroke="#2fffd0" stroke-width="0.9" fill="none" stroke-linejoin="round"/><path d="M784.9 389.6L791.5 392.9" stroke="#0afff5" stroke-width="0.9" fill="none" stroke-linejoin="round"/><path d="M791.5 392.9L798.2 400.7" stroke="#05fffa" stroke-width="0.9" fill="none" stroke-linejoin="round"/><path d="M798.2 400.7L804.8 409.4" stroke="#00f9ff" stroke-width="0.9" fill="none" stroke-linejoin="round"/><path d="M804.8 409.4L811.4 411.7M811.4 411.7L818.0 412.6" stroke="#00cbff" stroke-width="0.9" fill="none" stroke-linejoin="round"/><path d="M818.0 412.6L824.7 395.2" stroke="#00fdff" stroke-width="0.9" fill="none" stroke-linejoin="round"/><path d="M586.0 258.3L592.6 265.6" stroke="#82ff7d" stroke-width="0.9" fill="none" stroke-linejoin="round"/><path d="M592.6 265.6L599.3 269.0" stroke="#81ff7e" stroke-width="0.9" fill="none" stroke-linejoin="round"/><path d="M599.3 269.0L605.9 275.7" stroke="#8bff74" stroke-width="0.9" fill="none" stroke-linejoin="round"/><path d="M605.9 275.7L612.5 280.7" stroke="#9fff60" stroke-width="0.9" fill="none" stroke-linejoin="round"/><path d="M612.5 280.7L619.1 281.0M685.4 329.9L692.1 338.6M692.1 338.6L698.7 345.3" stroke="#b2ff4d" stroke-width="0.9" fill="none" stroke-linejoin="round"/><path d="M619.1 281.0L625.8 285.4" stroke="#b3ff4c" stroke-width="0.9" fill="none" stroke-linejoin="round"/><path d="M625.8 285.4L632.4 296.8" stroke="#a3ff5c" stroke-width="0.9" fill="none" stroke-linejoin="round"/><path d="M632.4 296.8L639.0 297.0" stroke="#92ff6d" stroke-width="0.9" fill="none" stroke-linejoin="round"/><path d="M639.0 297.0L645.7 301.7" stroke="#acff53" stroke-width="0.9" fill="none" stroke-linejoin="round"/><path d="M645.7 301.7L652.3 312.6M652.3 312.6L658.9 313.2" stroke="#94ff6b" stroke-width="0.9" fill="none" stroke-linejoin="round"/><path d="M658.9 313.2L665.6 320.9" stroke="#89ff76" stroke-width="0.9" fill="none" stroke-linejoin="round"/><path d="M665.6 320.9L672.2 322.9" stroke="#78ff87" stroke-width="0.9" fill="none" stroke-linejoin="round"/><path d="M672.2 322.9L678.8 329.0" stroke="#97ff68" stroke-width="0.9" fill="none" stroke-linejoin="round"/><path d="M678.8 329.0L685.4 329.9" stroke="#b7ff48" stroke-width="0.9" fill="none" stroke-linejoin="round"/><path d="M698.7 345.3L705.3 347.3" stroke="#a2ff5d" stroke-width="0.9" fill="none" stroke-linejoin="round"/><path d="M705.3 347.3L712.0 353.9" stroke="#72ff8d" stroke-width="0.9" fill="none" stroke-linejoin="round"/><path d="M712.0 353.9L718.6 358.2" stroke="#6dff92" stroke-width="0.9" fill="none" stroke-linejoin="round"/><path d="M718.6 358.2L725.2 358.1" stroke="#75ff8a" stroke-width="0.9" fill="none" stroke-linejoin="round"/><path d="M725.2 358.1L731.9 368.5" stroke="#73ff8c" stroke-width="0.9" fill="none" stroke-linejoin="round"/><path d="M731.9 368.5L738.5 372.0" stroke="#50ffaf" stroke-width="0.9" fill="none" stroke-linejoin="round"/><path d="M738.5 372.0L745.1 374.5M745.1 374.5L751.7 377.1" stroke="#4cffb3" stroke-width="0.9" fill="none" stroke-linejoin="round"/><path d="M751.7 377.1L758.4 388.6" stroke="#00f2ff" stroke-width="0.9" fill="none" stroke-linejoin="round"/><path d="M758.4 388.6L765.0 390.3" stroke="#00dfff" stroke-width="0.9" fill="none" stroke-linejoin="round"/><path d="M765.0 390.3L771.6 397.1" stroke="#00e8ff" stroke-width="0.9" fill="none" stroke-linejoin="round"/><path d="M771.6 397.1L778.3 403.2M778.3 403.2L784.9 406.7" stroke="#00ecff" stroke-width="0.9" fill="none" stroke-linejoin="round"/><path d="M784.9 406.7L791.5 413.2" stroke="#00d1ff" stroke-width="0.9" fill="none" stroke-linejoin="round"/><path d="M791.5 413.2L798.2 413.8" stroke="#00bfff" stroke-width="0.9" fill="none" stroke-linejoin="round"/><path d="M586.0 258.4L592.6 272.2" stroke="#80ff7f" stroke-width="0.9" fill="none" stroke-linejoin="round"/><path d="M592.6 272.2L599.3 283.2" stroke="#44ffbb" stroke-width="0.9" fill="none" stroke-linejoin="round"/><path d="M599.3 283.2L605.9 283.6" stroke="#67ff98" stroke-width="0.9" fill="none" stroke-linejoin="round"/><path d="M605.9 283.6L612.5 290.2" stroke="#a9ff56" stroke-width="0.9" fill="none" stroke-linejoin="round"/><path d="M612.5 290.2L619.1 297.7" stroke="#71ff8e" stroke-width="0.9" fill="none" stroke-linejoin="round"/><path d="M619.1 297.7L625.8 304.7" stroke="#61ff9e" stroke-width="0.9" fill="none" stroke-linejoin="round"/><path d="M625.8 304.7L632.4 310.5" stroke="#2affd5" stroke-width="0.9" fill="none" stroke-linejoin="round"/><path d="M632.4 310.5L639.0 315.1" stroke="#63ff9c" stroke-width="0.9" fill="none" stroke-linejoin="round"/><path d="M639.0 315.1L645.7 315.6" stroke="#8aff75" stroke-width="0.9" fill="none" stroke-linejoin="round"/><path d="M645.7 315.6L652.3 322.9" stroke="#6fff90" stroke-width="0.9" fill="none" stroke-linejoin="round"/><path d="M652.3 322.9L658.9 325.6M658.9 325.6L665.6 329.6" stroke="#34ffcb" stroke-width="0.9" fill="none" stroke-linejoin="round"/><path d="M665.6 329.6L672.2 333.9" stroke="#42ffbd" stroke-width="0.9" fill="none" stroke-linejoin="round"/><path d="M672.2 333.9L678.8 339.6" stroke="#69ff96" stroke-width="0.9" fill="none" stroke-linejoin="round"/><path d="M678.8 339.6L685.4 350.1" stroke="#85ff7a" stroke-width="0.9" fill="none" stroke-linejoin="round"/><path d="M685.4 350.1L692.1 354.2" stroke="#6dff92" stroke-width="0.9" fill="none" stroke-linejoin="round"/><path d="M692.1 354.2L698.7 358.8" stroke="#6bff94" stroke-width="0.9" fill="none" stroke-linejoin="round"/><path d="M698.7 358.8L705.3 363.6" stroke="#5bffa4" stroke-width="0.9" fill="none" stroke-linejoin="round"/><path d="M705.3 363.6L712.0 363.5" stroke="#36ffc9" stroke-width="0.9" fill="none" stroke-linejoin="round"/><path d="M712.0 363.5L718.6 369.3" stroke="#2effd1" stroke-width="0.9" fill="none" stroke-linejoin="round"/><path d="M718.6 369.3L725.2 376.6" stroke="#30ffcf" stroke-width="0.9" fill="none" stroke-linejoin="round"/><path d="M725.2 376.6L731.9 382.3" stroke="#23ffdc" stroke-width="0.9" fill="none" stroke-linejoin="round"/><path d="M765.0 405.9L771.6 409.4" stroke="#00beff" stroke-width="0.9" fill="none" stroke-linejoin="round"/><path d="M771.6 409.4L778.3 411.6" stroke="#00c9ff" stroke-width="0.9" fill="none" stroke-linejoin="round"/><path d="M778.3 411.6L784.9 418.8" stroke="#00c4ff" stroke-width="0.9" fill="none" stroke-linejoin="round"/><path d="M586.0 258.4L592.6 272.2" stroke="#80ff7f" stroke-width="0.9" fill="none" stroke-linejoin="round"/><path d="M592.6 272.2L599.3 287.2" stroke="#43ffbc" stroke-width="0.9" fill="none" stroke-linejoin="round"/><path d="M599.3 287.2L605.9 283.6" stroke="#72ff8d" stroke-width="0.9" fill="none" stroke-linejoin="round"/><path d="M605.9 283.6L612.5 292.5" stroke="#a7ff58" stroke-width="0.9" fill="none" stroke-linejoin="round"/><path d="M612.5 292.5L619.1 299.1" stroke="#64ff9b" stroke-width="0.9" fill="none" stroke-linejoin="round"/><path d="M619.1 299.1L625.8 304.7" stroke="#60ff9f" stroke-width="0.9" fill="none" stroke-linejoin="round"/><path d="M625.8 304.7L632.4 311.4" stroke="#28ffd7" stroke-width="0.9" fill="none" stroke-linejoin="round"/><path d="M645.7 335.0L652.3 341.8" stroke="#03fffc" stroke-width="0.9" fill="none" stroke-linejoin="round"/><path d="M652.3 341.8L658.9 340.3" stroke="#00f3ff" stroke-width="0.9" fill="none" stroke-linejoin="round"/><path d="M658.9 340.3L665.6 348.0" stroke="#00f5ff" stroke-width="0.9" fill="none" stroke-linejoin="round"/><path d="M665.6 348.0L672.2 351.0" stroke="#06fff9" stroke-width="0.9" fill="none" stroke-linejoin="round"/><path d="M672.2 351.0L678.8 358.2" stroke="#2affd5" stroke-width="0.9" fill="none" stroke-linejoin="round"/><path d="M678.8 358.2L685.4 363.3" stroke="#3effc1" stroke-width="0.9" fill="none" stroke-linejoin="round"/><path d="M685.4 363.3L692.1 363.6" stroke="#36ffc9" stroke-width="0.9" fill="none" stroke-linejoin="round"/><path d="M692.1 363.6L698.7 370.1" stroke="#1bffe4" stroke-width="0.9" fill="none" stroke-linejoin="round"/><path d="M698.7 370.1L705.3 375.4" stroke="#1affe5" stroke-width="0.9" fill="none" stroke-linejoin="round"/><path d="M705.3 375.4L712.0 385.3" stroke="#0afff5" stroke-width="0.9" fill="none" stroke-linejoin="round"/><path d="M712.0 385.3L718.6 388.9" stroke="#00d5ff" stroke-width="0.9" fill="none" stroke-linejoin="round"/><path d="M718.6 388.9L725.2 388.9" stroke="#00dfff" stroke-width="0.9" fill="none" stroke-linejoin="round"/><path d="M586.0 258.4L592.6 272.2" stroke="#80ff7f" stroke-width="0.9" fill="none" stroke-linejoin="round"/><path d="M592.6 272.2L599.3 287.2" stroke="#43ffbc" stroke-width="0.9" fill="none" stroke-linejoin="round"/><path d="M599.3 287.2L605.9 283.6" stroke="#72ff8d" stroke-width="0.9" fill="none" stroke-linejoin="round"/><path d="M605.9 283.6L612.5 292.5" stroke="#a7ff58" stroke-width="0.9" fill="none" stroke-linejoin="round"/><path d="M612.5 292.5L619.1 299.1" stroke="#64ff9b" stroke-width="0.9" fill="none" stroke-linejoin="round"/><path d="M619.1 299.1L625.8 304.7" stroke="#60ff9f" stroke-width="0.9" fill="none" stroke-linejoin="round"/><path d="M625.8 304.7L632.4 311.4" stroke="#28ffd7" stroke-width="0.9" fill="none" stroke-linejoin="round"/><path d="M652.3 352.8L658.9 361.8" stroke="#00c8ff" stroke-width="0.9" fill="none" stroke-linejoin="round"/><path d="M586.0 258.4L592.6 272.2" stroke="#80ff7f" stroke-width="0.9" fill="none" stroke-linejoin="round"/><path d="M592.6 272.2L599.3 287.2" stroke="#43ffbc" stroke-width="0.9" fill="none" stroke-linejoin="round"/><path d="M599.3 287.2L605.9 283.6" stroke="#72ff8d" stroke-width="0.9" fill="none" stroke-linejoin="round"/><path d="M605.9 283.6L612.5 292.5" stroke="#a7ff58" stroke-width="0.9" fill="none" stroke-linejoin="round"/><path d="M612.5 292.5L619.1 299.1" stroke="#64ff9b" stroke-width="0.9" fill="none" stroke-linejoin="round"/><path d="M619.1 299.1L625.8 304.7" stroke="#60ff9f" stroke-width="0.9" fill="none" stroke-linejoin="round"/><path d="M625.8 304.7L632.4 311.4" stroke="#28ffd7" stroke-width="0.9" fill="none" stroke-linejoin="round"/><path d="M586.0 258.4L592.6 272.2" stroke="#80ff7f" stroke-width="0.9" fill="none" stroke-linejoin="round"/><path d="M592.6 272.2L599.3 287.2" stroke="#43ffbc" stroke-width="0.9" fill="none" stroke-linejoin="round"/><path d="M599.3 287.2L605.9 283.6" stroke="#72ff8d" stroke-width="0.9" fill="none" stroke-linejoin="round"/><path d="M605.9 283.6L612.5 292.5" stroke="#a7ff58" stroke-width="0.9" fill="none" stroke-linejoin="round"/><path d="M612.5 292.5L619.1 299.1" stroke="#64ff9b" stroke-width="0.9" fill="none" stroke-linejoin="round"/><path d="M619.1 299.1L625.8 304.7" stroke="#60ff9f" stroke-width="0.9" fill="none" stroke-linejoin="round"/><path d="M625.8 304.7L632.4 311.4" stroke="#28ffd7" stroke-width="0.9" fill="none" stroke-linejoin="round"/><path d="M586.0 258.4L592.6 272.2" stroke="#80ff7f" stroke-width="0.9" fill="none" stroke-linejoin="round"/><path d="M592.6 272.2L599.3 287.2" stroke="#43ffbc" stroke-width="0.9" fill="none" stroke-linejoin="round"/><path d="M599.3 287.2L605.9 283.6" stroke="#72ff8d" stroke-width="0.9" fill="none" stroke-linejoin="round"/><path d="M605.9 283.6L612.5 292.5" stroke="#a7ff58" stroke-width="0.9" fill="none" stroke-linejoin="round"/><path d="M612.5 292.5L619.1 299.1" stroke="#64ff9b" stroke-width="0.9" fill="none" stroke-linejoin="round"/><path d="M619.1 299.1L625.8 304.7" stroke="#60ff9f" stroke-width="0.9" fill="none" stroke-linejoin="round"/><path d="M625.8 304.7L632.4 311.4" stroke="#28ffd7" stroke-width="0.9" fill="none" stroke-linejoin="round"/><path d="M640.0 215.0L646.6 217.1M646.6 217.1L653.3 224.1M653.3 224.1L659.9 224.9M659.9 224.9L666.5 230.7M666.5 230.7L673.1 238.7M673.1 238.7L679.8 235.5M679.8 235.5L686.4 241.4M686.4 241.4L693.0 248.2M693.0 248.2L699.7 247.5M699.7 247.5L706.3 252.0M706.3 252.0L712.9 261.4M712.9 261.4L719.6 266.6M719.6 266.6L726.2 265.3M726.2 265.3L732.8 268.2M732.8 268.2L739.4 278.4M739.4 278.4L746.1 277.3M746.1 277.3L752.7 283.5M752.7 283.5L759.3 287.5M759.3 287.5L766.0 291.7M766.0 291.7L772.6 297.9M772.6 297.9L779.2 302.2M779.2 302.2L785.9 304.1M785.9 304.1L792.5 309.1" stroke="#ff2400" stroke-width="0.9" fill="none" stroke-linejoin="round"/><path d="M640.0 224.9L646.6 231.0M646.6 231.0L653.3 232.3M653.3 232.3L659.9 241.5M659.9 241.5L666.5 240.8M666.5 240.8L673.1 247.3M673.1 247.3L679.8 254.3M679.8 254.3L686.4 254.0M686.4 254.0L693.0 262.6M693.0 262.6L699.7 264.7M699.7 264.7L706.3 267.2M706.3 267.2L712.9 271.8M712.9 271.8L719.6 275.4M719.6 275.4L726.2 277.6M726.2 277.6L732.8 286.7M732.8 286.7L739.4 285.9M739.4 285.9L746.1 294.5M746.1 294.5L752.7 297.4M752.7 297.4L759.3 294.8M759.3 294.8L766.0 300.6M766.0 300.6L772.6 306.4M772.6 306.4L779.2 313.1M779.2 313.1L785.9 311.9M785.9 311.9L792.5 319.4" stroke="#ff4200" stroke-width="0.9" fill="none" stroke-linejoin="round"/><path d="M640.0 242.8L646.6 239.4M646.6 239.4L653.3 248.8M653.3 248.8L659.9 250.8M659.9 250.8L666.5 258.4M666.5 258.4L673.1 258.1M673.1 258.1L679.8 266.2M679.8 266.2L686.4 264.1M686.4 264.1L693.0 274.8M693.0 274.8L699.7 274.1M699.7 274.1L706.3 276.2M706.3 276.2L712.9 281.5M712.9 281.5L719.6 287.8M719.6 287.8L726.2 287.0M726.2 287.0L732.8 293.8M732.8 293.8L739.4 294.8M739.4 294.8L746.1 299.2M746.1 299.2L752.7 304.0M752.7 304.0L759.3 308.4M759.3 308.4L766.0 312.8M766.0 312.8L772.6 320.8M772.6 320.8L779.2 321.9M779.2 321.9L785.9 329.4M785.9 329.4L792.5 333.7" stroke="#ff6100" stroke-width="0.9" fill="none" stroke-linejoin="round"/><path d="M800.0 205.7L806.6 212.8" stroke="#b8ff47" stroke-width="0.9" fill="none" stroke-linejoin="round"/><path d="M806.6 212.8L813.3 219.9M879.6 255.1L886.2 251.1" stroke="#d7ff28" stroke-width="0.9" fill="none" stroke-linejoin="round"/><path d="M813.3 219.9L819.9 222.4" stroke="#e0ff1f" stroke-width="0.9" fill="none" stroke-linejoin="round"/><path d="M819.9 222.4L826.5 226.0" stroke="#d9ff26" stroke-width="0.9" fill="none" stroke-linejoin="round"/><path d="M826.5 226.0L833.1 225.8" stroke="#cbff34" stroke-width="0.9" fill="none" stroke-linejoin="round"/><path d="M833.1 225.8L839.8 233.5" stroke="#c0ff3f" stroke-width="0.9" fill="none" stroke-linejoin="round"/><path d="M839.8 233.5L846.4 233.6M859.7 239.3L866.3 237.7" stroke="#b5ff4a" stroke-width="0.9" fill="none" stroke-linejoin="round"/><path d="M846.4 233.6L853.0 231.5" stroke="#b4ff4b" stroke-width="0.9" fill="none" stroke-linejoin="round"/><path d="M853.0 231.5L859.7 239.3" stroke="#b3ff4c" stroke-width="0.9" fill="none" stroke-linejoin="round"/><path d="M866.3 237.7L872.9 251.7" stroke="#c3ff3c" stroke-width="0.9" fill="none" stroke-linejoin="round"/><path d="M872.9 251.7L879.6 255.1" stroke="#eaff15" stroke-width="0.9" fill="none" stroke-linejoin="round"/><path d="M886.2 251.1L892.8 254.1M919.3 265.9L926.0 271.1" stroke="#caff35" stroke-width="0.9" fill="none" stroke-linejoin="round"/><path d="M892.8 254.1L899.4 262.9M899.4 262.9L906.1 259.5" stroke="#d1ff2e" stroke-width="0.9" fill="none" stroke-linejoin="round"/><path d="M906.1 259.5L912.7 262.5" stroke="#d0ff2f" stroke-width="0.9" fill="none" stroke-linejoin="round"/><path d="M912.7 262.5L919.3 265.9" stroke="#cfff30" stroke-width="0.9" fill="none" stroke-linejoin="round"/><path d="M926.0 271.1L932.6 277.8" stroke="#baff45" stroke-width="0.9" fill="none" stroke-linejoin="round"/><path d="M932.6 277.8L939.2 285.2" stroke="#aaff55" stroke-width="0.9" fill="none" stroke-linejoin="round"/><path d="M939.2 285.2L945.9 279.5M945.9 279.5L952.5 291.7M952.5 291.7L959.1 290.2" stroke="#a8ff57" stroke-width="0.9" fill="none" stroke-linejoin="round"/><path d="M959.1 290.2L965.7 297.7" stroke="#a9ff56" stroke-width="0.9" fill="none" stroke-linejoin="round"/><path d="M965.7 297.7L972.4 300.0M972.4 300.0L979.0 295.4" stroke="#a6ff59" stroke-width="0.9" fill="none" stroke-linejoin="round"/><path d="M979.0 295.4L985.6 304.6" stroke="#9aff65" stroke-width="0.9" fill="none" stroke-linejoin="round"/><path d="M985.6 304.6L992.3 301.6" stroke="#85ff7a" stroke-width="0.9" fill="none" stroke-linejoin="round"/><path d="M992.3 301.6L998.9 303.5" stroke="#83ff7c" stroke-width="0.9" fill="none" stroke-linejoin="round"/><path d="M998.9 303.5L1005.5 311.5" stroke="#80ff7f" stroke-width="0.9" fill="none" stroke-linejoin="round"/><path d="M800.0 226.0L806.6 224.7" stroke="#eaff15" stroke-width="0.9" fill="none" stroke-linejoin="round"/><path d="M806.6 224.7L813.3 237.2" stroke="#e7ff18" stroke-width="0.9" fill="none" stroke-linejoin="round"/><path d="M813.3 237.2L819.9 240.0" stroke="#f5ff0a" stroke-width="0.9" fill="none" stroke-linejoin="round"/><path d="M819.9 240.0L826.5 237.9" stroke="#f0ff0f" stroke-width="0.9" fill="none" stroke-linejoin="round"/><path d="M826.5 237.9L833.1 243.5M892.8 266.5L899.4 278.0" stroke="#d1ff2e" stroke-width="0.9" fill="none" stroke-linejoin="round"/><path d="M833.1 243.5L839.8 241.5" stroke="#bbff44" stroke-width="0.9" fill="none" stroke-linejoin="round"/><path d="M839.8 241.5L846.4 244.9" stroke="#b4ff4b" stroke-width="0.9" fill="none" stroke-linejoin="round"/><path d="M846.4 244.9L853.0 249.0" stroke="#b8ff47" stroke-width="0.9" fill="none" stroke-linejoin="round"/><path d="M853.0 249.0L859.7 257.1" stroke="#ffec00" stroke-width="0.9" fill="none" stroke-linejoin="round"/><path d="M859.7 257.1L866.3 254.7" stroke="#ffda00" stroke-width="0.9" fill="none" stroke-linejoin="round"/><path d="M866.3 254.7L872.9 267.1" stroke="#ffdd00" stroke-width="0.9" fill="none" stroke-linejoin="round"/><path d="M872.9 267.1L879.6 259.6" stroke="#fcff03" stroke-width="0.9" fill="none" stroke-linejoin="round"/><path d="M879.6 259.6L886.2 264.4" stroke="#dfff20" stroke-width="0.9" fill="none" stroke-linejoin="round"/><path d="M886.2 264.4L892.8 266.5" stroke="#d2ff2d" stroke-width="0.9" fill="none" stroke-linejoin="round"/><path d="M899.4 278.0L906.1 276.4" stroke="#d0ff2f" stroke-width="0.9" fill="none" stroke-linejoin="round"/><path d="M906.1 276.4L912.7 281.0" stroke="#ccff33" stroke-width="0.9" fill="none" stroke-linejoin="round"/><path d="M912.7 281.0L919.3 282.6" stroke="#beff41" stroke-width="0.9" fill="none" stroke-linejoin="round"/><path d="M919.3 282.6L926.0 289.6" stroke="#b1ff4e" stroke-width="0.9" fill="none" stroke-linejoin="round"/><path d="M926.0 289.6L932.6 290.1" stroke="#abff54" stroke-width="0.9" fill="none" stroke-linejoin="round"/><path d="M932.6 290.1L939.2 291.1M939.2 291.1L945.9 297.1" stroke="#a9ff56" stroke-width="0.9" fill="none" stroke-linejoin="round"/><path d="M945.9 297.1L952.5 298.9M952.5 298.9L959.1 299.9" stroke="#a8ff57" stroke-width="0.9" fill="none" stroke-linejoin="round"/><path d="M959.1 299.9L965.7 311.8" stroke="#a7ff58" stroke-width="0.9" fill="none" stroke-linejoin="round"/><path d="M965.7 311.8L972.4 313.4" stroke="#97ff68" stroke-width="0.9" fill="none" stroke-linejoin="round"/><path d="M972.4 313.4L979.0 316.5" stroke="#85ff7a" stroke-width="0.9" fill="none" stroke-linejoin="round"/><path d="M979.0 316.5L985.6 322.4" stroke="#77ff88" stroke-width="0.9" fill="none" stroke-linejoin="round"/><path d="M985.6 322.4L992.3 319.9" stroke="#70ff8f" stroke-width="0.9" fill="none" stroke-linejoin="round"/><path d="M992.3 319.9L998.9 323.0" stroke="#6fff90" stroke-width="0.9" fill="none" stroke-linejoin="round"/><path d="M998.9 323.0L1005.5 326.8" stroke="#56ffa9" stroke-width="0.9" fill="none" stroke-linejoin="round"/><path d="M800.0 235.8L806.6 244.7" stroke="#eaff15" stroke-width="0.9" fill="none" stroke-linejoin="round"/><path d="M806.6 244.7L813.3 242.7" stroke="#ffd900" stroke-width="0.9" fill="none" stroke-linejoin="round"/><path d="M813.3 242.7L819.9 252.5" stroke="#ff9500" stroke-width="0.9" fill="none" stroke-linejoin="round"/><path d="M819.9 252.5L826.5 254.6" stroke="#ff9600" stroke-width="0.9" fill="none" stroke-linejoin="round"/><path d="M826.5 254.6L833.1 255.2" stroke="#ffc600" stroke-width="0.9" fill="none" stroke-linejoin="round"/><path d="M833.1 255.2L839.8 261.3" stroke="#ffca00" stroke-width="0.9" fill="none" stroke-linejoin="round"/><path d="M839.8 261.3L846.4 264.0M846.4 264.0L853.0 261.0M853.0 261.0L859.7 270.2" stroke="#ffc700" stroke-width="0.9" fill="none" stroke-linejoin="round"/><path d="M859.7 270.2L866.3 274.6" stroke="#ffd600" stroke-width="0.9" fill="none" stroke-linejoin="round"/><path d="M866.3 274.6L872.9 276.7" stroke="#fff400" stroke-width="0.9" fill="none" stroke-linejoin="round"/><path d="M872.9 276.7L879.6 284.3" stroke="#ecff13" stroke-width="0.9" fill="none" stroke-linejoin="round"/><path d="M879.6 284.3L886.2 285.9" stroke="#c8ff37" stroke-width="0.9" fill="none" stroke-linejoin="round"/><path d="M886.2 285.9L892.8 284.9" stroke="#b7ff48" stroke-width="0.9" fill="none" stroke-linejoin="round"/><path d="M892.8 284.9L899.4 286.4" stroke="#b0ff4f" stroke-width="0.9" fill="none" stroke-linejoin="round"/><path d="M899.4 286.4L906.1 288.6M919.3 301.9L926.0 304.3" stroke="#abff54" stroke-width="0.9" fill="none" stroke-linejoin="round"/><path d="M906.1 288.6L912.7 300.1" stroke="#a9ff56" stroke-width="0.9" fill="none" stroke-linejoin="round"/><path d="M912.7 300.1L919.3 301.9" stroke="#acff53" stroke-width="0.9" fill="none" stroke-linejoin="round"/><path d="M926.0 304.3L932.6 305.6M939.2 309.6L945.9 309.6" stroke="#a8ff57" stroke-width="0.9" fill="none" stroke-linejoin="round"/><path d="M932.6 305.6L939.2 309.6" stroke="#a7ff58" stroke-width="0.9" fill="none" stroke-linejoin="round"/><path d="M945.9 309.6L952.5 316.6" stroke="#a5ff5a" stroke-width="0.9" fill="none" stroke-linejoin="round"/><path d="M952.5 316.6L959.1 315.3" stroke="#96ff69" stroke-width="0.9" fill="none" stroke-linejoin="round"/><path d="M959.1 315.3L965.7 324.3" stroke="#7aff85" stroke-width="0.9" fill="none" stroke-linejoin="round"/><path d="M965.7 324.3L972.4 327.8" stroke="#6cff93" stroke-width="0.9" fill="none" stroke-linejoin="round"/><path d="M972.4 327.8L979.0 331.5" stroke="#5fffa0" stroke-width="0.9" fill="none" stroke-linejoin="round"/><path d="M979.0 331.5L985.6 329.8" stroke="#52ffad" stroke-width="0.9" fill="none" stroke-linejoin="round"/><path d="M985.6 329.8L992.3 331.2" stroke="#4effb1" stroke-width="0.9" fill="none" stroke-linejoin="round"/><path d="M992.3 331.2L998.9 337.4" stroke="#4cffb3" stroke-width="0.9" fill="none" stroke-linejoin="round"/><path d="M998.9 337.4L1005.5 345.0" stroke="#4affb5" stroke-width="0.9" fill="none" stroke-linejoin="round"/><path d="M800.0 260.7L806.6 257.8" stroke="#ff4d00" stroke-width="0.9" fill="none" stroke-linejoin="round"/><path d="M806.6 257.8L813.3 264.3" stroke="#ff5300" stroke-width="0.9" fill="none" stroke-linejoin="round"/><path d="M813.3 264.3L819.9 267.8" stroke="#ff7600" stroke-width="0.9" fill="none" stroke-linejoin="round"/><path d="M819.9 267.8L826.5 264.8" stroke="#ff9a00" stroke-width="0.9" fill="none" stroke-linejoin="round"/><path d="M826.5 264.8L833.1 266.5" stroke="#ffbc00" stroke-width="0.9" fill="none" stroke-linejoin="round"/><path d="M833.1 266.5L839.8 276.1" stroke="#ffc500" stroke-width="0.9" fill="none" stroke-linejoin="round"/><path d="M839.8 276.1L846.4 273.7" stroke="#ffcd00" stroke-width="0.9" fill="none" stroke-linejoin="round"/><path d="M846.4 273.7L853.0 280.1" stroke="#ffd500" stroke-width="0.9" fill="none" stroke-linejoin="round"/><path d="M853.0 280.1L859.7 289.5" stroke="#ffdc00" stroke-width="0.9" fill="none" stroke-linejoin="round"/><path d="M859.7 289.5L866.3 292.6" stroke="#ffdf00" stroke-width="0.9" fill="none" stroke-linejoin="round"/><path d="M866.3 292.6L872.9 286.9" stroke="#fff100" stroke-width="0.9" fill="none" stroke-linejoin="round"/><path d="M872.9 286.9L879.6 289.8" stroke="#e3ff1c" stroke-width="0.9" fill="none" stroke-linejoin="round"/><path d="M879.6 289.8L886.2 294.8" stroke="#b5ff4a" stroke-width="0.9" fill="none" stroke-linejoin="round"/><path d="M886.2 294.8L892.8 305.3M899.4 299.0L906.1 304.7" stroke="#acff53" stroke-width="0.9" fill="none" stroke-linejoin="round"/><path d="M892.8 305.3L899.4 299.0" stroke="#adff52" stroke-width="0.9" fill="none" stroke-linejoin="round"/><path d="M906.1 304.7L912.7 306.6" stroke="#b1ff4e" stroke-width="0.9" fill="none" stroke-linejoin="round"/><path d="M912.7 306.6L919.3 310.2" stroke="#afff50" stroke-width="0.9" fill="none" stroke-linejoin="round"/><path d="M919.3 310.2L926.0 318.3" stroke="#a3ff5c" stroke-width="0.9" fill="none" stroke-linejoin="round"/><path d="M926.0 318.3L932.6 317.5" stroke="#90ff6f" stroke-width="0.9" fill="none" stroke-linejoin="round"/><path d="M932.6 317.5L939.2 323.5" stroke="#7cff83" stroke-width="0.9" fill="none" stroke-linejoin="round"/><path d="M939.2 323.5L945.9 330.7M945.9 330.7L952.5 333.9M952.5 333.9L959.1 333.5" stroke="#6bff94" stroke-width="0.9" fill="none" stroke-linejoin="round"/><path d="M959.1 333.5L965.7 341.3" stroke="#64ff9b" stroke-width="0.9" fill="none" stroke-linejoin="round"/><path d="M965.7 341.3L972.4 342.1" stroke="#4bffb4" stroke-width="0.9" fill="none" stroke-linejoin="round"/><path d="M972.4 342.1L979.0 348.4" stroke="#36ffc9" stroke-width="0.9" fill="none" stroke-linejoin="round"/><path d="M979.0 348.4L985.6 344.8" stroke="#26ffd9" stroke-width="0.9" fill="none" stroke-linejoin="round"/><path d="M985.6 344.8L992.3 349.6" stroke="#18ffe7" stroke-width="0.9" fill="none" stroke-linejoin="round"/><path d="M992.3 349.6L998.9 355.4M998.9 355.4L1005.5 352.6" stroke="#05fffa" stroke-width="0.9" fill="none" stroke-linejoin="round"/><path d="M800.0 275.5L806.6 277.8" stroke="#ff6100" stroke-width="0.9" fill="none" stroke-linejoin="round"/><path d="M806.6 277.8L813.3 279.4" stroke="#ff6200" stroke-width="0.9" fill="none" stroke-linejoin="round"/><path d="M813.3 279.4L819.9 276.7" stroke="#ff6b00" stroke-width="0.9" fill="none" stroke-linejoin="round"/><path d="M819.9 276.7L826.5 281.2" stroke="#ff8900" stroke-width="0.9" fill="none" stroke-linejoin="round"/><path d="M826.5 281.2L833.1 289.1" stroke="#ffc600" stroke-width="0.9" fill="none" stroke-linejoin="round"/><path d="M833.1 289.1L839.8 293.6M839.8 293.6L846.4 287.4M846.4 287.4L853.0 292.5" stroke="#ffdb00" stroke-width="0.9" fill="none" stroke-linejoin="round"/><path d="M853.0 292.5L859.7 304.6" stroke="#ffe200" stroke-width="0.9" fill="none" stroke-linejoin="round"/><path d="M859.7 304.6L866.3 298.6" stroke="#fffb00" stroke-width="0.9" fill="none" stroke-linejoin="round"/><path d="M866.3 298.6L872.9 308.3" stroke="#e6ff19" stroke-width="0.9" fill="none" stroke-linejoin="round"/><path d="M872.9 308.3L879.6 307.7" stroke="#c7ff38" stroke-width="0.9" fill="none" stroke-linejoin="round"/><path d="M879.6 307.7L886.2 314.8" stroke="#b5ff4a" stroke-width="0.9" fill="none" stroke-linejoin="round"/><path d="M886.2 314.8L892.8 320.8" stroke="#a9ff56" stroke-width="0.9" fill="none" stroke-linejoin="round"/><path d="M892.8 320.8L899.4 320.7" stroke="#93ff6c" stroke-width="0.9" fill="none" stroke-linejoin="round"/><path d="M899.4 320.7L906.1 321.7" stroke="#8eff71" stroke-width="0.9" fill="none" stroke-linejoin="round"/><path d="M906.1 321.7L912.7 324.2" stroke="#87ff78" stroke-width="0.9" fill="none" stroke-linejoin="round"/><path d="M912.7 324.2L919.3 331.1" stroke="#81ff7e" stroke-width="0.9" fill="none" stroke-linejoin="round"/><path d="M919.3 331.1L926.0 334.5" stroke="#77ff88" stroke-width="0.9" fill="none" stroke-linejoin="round"/><path d="M926.0 334.5L932.6 335.2" stroke="#6cff93" stroke-width="0.9" fill="none" stroke-linejoin="round"/><path d="M932.6 335.2L939.2 339.2" stroke="#67ff98" stroke-width="0.9" fill="none" stroke-linejoin="round"/><path d="M939.2 339.2L945.9 343.4" stroke="#58ffa7" stroke-width="0.9" fill="none" stroke-linejoin="round"/><path d="M945.9 343.4L952.5 343.3" stroke="#46ffb9" stroke-width="0.9" fill="none" stroke-linejoin="round"/><path d="M952.5 343.3L959.1 345.7" stroke="#3dffc2" stroke-width="0.9" fill="none" stroke-linejoin="round"/><path d="M959.1 345.7L965.7 353.7" stroke="#30ffcf" stroke-width="0.9" fill="none" stroke-linejoin="round"/><path d="M965.7 353.7L972.4 351.4" stroke="#2dffd2" stroke-width="0.9" fill="none" stroke-linejoin="round"/><path d="M972.4 351.4L979.0 360.7" stroke="#1dffe2" stroke-width="0.9" fill="none" stroke-linejoin="round"/><path d="M979.0 360.7L985.6 362.5" stroke="#0dfff2" stroke-width="0.9" fill="none" stroke-linejoin="round"/><path d="M985.6 362.5L992.3 356.6" stroke="#07fff8" stroke-width="0.9" fill="none" stroke-linejoin="round"/><path d="M992.3 356.6L998.9 358.1M998.9 358.1L1005.5 352.6" stroke="#05fffa" stroke-width="0.9" fill="none" stroke-linejoin="round"/><path d="M800.0 289.5L806.6 286.5" stroke="#ff6500" stroke-width="0.9" fill="none" stroke-linejoin="round"/><path d="M806.6 286.5L813.3 295.1" stroke="#ff7700" stroke-width="0.9" fill="none" stroke-linejoin="round"/><path d="M813.3 295.1L819.9 300.4" stroke="#ffaa00" stroke-width="0.9" fill="none" stroke-linejoin="round"/><path d="M819.9 300.4L826.5 296.0" stroke="#ffc100" stroke-width="0.9" fill="none" stroke-linejoin="round"/><path d="M826.5 296.0L833.1 304.8" stroke="#ffd800" stroke-width="0.9" fill="none" stroke-linejoin="round"/><path d="M833.1 304.8L839.8 302.9" stroke="#fff000" stroke-width="0.9" fill="none" stroke-linejoin="round"/><path d="M839.8 302.9L846.4 304.2" stroke="#fff500" stroke-width="0.9" fill="none" stroke-linejoin="round"/><path d="M846.4 304.2L853.0 309.7" stroke="#fbff04" stroke-width="0.9" fill="none" stroke-linejoin="round"/><path d="M853.0 309.7L859.7 317.8" stroke="#faff05" stroke-width="0.9" fill="none" stroke-linejoin="round"/><path d="M859.7 317.8L866.3 313.9" stroke="#f7ff08" stroke-width="0.9" fill="none" stroke-linejoin="round"/><path d="M866.3 313.9L872.9 323.4" stroke="#e3ff1c" stroke-width="0.9" fill="none" stroke-linejoin="round"/><path d="M872.9 323.4L879.6 323.0" stroke="#b0ff4f" stroke-width="0.9" fill="none" stroke-linejoin="round"/><path d="M879.6 323.0L886.2 324.1" stroke="#94ff6b" stroke-width="0.9" fill="none" stroke-linejoin="round"/><path d="M886.2 324.1L892.8 330.6" stroke="#81ff7e" stroke-width="0.9" fill="none" stroke-linejoin="round"/><path d="M892.8 330.6L899.4 333.4M899.4 333.4L906.1 337.6" stroke="#7fff80" stroke-width="0.9" fill="none" stroke-linejoin="round"/><path d="M906.1 337.6L912.7 345.9" stroke="#5bffa4" stroke-width="0.9" fill="none" stroke-linejoin="round"/><path d="M912.7 345.9L919.3 349.7" stroke="#4fffb0" stroke-width="0.9" fill="none" stroke-linejoin="round"/><path d="M919.3 349.7L926.0 344.7" stroke="#4effb1" stroke-width="0.9" fill="none" stroke-linejoin="round"/><path d="M926.0 344.7L932.6 357.2" stroke="#3bffc4" stroke-width="0.9" fill="none" stroke-linejoin="round"/><path d="M932.6 357.2L939.2 356.0" stroke="#2fffd0" stroke-width="0.9" fill="none" stroke-linejoin="round"/><path d="M939.2 356.0L945.9 363.4" stroke="#2dffd2" stroke-width="0.9" fill="none" stroke-linejoin="round"/><path d="M945.9 363.4L952.5 365.0" stroke="#26ffd9" stroke-width="0.9" fill="none" stroke-linejoin="round"/><path d="M952.5 365.0L959.1 364.9" stroke="#21ffde" stroke-width="0.9" fill="none" stroke-linejoin="round"/><path d="M959.1 364.9L965.7 364.9" stroke="#1dffe2" stroke-width="0.9" fill="none" stroke-linejoin="round"/><path d="M965.7 364.9L972.4 361.7" stroke="#1fffe0" stroke-width="0.9" fill="none" stroke-linejoin="round"/><path d="M972.4 361.7L979.0 367.2" stroke="#15ffea" stroke-width="0.9" fill="none" stroke-linejoin="round"/><path d="M979.0 367.2L985.6 362.5" stroke="#0efff1" stroke-width="0.9" fill="none" stroke-linejoin="round"/><path d="M985.6 362.5L992.3 356.6" stroke="#07fff8" stroke-width="0.9" fill="none" stroke-linejoin="round"/><path d="M992.3 356.6L998.9 358.1M998.9 358.1L1005.5 352.6" stroke="#05fffa" stroke-width="0.9" fill="none" stroke-linejoin="round"/><path d="M800.0 302.5L806.6 308.1" stroke="#ff9e00" stroke-width="0.9" fill="none" stroke-linejoin="round"/><path d="M806.6 308.1L813.3 300.8" stroke="#ffa000" stroke-width="0.9" fill="none" stroke-linejoin="round"/><path d="M813.3 300.8L819.9 315.2" stroke="#ffa700" stroke-width="0.9" fill="none" stroke-linejoin="round"/><path d="M819.9 315.2L826.5 317.1" stroke="#ffd600" stroke-width="0.9" fill="none" stroke-linejoin="round"/><path d="M826.5 317.1L833.1 311.3" stroke="#fff600" stroke-width="0.9" fill="none" stroke-linejoin="round"/><path d="M833.1 311.3L839.8 323.6" stroke="#fbff04" stroke-width="0.9" fill="none" stroke-linejoin="round"/><path d="M839.8 323.6L846.4 326.9" stroke="#edff12" stroke-width="0.9" fill="none" stroke-linejoin="round"/><path d="M846.4 326.9L853.0 322.8" stroke="#efff10" stroke-width="0.9" fill="none" stroke-linejoin="round"/><path d="M853.0 322.8L859.7 335.5" stroke="#cbff34" stroke-width="0.9" fill="none" stroke-linejoin="round"/><path d="M859.7 335.5L866.3 331.5" stroke="#bcff43" stroke-width="0.9" fill="none" stroke-linejoin="round"/><path d="M866.3 331.5L872.9 335.9" stroke="#b0ff4f" stroke-width="0.9" fill="none" stroke-linejoin="round"/><path d="M872.9 335.9L879.6 341.6" stroke="#91ff6e" stroke-width="0.9" fill="none" stroke-linejoin="round"/><path d="M879.6 341.6L886.2 345.4" stroke="#64ff9b" stroke-width="0.9" fill="none" stroke-linejoin="round"/><path d="M886.2 345.4L892.8 349.4" stroke="#4effb1" stroke-width="0.9" fill="none" stroke-linejoin="round"/><path d="M892.8 349.4L899.4 347.1M899.4 347.1L906.1 352.8M906.1 352.8L912.7 352.0" stroke="#4dffb2" stroke-width="0.9" fill="none" stroke-linejoin="round"/><path d="M912.7 352.0L919.3 357.0" stroke="#4affb5" stroke-width="0.9" fill="none" stroke-linejoin="round"/><path d="M919.3 357.0L926.0 362.9" stroke="#37ffc8" stroke-width="0.9" fill="none" stroke-linejoin="round"/><path d="M926.0 362.9L932.6 361.2" stroke="#2bffd4" stroke-width="0.9" fill="none" stroke-linejoin="round"/><path d="M932.6 361.2L939.2 367.8" stroke="#21ffde" stroke-width="0.9" fill="none" stroke-linejoin="round"/><path d="M939.2 367.8L945.9 376.7" stroke="#00e3ff" stroke-width="0.9" fill="none" stroke-linejoin="round"/><path d="M945.9 376.7L952.5 372.4M952.5 372.4L959.1 378.8" stroke="#00dcff" stroke-width="0.9" fill="none" stroke-linejoin="round"/><path d="M959.1 378.8L965.7 376.6" stroke="#00ddff" stroke-width="0.9" fill="none" stroke-linejoin="round"/><path d="M965.7 376.6L972.4 361.7" stroke="#01fffe" stroke-width="0.9" fill="none" stroke-linejoin="round"/><path d="M972.4 361.7L979.0 367.2" stroke="#15ffea" stroke-width="0.9" fill="none" stroke-linejoin="round"/><path d="M979.0 367.2L985.6 362.5" stroke="#0efff1" stroke-width="0.9" fill="none" stroke-linejoin="round"/><path d="M985.6 362.5L992.3 356.6" stroke="#07fff8" stroke-width="0.9" fill="none" stroke-linejoin="round"/><path d="M992.3 356.6L998.9 358.1M998.9 358.1L1005.5 352.6" stroke="#05fffa" stroke-width="0.9" fill="none" stroke-linejoin="round"/><path d="M800.0 312.0L806.6 319.3" stroke="#ff9f00" stroke-width="0.9" fill="none" stroke-linejoin="round"/><path d="M806.6 319.3L813.3 327.3" stroke="#ffcd00" stroke-width="0.9" fill="none" stroke-linejoin="round"/><path d="M813.3 327.3L819.9 326.8" stroke="#ffe200" stroke-width="0.9" fill="none" stroke-linejoin="round"/><path d="M819.9 326.8L826.5 328.1" stroke="#fff500" stroke-width="0.9" fill="none" stroke-linejoin="round"/><path d="M826.5 328.1L833.1 329.3" stroke="#ecff13" stroke-width="0.9" fill="none" stroke-linejoin="round"/><path d="M833.1 329.3L839.8 330.5" stroke="#d4ff2b" stroke-width="0.9" fill="none" stroke-linejoin="round"/><path d="M839.8 330.5L846.4 344.2M846.4 344.2L853.0 344.6" stroke="#bdff42" stroke-width="0.9" fill="none" stroke-linejoin="round"/><path d="M853.0 344.6L859.7 341.8" stroke="#bcff43" stroke-width="0.9" fill="none" stroke-linejoin="round"/><path d="M859.7 341.8L866.3 349.3" stroke="#b6ff49" stroke-width="0.9" fill="none" stroke-linejoin="round"/><path d="M866.3 349.3L872.9 354.0" stroke="#86ff79" stroke-width="0.9" fill="none" stroke-linejoin="round"/><path d="M872.9 354.0L879.6 359.7" stroke="#64ff9b" stroke-width="0.9" fill="none" stroke-linejoin="round"/><path d="M879.6 359.7L886.2 355.5" stroke="#52ffad" stroke-width="0.9" fill="none" stroke-linejoin="round"/><path d="M886.2 355.5L892.8 359.2" stroke="#4cffb3" stroke-width="0.9" fill="none" stroke-linejoin="round"/><path d="M892.8 359.2L899.4 361.0" stroke="#45ffba" stroke-width="0.9" fill="none" stroke-linejoin="round"/><path d="M899.4 361.0L906.1 369.1" stroke="#24ffdb" stroke-width="0.9" fill="none" stroke-linejoin="round"/><path d="M906.1 369.1L912.7 376.4" stroke="#1affe5" stroke-width="0.9" fill="none" stroke-linejoin="round"/><path d="M912.7 376.4L919.3 377.5" stroke="#17ffe8" stroke-width="0.9" fill="none" stroke-linejoin="round"/><path d="M919.3 377.5L926.0 373.7" stroke="#0dfff2" stroke-width="0.9" fill="none" stroke-linejoin="round"/><path d="M926.0 373.7L932.6 379.8" stroke="#00f1ff" stroke-width="0.9" fill="none" stroke-linejoin="round"/><path d="M932.6 379.8L939.2 379.5" stroke="#00dfff" stroke-width="0.9" fill="none" stroke-linejoin="round"/><path d="M939.2 379.5L945.9 383.9M945.9 383.9L952.5 387.2M952.5 387.2L959.1 388.6M959.1 388.6L965.7 376.6" stroke="#00dcff" stroke-width="0.9" fill="none" stroke-linejoin="round"/><path d="M965.7 376.6L972.4 361.7" stroke="#01fffe" stroke-width="0.9" fill="none" stroke-linejoin="round"/><path d="M972.4 361.7L979.0 367.2" stroke="#15ffea" stroke-width="0.9" fill="none" stroke-linejoin="round"/><path d="M979.0 367.2L985.6 362.5" stroke="#0efff1" stroke-width="0.9" fill="none" stroke-linejoin="round"/><path d="M985.6 362.5L992.3 356.6" stroke="#07fff8" stroke-width="0.9" fill="none" stroke-linejoin="round"/><path d="M992.3 356.6L998.9 358.1M998.9 358.1L1005.5 352.6" stroke="#05fffa" stroke-width="0.9" fill="none" stroke-linejoin="round"/><path d="M800.0 325.6L806.6 337.1" stroke="#ffdb00" stroke-width="0.9" fill="none" stroke-linejoin="round"/><path d="M806.6 337.1L813.3 341.2" stroke="#ffdf00" stroke-width="0.9" fill="none" stroke-linejoin="round"/><path d="M813.3 341.2L819.9 338.6" stroke="#ffef00" stroke-width="0.9" fill="none" stroke-linejoin="round"/><path d="M819.9 338.6L826.5 340.6" stroke="#f0ff0f" stroke-width="0.9" fill="none" stroke-linejoin="round"/><path d="M826.5 340.6L833.1 342.9" stroke="#caff35" stroke-width="0.9" fill="none" stroke-linejoin="round"/><path d="M833.1 342.9L839.8 344.9" stroke="#bdff42" stroke-width="0.9" fill="none" stroke-linejoin="round"/><path d="M839.8 344.9L846.4 349.8" stroke="#baff45" stroke-width="0.9" fill="none" stroke-linejoin="round"/><path d="M846.4 349.8L853.0 352.9" stroke="#a7ff58" stroke-width="0.9" fill="none" stroke-linejoin="round"/><path d="M853.0 352.9L859.7 364.1" stroke="#80ff7f" stroke-width="0.9" fill="none" stroke-linejoin="round"/><path d="M859.7 364.1L866.3 359.4" stroke="#7dff82" stroke-width="0.9" fill="none" stroke-linejoin="round"/><path d="M866.3 359.4L872.9 362.7" stroke="#74ff8b" stroke-width="0.9" fill="none" stroke-linejoin="round"/><path d="M872.9 362.7L879.6 374.9" stroke="#46ffb9" stroke-width="0.9" fill="none" stroke-linejoin="round"/><path d="M879.6 374.9L886.2 378.1" stroke="#1effe1" stroke-width="0.9" fill="none" stroke-linejoin="round"/><path d="M886.2 378.1L892.8 371.6M892.8 371.6L899.4 377.6" stroke="#1affe5" stroke-width="0.9" fill="none" stroke-linejoin="round"/><path d="M899.4 377.6L906.1 388.9" stroke="#16ffe9" stroke-width="0.9" fill="none" stroke-linejoin="round"/><path d="M906.1 388.9L912.7 385.0" stroke="#00fcff" stroke-width="0.9" fill="none" stroke-linejoin="round"/><path d="M912.7 385.0L919.3 391.2" stroke="#00f3ff" stroke-width="0.9" fill="none" stroke-linejoin="round"/><path d="M919.3 391.2L926.0 388.8" stroke="#00ebff" stroke-width="0.9" fill="none" stroke-linejoin="round"/><path d="M926.0 388.8L932.6 388.8" stroke="#00e8ff" stroke-width="0.9" fill="none" stroke-linejoin="round"/><path d="M932.6 388.8L939.2 391.0" stroke="#00e2ff" stroke-width="0.9" fill="none" stroke-linejoin="round"/><path d="M939.2 391.0L945.9 390.5" stroke="#00dfff" stroke-width="0.9" fill="none" stroke-linejoin="round"/><path d="M945.9 390.5L952.5 387.2" stroke="#00ddff" stroke-width="0.9" fill="none" stroke-linejoin="round"/><path d="M952.5 387.2L959.1 388.6M959.1 388.6L965.7 376.6" stroke="#00dcff" stroke-width="0.9" fill="none" stroke-linejoin="round"/><path d="M965.7 376.6L972.4 361.7" stroke="#01fffe" stroke-width="0.9" fill="none" stroke-linejoin="round"/><path d="M972.4 361.7L979.0 367.2" stroke="#15ffea" stroke-width="0.9" fill="none" stroke-linejoin="round"/><path d="M979.0 367.2L985.6 362.5" stroke="#0efff1" stroke-width="0.9" fill="none" stroke-linejoin="round"/><path d="M985.6 362.5L992.3 356.6" stroke="#07fff8" stroke-width="0.9" fill="none" stroke-linejoin="round"/><path d="M992.3 356.6L998.9 358.1M998.9 358.1L1005.5 352.6" stroke="#05fffa" stroke-width="0.9" fill="none" stroke-linejoin="round"/><path d="M800.0 342.4L806.6 347.8" stroke="#fffe00" stroke-width="0.9" fill="none" stroke-linejoin="round"/><path d="M806.6 347.8L813.3 352.2" stroke="#e6ff19" stroke-width="0.9" fill="none" stroke-linejoin="round"/><path d="M813.3 352.2L819.9 350.2" stroke="#e0ff1f" stroke-width="0.9" fill="none" stroke-linejoin="round"/><path d="M819.9 350.2L826.5 358.3" stroke="#c8ff37" stroke-width="0.9" fill="none" stroke-linejoin="round"/><path d="M826.5 358.3L833.1 367.1" stroke="#89ff76" stroke-width="0.9" fill="none" stroke-linejoin="round"/><path d="M833.1 367.1L839.8 365.6" stroke="#7eff81" stroke-width="0.9" fill="none" stroke-linejoin="round"/><path d="M839.8 365.6L846.4 368.4" stroke="#7fff80" stroke-width="0.9" fill="none" stroke-linejoin="round"/><path d="M846.4 368.4L853.0 375.0" stroke="#79ff86" stroke-width="0.9" fill="none" stroke-linejoin="round"/><path d="M853.0 375.0L859.7 374.2" stroke="#58ffa7" stroke-width="0.9" fill="none" stroke-linejoin="round"/><path d="M859.7 374.2L866.3 375.5" stroke="#50ffaf" stroke-width="0.9" fill="none" stroke-linejoin="round"/><path d="M866.3 375.5L872.9 385.5" stroke="#2cffd3" stroke-width="0.9" fill="none" stroke-linejoin="round"/><path d="M872.9 385.5L879.6 380.8" stroke="#1effe1" stroke-width="0.9" fill="none" stroke-linejoin="round"/><path d="M879.6 380.8L886.2 392.8" stroke="#08fff7" stroke-width="0.9" fill="none" stroke-linejoin="round"/><path d="M886.2 392.8L892.8 396.0" stroke="#00d5ff" stroke-width="0.9" fill="none" stroke-linejoin="round"/><path d="M892.8 396.0L899.4 395.3M906.1 398.2L912.7 396.1" stroke="#00d2ff" stroke-width="0.9" fill="none" stroke-linejoin="round"/><path d="M899.4 395.3L906.1 398.2" stroke="#00d1ff" stroke-width="0.9" fill="none" stroke-linejoin="round"/><path d="M912.7 396.1L919.3 392.1" stroke="#00d9ff" stroke-width="0.9" fill="none" stroke-linejoin="round"/><path d="M919.3 392.1L926.0 388.8" stroke="#00e9ff" stroke-width="0.9" fill="none" stroke-linejoin="round"/><path d="M926.0 388.8L932.6 388.8" stroke="#00e8ff" stroke-width="0.9" fill="none" stroke-linejoin="round"/><path d="M932.6 388.8L939.2 391.0" stroke="#00e2ff" stroke-width="0.9" fill="none" stroke-linejoin="round"/><path d="M939.2 391.0L945.9 390.5" stroke="#00dfff" stroke-width="0.9" fill="none" stroke-linejoin="round"/><path d="M945.9 390.5L952.5 387.2" stroke="#00ddff" stroke-width="0.9" fill="none" stroke-linejoin="round"/><path d="M952.5 387.2L959.1 388.6M959.1 388.6L965.7 376.6" stroke="#00dcff" stroke-width="0.9" fill="none" stroke-linejoin="round"/><path d="M965.7 376.6L972.4 361.7" stroke="#01fffe" stroke-width="0.9" fill="none" stroke-linejoin="round"/><path d="M972.4 361.7L979.0 367.2" stroke="#15ffea" stroke-width="0.9" fill="none" stroke-linejoin="round"/><path d="M979.0 367.2L985.6 362.5" stroke="#0efff1" stroke-width="0.9" fill="none" stroke-linejoin="round"/><path d="M985.6 362.5L992.3 356.6" stroke="#07fff8" stroke-width="0.9" fill="none" stroke-linejoin="round"/><path d="M992.3 356.6L998.9 358.1M998.9 358.1L1005.5 352.6" stroke="#05fffa" stroke-width="0.9" fill="none" stroke-linejoin="round"/><path d="M800.0 365.2L806.6 362.0" stroke="#c9ff36" stroke-width="0.9" fill="none" stroke-linejoin="round"/><path d="M806.6 362.0L813.3 370.5" stroke="#9dff62" stroke-width="0.9" fill="none" stroke-linejoin="round"/><path d="M813.3 370.5L819.9 366.9" stroke="#8aff75" stroke-width="0.9" fill="none" stroke-linejoin="round"/><path d="M819.9 366.9L826.5 373.0" stroke="#7eff81" stroke-width="0.9" fill="none" stroke-linejoin="round"/><path d="M826.5 373.0L833.1 373.9" stroke="#65ff9a" stroke-width="0.9" fill="none" stroke-linejoin="round"/><path d="M833.1 373.9L839.8 380.4" stroke="#42ffbd" stroke-width="0.9" fill="none" stroke-linejoin="round"/><path d="M839.8 380.4L846.4 378.1" stroke="#31ffce" stroke-width="0.9" fill="none" stroke-linejoin="round"/><path d="M846.4 378.1L853.0 385.5" stroke="#2effd1" stroke-width="0.9" fill="none" stroke-linejoin="round"/><path d="M853.0 385.5L859.7 387.6" stroke="#2cffd3" stroke-width="0.9" fill="none" stroke-linejoin="round"/><path d="M859.7 387.6L866.3 387.6" stroke="#1fffe0" stroke-width="0.9" fill="none" stroke-linejoin="round"/><path d="M866.3 387.6L872.9 400.3M965.7 376.6L972.4 361.7" stroke="#01fffe" stroke-width="0.9" fill="none" stroke-linejoin="round"/><path d="M872.9 400.3L879.6 404.4" stroke="#00e4ff" stroke-width="0.9" fill="none" stroke-linejoin="round"/><path d="M879.6 404.4L886.2 398.9" stroke="#00d6ff" stroke-width="0.9" fill="none" stroke-linejoin="round"/><path d="M886.2 398.9L892.8 408.0" stroke="#00d2ff" stroke-width="0.9" fill="none" stroke-linejoin="round"/><path d="M892.8 408.0L899.4 410.1" stroke="#00cdff" stroke-width="0.9" fill="none" stroke-linejoin="round"/><path d="M899.4 410.1L906.1 412.1" stroke="#00c2ff" stroke-width="0.9" fill="none" stroke-linejoin="round"/><path d="M906.1 412.1L912.7 409.9" stroke="#00c1ff" stroke-width="0.9" fill="none" stroke-linejoin="round"/><path d="M912.7 409.9L919.3 392.1" stroke="#00d3ff" stroke-width="0.9" fill="none" stroke-linejoin="round"/><path d="M919.3 392.1L926.0 388.8" stroke="#00e9ff" stroke-width="0.9" fill="none" stroke-linejoin="round"/><path d="M926.0 388.8L932.6 388.8" stroke="#00e8ff" stroke-width="0.9" fill="none" stroke-linejoin="round"/><path d="M932.6 388.8L939.2 391.0" stroke="#00e2ff" stroke-width="0.9" fill="none" stroke-linejoin="round"/><path d="M939.2 391.0L945.9 390.5" stroke="#00dfff" stroke-width="0.9" fill="none" stroke-linejoin="round"/><path d="M945.9 390.5L952.5 387.2" stroke="#00ddff" stroke-width="0.9" fill="none" stroke-linejoin="round"/><path d="M952.5 387.2L959.1 388.6M959.1 388.6L965.7 376.6" stroke="#00dcff" stroke-width="0.9" fill="none" stroke-linejoin="round"/><path d="M972.4 361.7L979.0 367.2" stroke="#15ffea" stroke-width="0.9" fill="none" stroke-linejoin="round"/><path d="M979.0 367.2L985.6 362.5" stroke="#0efff1" stroke-width="0.9" fill="none" stroke-linejoin="round"/><path d="M985.6 362.5L992.3 356.6" stroke="#07fff8" stroke-width="0.9" fill="none" stroke-linejoin="round"/><path d="M992.3 356.6L998.9 358.1M998.9 358.1L1005.5 352.6" stroke="#05fffa" stroke-width="0.9" fill="none" stroke-linejoin="round"/><path d="M800.0 378.9L806.6 374.9" stroke="#7fff80" stroke-width="0.9" fill="none" stroke-linejoin="round"/><path d="M806.6 374.9L813.3 386.9" stroke="#74ff8b" stroke-width="0.9" fill="none" stroke-linejoin="round"/><path d="M813.3 386.9L819.9 384.9" stroke="#35ffca" stroke-width="0.9" fill="none" stroke-linejoin="round"/><path d="M819.9 384.9L826.5 387.0" stroke="#2fffd0" stroke-width="0.9" fill="none" stroke-linejoin="round"/><path d="M826.5 387.0L833.1 393.0" stroke="#16ffe9" stroke-width="0.9" fill="none" stroke-linejoin="round"/><path d="M833.1 393.0L839.8 386.2" stroke="#14ffeb" stroke-width="0.9" fill="none" stroke-linejoin="round"/><path d="M839.8 386.2L846.4 394.5" stroke="#0afff5" stroke-width="0.9" fill="none" stroke-linejoin="round"/><path d="M846.4 394.5L853.0 397.5" stroke="#00f0ff" stroke-width="0.9" fill="none" stroke-linejoin="round"/><path d="M853.0 397.5L859.7 400.2" stroke="#00f1ff" stroke-width="0.9" fill="none" stroke-linejoin="round"/><path d="M859.7 400.2L866.3 400.9" stroke="#00f5ff" stroke-width="0.9" fill="none" stroke-linejoin="round"/><path d="M866.3 400.9L872.9 410.5" stroke="#00eeff" stroke-width="0.9" fill="none" stroke-linejoin="round"/><path d="M872.9 410.5L879.6 404.4M952.5 387.2L959.1 388.6M959.1 388.6L965.7 376.6" stroke="#00dcff" stroke-width="0.9" fill="none" stroke-linejoin="round"/><path d="M879.6 404.4L886.2 406.3" stroke="#00d5ff" stroke-width="0.9" fill="none" stroke-linejoin="round"/><path d="M886.2 406.3L892.8 411.3" stroke="#00cdff" stroke-width="0.9" fill="none" stroke-linejoin="round"/><path d="M892.8 411.3L899.4 421.4" stroke="#009aff" stroke-width="0.9" fill="none" stroke-linejoin="round"/><path d="M899.4 421.4L906.1 427.9" stroke="#0094ff" stroke-width="0.9" fill="none" stroke-linejoin="round"/><path d="M906.1 427.9L912.7 409.9" stroke="#0097ff" stroke-width="0.9" fill="none" stroke-linejoin="round"/><path d="M912.7 409.9L919.3 392.1" stroke="#00d3ff" stroke-width="0.9" fill="none" stroke-linejoin="round"/><path d="M919.3 392.1L926.0 388.8" stroke="#00e9ff" stroke-width="0.9" fill="none" stroke-linejoin="round"/><path d="M926.0 388.8L932.6 388.8" stroke="#00e8ff" stroke-width="0.9" fill="none" stroke-linejoin="round"/><path d="M932.6 388.8L939.2 391.0" stroke="#00e2ff" stroke-width="0.9" fill="none" stroke-linejoin="round"/><path d="M939.2 391.0L945.9 390.5" stroke="#00dfff" stroke-width="0.9" fill="none" stroke-linejoin="round"/><path d="M945.9 390.5L952.5 387.2" stroke="#00ddff" stroke-width="0.9" fill="none" stroke-linejoin="round"/><path d="M965.7 376.6L972.4 361.7" stroke="#01fffe" stroke-width="0.9" fill="none" stroke-linejoin="round"/><path d="M972.4 361.7L979.0 367.2" stroke="#15ffea" stroke-width="0.9" fill="none" stroke-linejoin="round"/><path d="M979.0 367.2L985.6 362.5" stroke="#0efff1" stroke-width="0.9" fill="none" stroke-linejoin="round"/><path d="M985.6 362.5L992.3 356.6" stroke="#07fff8" stroke-width="0.9" fill="none" stroke-linejoin="round"/><path d="M992.3 356.6L998.9 358.1M998.9 358.1L1005.5 352.6" stroke="#05fffa" stroke-width="0.9" fill="none" stroke-linejoin="round"/><path d="M760.0 195.5L766.6 200.0" stroke="#edff12" stroke-width="0.9" fill="none" stroke-linejoin="round"/><path d="M766.6 200.0L773.3 208.1" stroke="#f7ff08" stroke-width="0.9" fill="none" stroke-linejoin="round"/><path d="M773.3 208.1L779.9 205.4" stroke="#f0ff0f" stroke-width="0.9" fill="none" stroke-linejoin="round"/><path d="M779.9 205.4L786.5 215.5M786.5 215.5L793.1 212.6" stroke="#e4ff1b" stroke-width="0.9" fill="none" stroke-linejoin="round"/><path d="M793.1 212.6L799.8 213.0M866.1 246.2L872.7 246.7" stroke="#caff35" stroke-width="0.9" fill="none" stroke-linejoin="round"/><path d="M799.8 213.0L806.4 220.3" stroke="#ddff22" stroke-width="0.9" fill="none" stroke-linejoin="round"/><path d="M806.4 220.3L813.0 220.5" stroke="#e7ff18" stroke-width="0.9" fill="none" stroke-linejoin="round"/><path d="M813.0 220.5L819.7 222.0" stroke="#e1ff1e" stroke-width="0.9" fill="none" stroke-linejoin="round"/><path d="M819.7 222.0L826.3 227.6" stroke="#dbff24" stroke-width="0.9" fill="none" stroke-linejoin="round"/><path d="M826.3 227.6L832.9 232.4" stroke="#d0ff2f" stroke-width="0.9" fill="none" stroke-linejoin="round"/><path d="M832.9 232.4L839.6 232.7" stroke="#bdff42" stroke-width="0.9" fill="none" stroke-linejoin="round"/><path d="M839.6 232.7L846.2 242.3M846.2 242.3L852.8 239.8M852.8 239.8L859.4 246.8" stroke="#b3ff4c" stroke-width="0.9" fill="none" stroke-linejoin="round"/><path d="M859.4 246.8L866.1 246.2" stroke="#c0ff3f" stroke-width="0.9" fill="none" stroke-linejoin="round"/><path d="M872.7 246.7L879.3 253.0" stroke="#d9ff26" stroke-width="0.9" fill="none" stroke-linejoin="round"/><path d="M879.3 253.0L886.0 258.5" stroke="#dfff20" stroke-width="0.9" fill="none" stroke-linejoin="round"/><path d="M886.0 258.5L892.6 259.5" stroke="#d5ff2a" stroke-width="0.9" fill="none" stroke-linejoin="round"/><path d="M892.6 259.5L899.2 264.1" stroke="#d2ff2d" stroke-width="0.9" fill="none" stroke-linejoin="round"/><path d="M899.2 264.1L905.9 261.9M905.9 261.9L912.5 265.0" stroke="#d1ff2e" stroke-width="0.9" fill="none" stroke-linejoin="round"/><path d="M912.5 265.0L919.1 267.9" stroke="#cfff30" stroke-width="0.9" fill="none" stroke-linejoin="round"/><path d="M919.1 267.9L925.7 274.5" stroke="#c9ff36" stroke-width="0.9" fill="none" stroke-linejoin="round"/><path d="M925.7 274.5L932.4 281.2" stroke="#b5ff4a" stroke-width="0.9" fill="none" stroke-linejoin="round"/><path d="M932.4 281.2L939.0 279.4" stroke="#abff54" stroke-width="0.9" fill="none" stroke-linejoin="round"/><path d="M939.0 279.4L945.6 286.7M945.6 286.7L952.3 282.6M952.3 282.6L958.9 286.8" stroke="#a8ff57" stroke-width="0.9" fill="none" stroke-linejoin="round"/><path d="M958.9 286.8L965.5 294.2M965.5 294.2L972.2 298.3" stroke="#a9ff56" stroke-width="0.9" fill="none" stroke-linejoin="round"/><path d="M972.2 298.3L978.8 301.4" stroke="#a1ff5e" stroke-width="0.9" fill="none" stroke-linejoin="round"/><path d="M978.8 301.4L985.4 297.9" stroke="#9cff63" stroke-width="0.9" fill="none" stroke-linejoin="round"/><path d="M985.4 297.9L992.0 304.8" stroke="#8bff74" stroke-width="0.9" fill="none" stroke-linejoin="round"/><path d="M992.0 304.8L998.7 304.8" stroke="#80ff7f" stroke-width="0.9" fill="none" stroke-linejoin="round"/><path d="M760.0 209.7L766.6 215.2" stroke="#ff9c00" stroke-width="0.9" fill="none" stroke-linejoin="round"/><path d="M766.6 215.2L773.3 215.0" stroke="#ff8000" stroke-width="0.9" fill="none" stroke-linejoin="round"/><path d="M773.3 215.0L779.9 220.8" stroke="#ff9800" stroke-width="0.9" fill="none" stroke-linejoin="round"/><path d="M779.9 220.8L786.5 228.5M866.1 263.7L872.7 261.6" stroke="#ffda00" stroke-width="0.9" fill="none" stroke-linejoin="round"/><path d="M786.5 228.5L793.1 230.9" stroke="#ecff13" stroke-width="0.9" fill="none" stroke-linejoin="round"/><path d="M793.1 230.9L799.8 231.6M799.8 231.6L806.4 237.4" stroke="#e6ff19" stroke-width="0.9" fill="none" stroke-linejoin="round"/><path d="M806.4 237.4L813.0 237.4" stroke="#e9ff16" stroke-width="0.9" fill="none" stroke-linejoin="round"/><path d="M813.0 237.4L819.7 244.5" stroke="#fffa00" stroke-width="0.9" fill="none" stroke-linejoin="round"/><path d="M819.7 244.5L826.3 244.9" stroke="#ffe500" stroke-width="0.9" fill="none" stroke-linejoin="round"/><path d="M826.3 244.9L832.9 243.2" stroke="#e0ff1f" stroke-width="0.9" fill="none" stroke-linejoin="round"/><path d="M832.9 243.2L839.6 250.5" stroke="#cdff32" stroke-width="0.9" fill="none" stroke-linejoin="round"/><path d="M839.6 250.5L846.2 252.6" stroke="#faff05" stroke-width="0.9" fill="none" stroke-linejoin="round"/><path d="M846.2 252.6L852.8 256.1" stroke="#ffd700" stroke-width="0.9" fill="none" stroke-linejoin="round"/><path d="M852.8 256.1L859.4 255.9" stroke="#ffcf00" stroke-width="0.9" fill="none" stroke-linejoin="round"/><path d="M859.4 255.9L866.1 263.7" stroke="#ffcc00" stroke-width="0.9" fill="none" stroke-linejoin="round"/><path d="M872.7 261.6L879.3 265.7" stroke="#fdff02" stroke-width="0.9" fill="none" stroke-linejoin="round"/><path d="M879.3 265.7L886.0 268.1" stroke="#d9ff26" stroke-width="0.9" fill="none" stroke-linejoin="round"/><path d="M886.0 268.1L892.6 271.3" stroke="#d2ff2d" stroke-width="0.9" fill="none" stroke-linejoin="round"/><path d="M892.6 271.3L899.2 273.5" stroke="#d1ff2e" stroke-width="0.9" fill="none" stroke-linejoin="round"/><path d="M899.2 273.5L905.9 282.2" stroke="#cfff30" stroke-width="0.9" fill="none" stroke-linejoin="round"/><path d="M905.9 282.2L912.5 284.3" stroke="#baff45" stroke-width="0.9" fill="none" stroke-linejoin="round"/><path d="M912.5 284.3L919.1 280.9" stroke="#bbff44" stroke-width="0.9" fill="none" stroke-linejoin="round"/><path d="M919.1 280.9L925.7 289.3" stroke="#b2ff4d" stroke-width="0.9" fill="none" stroke-linejoin="round"/><path d="M925.7 289.3L932.4 287.4" stroke="#acff53" stroke-width="0.9" fill="none" stroke-linejoin="round"/><path d="M932.4 287.4L939.0 296.0" stroke="#a9ff56" stroke-width="0.9" fill="none" stroke-linejoin="round"/><path d="M939.0 296.0L945.6 296.6M945.6 296.6L952.3 300.9M952.3 300.9L958.9 306.1" stroke="#a8ff57" stroke-width="0.9" fill="none" stroke-linejoin="round"/><path d="M958.9 306.1L965.5 309.3" stroke="#a7ff58" stroke-width="0.9" fill="none" stroke-linejoin="round"/><path d="M965.5 309.3L972.2 311.3" stroke="#9dff62" stroke-width="0.9" fill="none" stroke-linejoin="round"/><path d="M972.2 311.3L978.8 310.4" stroke="#8dff72" stroke-width="0.9" fill="none" stroke-linejoin="round"/><path d="M978.8 310.4L985.4 311.4" stroke="#83ff7c" stroke-width="0.9" fill="none" stroke-linejoin="round"/><path d="M985.4 311.4L992.0 319.3" stroke="#7fff80" stroke-width="0.9" fill="none" stroke-linejoin="round"/><path d="M992.0 319.3L998.7 321.8" stroke="#74ff8b" stroke-width="0.9" fill="none" stroke-linejoin="round"/><path d="M760.0 230.6L766.6 232.4" stroke="#ff1900" stroke-width="0.9" fill="none" stroke-linejoin="round"/><path d="M766.6 232.4L773.3 233.1" stroke="#ff5400" stroke-width="0.9" fill="none" stroke-linejoin="round"/><path d="M773.3 233.1L779.9 233.9" stroke="#ffb800" stroke-width="0.9" fill="none" stroke-linejoin="round"/><path d="M779.9 233.9L786.5 241.7" stroke="#fff700" stroke-width="0.9" fill="none" stroke-linejoin="round"/><path d="M786.5 241.7L793.1 247.6" stroke="#ffb700" stroke-width="0.9" fill="none" stroke-linejoin="round"/><path d="M793.1 247.6L799.8 245.2" stroke="#ff8100" stroke-width="0.9" fill="none" stroke-linejoin="round"/><path d="M799.8 245.2L806.4 252.4" stroke="#ff5700" stroke-width="0.9" fill="none" stroke-linejoin="round"/><path d="M806.4 252.4L813.0 247.2" stroke="#ff5b00" stroke-width="0.9" fill="none" stroke-linejoin="round"/><path d="M813.0 247.2L819.7 255.1" stroke="#ff6d00" stroke-width="0.9" fill="none" stroke-linejoin="round"/><path d="M819.7 255.1L826.3 254.9" stroke="#ff8f00" stroke-width="0.9" fill="none" stroke-linejoin="round"/><path d="M826.3 254.9L832.9 260.8" stroke="#ffbd00" stroke-width="0.9" fill="none" stroke-linejoin="round"/><path d="M832.9 260.8L839.6 264.9M839.6 264.9L846.2 270.3" stroke="#ffc700" stroke-width="0.9" fill="none" stroke-linejoin="round"/><path d="M846.2 270.3L852.8 270.0" stroke="#ffc800" stroke-width="0.9" fill="none" stroke-linejoin="round"/><path d="M852.8 270.0L859.4 276.4" stroke="#ffcf00" stroke-width="0.9" fill="none" stroke-linejoin="round"/><path d="M859.4 276.4L866.1 274.0" stroke="#ffde00" stroke-width="0.9" fill="none" stroke-linejoin="round"/><path d="M866.1 274.0L872.7 275.0" stroke="#fff100" stroke-width="0.9" fill="none" stroke-linejoin="round"/><path d="M872.7 275.0L879.3 281.4" stroke="#edff12" stroke-width="0.9" fill="none" stroke-linejoin="round"/><path d="M879.3 281.4L886.0 286.8" stroke="#cdff32" stroke-width="0.9" fill="none" stroke-linejoin="round"/><path d="M886.0 286.8L892.6 289.7" stroke="#afff50" stroke-width="0.9" fill="none" stroke-linejoin="round"/><path d="M892.6 289.7L899.2 286.0M919.1 299.3L925.7 306.2" stroke="#abff54" stroke-width="0.9" fill="none" stroke-linejoin="round"/><path d="M899.2 286.0L905.9 291.1M905.9 291.1L912.5 294.2" stroke="#a9ff56" stroke-width="0.9" fill="none" stroke-linejoin="round"/><path d="M912.5 294.2L919.1 299.3" stroke="#aaff55" stroke-width="0.9" fill="none" stroke-linejoin="round"/><path d="M925.7 306.2L932.4 303.3M932.4 303.3L939.0 304.0M939.0 304.0L945.6 315.5" stroke="#a8ff57" stroke-width="0.9" fill="none" stroke-linejoin="round"/><path d="M945.6 315.5L952.3 318.2" stroke="#90ff6f" stroke-width="0.9" fill="none" stroke-linejoin="round"/><path d="M952.3 318.2L958.9 320.2" stroke="#7cff83" stroke-width="0.9" fill="none" stroke-linejoin="round"/><path d="M958.9 320.2L965.5 315.9" stroke="#84ff7b" stroke-width="0.9" fill="none" stroke-linejoin="round"/><path d="M965.5 315.9L972.2 321.1" stroke="#80ff7f" stroke-width="0.9" fill="none" stroke-linejoin="round"/><path d="M972.2 321.1L978.8 323.2" stroke="#71ff8e" stroke-width="0.9" fill="none" stroke-linejoin="round"/><path d="M978.8 323.2L985.4 333.6" stroke="#56ffa9" stroke-width="0.9" fill="none" stroke-linejoin="round"/><path d="M985.4 333.6L992.0 328.7M992.0 328.7L998.7 331.7" stroke="#4dffb2" stroke-width="0.9" fill="none" stroke-linejoin="round"/><path d="M760.0 237.9L766.6 248.4" stroke="#ff1f00" stroke-width="0.9" fill="none" stroke-linejoin="round"/><path d="M766.6 248.4L773.3 249.0" stroke="#ff2e00" stroke-width="0.9" fill="none" stroke-linejoin="round"/><path d="M773.3 249.0L779.9 248.1" stroke="#ff5c00" stroke-width="0.9" fill="none" stroke-linejoin="round"/><path d="M779.9 248.1L786.5 256.7" stroke="#ff5800" stroke-width="0.9" fill="none" stroke-linejoin="round"/><path d="M786.5 256.7L793.1 257.9M793.1 257.9L799.8 263.2" stroke="#ff4e00" stroke-width="0.9" fill="none" stroke-linejoin="round"/><path d="M799.8 263.2L806.4 264.0" stroke="#ff5300" stroke-width="0.9" fill="none" stroke-linejoin="round"/><path d="M806.4 264.0L813.0 268.1" stroke="#ff6200" stroke-width="0.9" fill="none" stroke-linejoin="round"/><path d="M813.0 268.1L819.7 271.6" stroke="#ff7700" stroke-width="0.9" fill="none" stroke-linejoin="round"/><path d="M819.7 271.6L826.3 270.3" stroke="#ff9300" stroke-width="0.9" fill="none" stroke-linejoin="round"/><path d="M826.3 270.3L832.9 270.8" stroke="#ffb500" stroke-width="0.9" fill="none" stroke-linejoin="round"/><path d="M832.9 270.8L839.6 281.8" stroke="#ffc700" stroke-width="0.9" fill="none" stroke-linejoin="round"/><path d="M839.6 281.8L846.2 277.0" stroke="#ffd700" stroke-width="0.9" fill="none" stroke-linejoin="round"/><path d="M846.2 277.0L852.8 284.3M852.8 284.3L859.4 291.7" stroke="#ffdb00" stroke-width="0.9" fill="none" stroke-linejoin="round"/><path d="M859.4 291.7L866.1 288.2" stroke="#ffde00" stroke-width="0.9" fill="none" stroke-linejoin="round"/><path d="M866.1 288.2L872.7 290.3" stroke="#ffef00" stroke-width="0.9" fill="none" stroke-linejoin="round"/><path d="M872.7 290.3L879.3 294.5" stroke="#dbff24" stroke-width="0.9" fill="none" stroke-linejoin="round"/><path d="M879.3 294.5L886.0 295.7" stroke="#b3ff4c" stroke-width="0.9" fill="none" stroke-linejoin="round"/><path d="M886.0 295.7L892.6 304.2" stroke="#acff53" stroke-width="0.9" fill="none" stroke-linejoin="round"/><path d="M892.6 304.2L899.2 302.6" stroke="#b0ff4f" stroke-width="0.9" fill="none" stroke-linejoin="round"/><path d="M899.2 302.6L905.9 303.4M912.5 311.6L919.1 311.2" stroke="#afff50" stroke-width="0.9" fill="none" stroke-linejoin="round"/><path d="M905.9 303.4L912.5 311.6" stroke="#b2ff4d" stroke-width="0.9" fill="none" stroke-linejoin="round"/><path d="M919.1 311.2L925.7 313.4" stroke="#a7ff58" stroke-width="0.9" fill="none" stroke-linejoin="round"/><path d="M925.7 313.4L932.4 314.7" stroke="#9eff61" stroke-width="0.9" fill="none" stroke-linejoin="round"/><path d="M932.4 314.7L939.0 325.9" stroke="#7dff82" stroke-width="0.9" fill="none" stroke-linejoin="round"/><path d="M939.0 325.9L945.6 324.3" stroke="#6cff93" stroke-width="0.9" fill="none" stroke-linejoin="round"/><path d="M945.6 324.3L952.3 329.5M952.3 329.5L958.9 331.3" stroke="#6bff94" stroke-width="0.9" fill="none" stroke-linejoin="round"/><path d="M958.9 331.3L965.5 338.2" stroke="#69ff96" stroke-width="0.9" fill="none" stroke-linejoin="round"/><path d="M965.5 338.2L972.2 333.1" stroke="#61ff9e" stroke-width="0.9" fill="none" stroke-linejoin="round"/><path d="M972.2 333.1L978.8 341.8" stroke="#51ffae" stroke-width="0.9" fill="none" stroke-linejoin="round"/><path d="M978.8 341.8L985.4 346.7" stroke="#34ffcb" stroke-width="0.9" fill="none" stroke-linejoin="round"/><path d="M985.4 346.7L992.0 344.2" stroke="#27ffd8" stroke-width="0.9" fill="none" stroke-linejoin="round"/><path d="M992.0 344.2L998.7 348.7" stroke="#18ffe7" stroke-width="0.9" fill="none" stroke-linejoin="round"/><path d="M588.5 230.5V250.2" stroke="#fffa00" stroke-width="1" fill="none"/><path d="M588.5 179.2V213.9M594.5 179.8V208.8M793.5 260.3V299.8" stroke="#ff6100" stroke-width="1" fill="none"/><path d="M588.5 167.7V192.0" stroke="#ff1a00" stroke-width="1" fill="none"/><path d="M594.5 222.8V251.1M859.5 286.9V317.7" stroke="#fff800" stroke-width="1" fill="none"/><path d="M594.5 216.8V252.3" stroke="#ffee00" stroke-width="1" fill="none"/><path d="M601.5 171.6V210.3" stroke="#ff5300" stroke-width="1" fill="none"/><path d="M601.5 186.8V221.2" stroke="#ff7000" stroke-width="1" fill="none"/><path d="M601.5 222.0V257.1M873.5 248.4V281.0" stroke="#ffef00" stroke-width="1" fill="none"/><path d="M607.5 183.8V203.5" stroke="#ff3200" stroke-width="1" fill="none"/><path d="M607.5 172.9V206.3" stroke="#ff2500" stroke-width="1" fill="none"/><path d="M607.5 223.7V239.9M793.5 122.6V133.5" stroke="#ffa700" stroke-width="1" fill="none"/><path d="M614.5 170.5V183.0" stroke="#ff1d00" stroke-width="1" fill="none"/><path d="M614.5 171.7V198.5" stroke="#ff1b00" stroke-width="1" fill="none"/><path d="M614.5 205.2V236.4" stroke="#ff8000" stroke-width="1" fill="none"/><path d="M621.5 151.8V186.9M627.5 152.0V185.5" stroke="#ff0900" stroke-width="1" fill="none"/><path d="M621.5 288.2V300.9" stroke="#69ff96" stroke-width="1" fill="none"/><path d="M621.5 252.2V287.7" stroke="#f9ff06" stroke-width="1" fill="none"/><path d="M627.5 154.5V178.3" stroke="#ff0600" stroke-width="1" fill="none"/><path d="M627.5 223.9V237.1" stroke="#ff9a00" stroke-width="1" fill="none"/><path d="M634.5 220.0V253.3" stroke="#ff9b00" stroke-width="1" fill="none"/><path d="M634.5 238.7V252.3" stroke="#ffaa00" stroke-width="1" fill="none"/><path d="M634.5 305.4V317.1M641.5 301.9V339.7" stroke="#52ffad" stroke-width="1" fill="none"/><path d="M641.5 285.6V324.0" stroke="#8cff73" stroke-width="1" fill="none"/><path d="M641.5 246.6V263.2" stroke="#ff8e00" stroke-width="1" fill="none"/><path d="M647.5 251.8V284.0M700.5 294.0V312.0M853.5 247.7V278.1" stroke="#ffc700" stroke-width="1" fill="none"/><path d="M647.5 309.2V330.7" stroke="#61ff9e" stroke-width="1" fill="none"/><path d="M647.5 343.8V354.9" stroke="#00efff" stroke-width="1" fill="none"/><path d="M654.5 268.1V279.2" stroke="#ffc800" stroke-width="1" fill="none"/><path d="M654.5 239.4V279.1M806.5 284.8V314.8" stroke="#ff9f00" stroke-width="1" fill="none"/><path d="M654.5 189.4V229.0" stroke="#ff2e00" stroke-width="1" fill="none"/><path d="M660.5 368.2V398.9" stroke="#00b2ff" stroke-width="1" fill="none"/><path d="M660.5 177.5V201.7" stroke="#ff1f00" stroke-width="1" fill="none"/><path d="M660.5 320.3V333.2" stroke="#33ffcc" stroke-width="1" fill="none"/><path d="M667.5 238.5V251.3" stroke="#ff7c00" stroke-width="1" fill="none"/><path d="M667.5 367.4V404.8" stroke="#00c8ff" stroke-width="1" fill="none"/><path d="M667.5 386.3V414.4" stroke="#00c9ff" stroke-width="1" fill="none"/><path d="M674.5 313.0V324.8" stroke="#b7ff48" stroke-width="1" fill="none"/><path d="M674.5 290.0V322.8" stroke="#e3ff1c" stroke-width="1" fill="none"/><path d="M674.5 357.0V367.8" stroke="#00fdff" stroke-width="1" fill="none"/><path d="M680.5 155.8V168.5" stroke="#ff6d00" stroke-width="1" fill="none"/><path d="M680.5 402.7V416.1M760.5 401.8V429.5" stroke="#00b4ff" stroke-width="1" fill="none"/><path d="M680.5 258.8V283.1" stroke="#ff9000" stroke-width="1" fill="none"/><path d="M687.5 394.0V408.1" stroke="#00beff" stroke-width="1" fill="none"/><path d="M687.5 234.3V267.4" stroke="#ff3d00" stroke-width="1" fill="none"/><path d="M687.5 189.2V204.1" stroke="#ff0400" stroke-width="1" fill="none"/><path d="M694.5 174.9V213.7" stroke="#fc0000" stroke-width="1" fill="none"/><path d="M694.5 227.9V252.9" stroke="#ff2f00" stroke-width="1" fill="none"/><path d="M694.5 264.9V304.4" stroke="#ff8b00" stroke-width="1" fill="none"/><path d="M700.5 352.2V380.3" stroke="#1bffe4" stroke-width="1" fill="none"/><path d="M700.5 385.5V398.6M793.5 413.8V426.1" stroke="#00bdff" stroke-width="1" fill="none"/><path d="M707.5 334.3V353.2" stroke="#afff50" stroke-width="1" fill="none"/><path d="M707.5 242.8V266.4" stroke="#ff4f00" stroke-width="1" fill="none"/><path d="M707.5 219.8V247.5" stroke="#ff2a00" stroke-width="1" fill="none"/><path d="M713.5 192.8V203.4" stroke="#ff0c00" stroke-width="1" fill="none"/><path d="M713.5 211.0V223.7" stroke="#ff1400" stroke-width="1" fill="none"/><path d="M713.5 400.9V426.2" stroke="#00acff" stroke-width="1" fill="none"/><path d="M720.5 344.8V378.2M972.5 319.3V347.3" stroke="#5fffa0" stroke-width="1" fill="none"/><path d="M720.5 223.5V262.1" stroke="#ff3100" stroke-width="1" fill="none"/><path d="M720.5 275.2V299.1" stroke="#ff8a00" stroke-width="1" fill="none"/><path d="M727.5 294.1V325.0" stroke="#ffb800" stroke-width="1" fill="none"/><path d="M727.5 357.8V373.7" stroke="#5effa1" stroke-width="1" fill="none"/><path d="M727.5 371.5V394.3" stroke="#08fff7" stroke-width="1" fill="none"/><path d="M733.5 248.9V284.9" stroke="#ff3500" stroke-width="1" fill="none"/><path d="M733.5 385.3V421.0" stroke="#00c0ff" stroke-width="1" fill="none"/><path d="M733.5 264.9V302.3" stroke="#ff4900" stroke-width="1" fill="none"/><path d="M740.5 371.6V410.7M959.5 370.7V388.6" stroke="#00dcff" stroke-width="1" fill="none"/><path d="M740.5 366.6V406.6" stroke="#00e0ff" stroke-width="1" fill="none"/><path d="M740.5 301.2V333.7" stroke="#ffa400" stroke-width="1" fill="none"/><path d="M747.5 363.7V389.5M999.5 331.4V349.1" stroke="#4bffb4" stroke-width="1" fill="none"/><path d="M747.5 296.3V318.3" stroke="#ff7900" stroke-width="1" fill="none"/><path d="M747.5 385.0V406.4" stroke="#00dbff" stroke-width="1" fill="none"/><path d="M753.5 347.4V374.2" stroke="#b4ff4b" stroke-width="1" fill="none"/><path d="M753.5 336.9V356.2" stroke="#f6ff09" stroke-width="1" fill="none"/><path d="M753.5 171.6V201.8" stroke="#ffb500" stroke-width="1" fill="none"/><path d="M760.5 197.6V218.4" stroke="#fffd00" stroke-width="1" fill="none"/><path d="M760.5 367.3V378.8M1005.5 313.0V351.2" stroke="#4dffb2" stroke-width="1" fill="none"/><path d="M767.5 305.4V335.7" stroke="#ffa900" stroke-width="1" fill="none"/><path d="M767.5 170.0V180.7" stroke="#ffd500" stroke-width="1" fill="none"/><path d="M767.5 348.2V375.8" stroke="#9aff65" stroke-width="1" fill="none"/><path d="M773.5 353.7V388.4" stroke="#6aff95" stroke-width="1" fill="none"/><path d="M773.5 243.7V258.6" stroke="#ff4200" stroke-width="1" fill="none"/><path d="M773.5 452.0V463.8" stroke="#009eff" stroke-width="1" fill="none"/><path d="M780.5 325.0V353.7" stroke="#ffec00" stroke-width="1" fill="none"/><path d="M780.5 460.3V472.9" stroke="#008dff" stroke-width="1" fill="none"/><path d="M780.5 382.5V394.8" stroke="#19ffe6" stroke-width="1" fill="none"/><path d="M786.5 285.4V314.0" stroke="#ff9900" stroke-width="1" fill="none"/><path d="M786.5 425.5V436.9" stroke="#00b8ff" stroke-width="1" fill="none"/><path d="M786.5 389.9V404.4" stroke="#06fff9" stroke-width="1" fill="none"/><path d="M800.5 377.7V388.8" stroke="#67ff98" stroke-width="1" fill="none"/><path d="M800.5 379.0V413.2" stroke="#05fffa" stroke-width="1" fill="none"/><path d="M800.5 389.7V427.8" stroke="#00d6ff" stroke-width="1" fill="none"/><path d="M806.5 310.5V345.2" stroke="#ffdb00" stroke-width="1" fill="none"/><path d="M806.5 150.1V176.6" stroke="#e6ff19" stroke-width="1" fill="none"/><path d="M813.5 435.1V448.4" stroke="#00a9ff" stroke-width="1" fill="none"/><path d="M813.5 340.7V356.1" stroke="#e8ff17" stroke-width="1" fill="none"/><path d="M813.5 260.8V287.1" stroke="#ff6800" stroke-width="1" fill="none"/><path d="M820.5 335.4V355.1" stroke="#e9ff16" stroke-width="1" fill="none"/><path d="M820.5 245.0V260.7" stroke="#ff7d00" stroke-width="1" fill="none"/><path d="M820.5 277.7V315.9M859.5 123.2V142.1" stroke="#ffb400" stroke-width="1" fill="none"/><path d="M826.5 200.6V230.3" stroke="#c0ff3f" stroke-width="1" fill="none"/><path d="M826.5 250.7V266.6" stroke="#ffac00" stroke-width="1" fill="none"/><path d="M826.5 291.9V308.3" stroke="#ffcf00" stroke-width="1" fill="none"/><path d="M833.5 275.3V315.2" stroke="#ffd900" stroke-width="1" fill="none"/><path d="M833.5 189.0V219.0M959.5 251.0V284.8" stroke="#bdff42" stroke-width="1" fill="none"/><path d="M833.5 198.2V227.6" stroke="#b6ff49" stroke-width="1" fill="none"/><path d="M839.5 161.8V186.8" stroke="#c7ff38" stroke-width="1" fill="none"/><path d="M839.5 319.0V335.4" stroke="#e0ff1f" stroke-width="1" fill="none"/><path d="M839.5 205.0V221.8M846.5 234.3V253.3" stroke="#b3ff4c" stroke-width="1" fill="none"/><path d="M846.5 154.5V184.6" stroke="#c8ff37" stroke-width="1" fill="none"/><path d="M846.5 340.3V366.1" stroke="#97ff68" stroke-width="1" fill="none"/><path d="M853.5 183.0V221.3" stroke="#baff45" stroke-width="1" fill="none"/><path d="M853.5 193.7V208.9M859.5 233.6V259.3" stroke="#bcff43" stroke-width="1" fill="none"/><path d="M866.5 358.6V392.6" stroke="#46ffb9" stroke-width="1" fill="none"/><path d="M866.5 308.9V343.1" stroke="#d0ff2f" stroke-width="1" fill="none"/><path d="M866.5 270.9V295.1" stroke="#ffe800" stroke-width="1" fill="none"/><path d="M873.5 379.0V411.8" stroke="#00faff" stroke-width="1" fill="none"/><path d="M873.5 236.7V272.7" stroke="#fcff03" stroke-width="1" fill="none"/><path d="M879.5 144.2V172.0" stroke="#ffd100" stroke-width="1" fill="none"/><path d="M879.5 380.6V403.7" stroke="#00f4ff" stroke-width="1" fill="none"/><path d="M879.5 361.1V391.5" stroke="#24ffdb" stroke-width="1" fill="none"/><path d="M886.5 139.5V151.8" stroke="#ff3700" stroke-width="1" fill="none"/><path d="M886.5 220.9V260.0M899.5 241.3V254.1" stroke="#beff41" stroke-width="1" fill="none"/><path d="M886.5 306.4V334.4" stroke="#9dff62" stroke-width="1" fill="none"/><path d="M892.5 365.5V386.0M906.5 362.5V377.7" stroke="#1affe5" stroke-width="1" fill="none"/><path d="M892.5 182.4V205.7M999.5 263.5V284.5" stroke="#d2ff2d" stroke-width="1" fill="none"/><path d="M892.5 377.9V392.8" stroke="#0cfff3" stroke-width="1" fill="none"/><path d="M899.5 277.3V296.1" stroke="#acff53" stroke-width="1" fill="none"/><path d="M899.5 387.4V405.1" stroke="#00d1ff" stroke-width="1" fill="none"/><path d="M906.5 267.9V278.6M992.5 277.5V293.1" stroke="#d1ff2e" stroke-width="1" fill="none"/><path d="M906.5 310.1V335.4" stroke="#86ff79" stroke-width="1" fill="none"/><path d="M912.5 266.4V282.4" stroke="#cfff30" stroke-width="1" fill="none"/><path d="M912.5 314.7V325.8" stroke="#96ff69" stroke-width="1" fill="none"/><path d="M912.5 383.9V408.4" stroke="#00d3ff" stroke-width="1" fill="none"/><path d="M919.5 298.1V320.9M926.5 275.7V303.2" stroke="#adff52" stroke-width="1" fill="none"/><path d="M919.5 171.6V182.5" stroke="#ffa000" stroke-width="1" fill="none"/><path d="M919.5 322.8V347.4" stroke="#76ff89" stroke-width="1" fill="none"/><path d="M926.5 224.2V250.3" stroke="#cbff34" stroke-width="1" fill="none"/><path d="M926.5 351.2V376.5M972.5 346.8V361.3" stroke="#27ffd8" stroke-width="1" fill="none"/><path d="M932.5 352.1V363.0" stroke="#2fffd0" stroke-width="1" fill="none"/><path d="M932.5 307.6V334.9" stroke="#7dff82" stroke-width="1" fill="none"/><path d="M932.5 318.8V333.8" stroke="#71ff8e" stroke-width="1" fill="none"/><path d="M939.5 345.1V378.9" stroke="#2bffd4" stroke-width="1" fill="none"/><path d="M939.5 229.4V267.8" stroke="#c4ff3b" stroke-width="1" fill="none"/><path d="M939.5 182.2V208.6" stroke="#ffc100" stroke-width="1" fill="none"/><path d="M946.5 202.3V217.9" stroke="#ffdd00" stroke-width="1" fill="none"/><path d="M946.5 309.9V341.0" stroke="#6bff94" stroke-width="1" fill="none"/><path d="M946.5 278.8V296.2M952.5 292.2V315.6M952.5 276.7V297.8" stroke="#a8ff57" stroke-width="1" fill="none"/><path d="M952.5 262.0V284.3" stroke="#b2ff4d" stroke-width="1" fill="none"/><path d="M959.5 222.3V247.2" stroke="#d3ff2c" stroke-width="1" fill="none"/><path d="M965.5 266.6V290.9" stroke="#aeff51" stroke-width="1" fill="none"/><path d="M965.5 327.4V344.3" stroke="#64ff9b" stroke-width="1" fill="none"/><path d="M965.5 336.4V347.7M999.5 332.4V343.9" stroke="#4cffb3" stroke-width="1" fill="none"/><path d="M972.5 330.0V352.7" stroke="#49ffb6" stroke-width="1" fill="none"/><path d="M979.5 226.2V242.4" stroke="#ffab00" stroke-width="1" fill="none"/><path d="M979.5 320.8V360.4" stroke="#45ffba" stroke-width="1" fill="none"/><path d="M979.5 246.0V270.6" stroke="#f0ff0f" stroke-width="1" fill="none"/><path d="M985.5 322.9V342.1" stroke="#4effb1" stroke-width="1" fill="none"/><path d="M985.5 249.8V282.7" stroke="#e5ff1a" stroke-width="1" fill="none"/><path d="M985.5 233.9V253.9" stroke="#ffe900" stroke-width="1" fill="none"/><path d="M992.5 299.2V324.1" stroke="#80ff7f" stroke-width="1" fill="none"/><path d="M992.5 340.5V356.5" stroke="#0dfff2" stroke-width="1" fill="none"/><path d="M1005.5 320.5V333.2" stroke="#50ffaf" stroke-width="1" fill="none"/><path d="M1005.5 336.2V349.1" stroke="#42ffbd" stroke-width="1" fill="none"/><path d="M805.0 181.6L811.6 180.8" stroke="#e5ff1a" stroke-width="0.9" fill="none" stroke-linejoin="round"/><path d="M811.6 180.8L818.3 178.7" stroke="#e4ff1b" stroke-width="0.9" fill="none" stroke-linejoin="round"/><path d="M818.3 178.7L824.9 187.5" stroke="#dbff24" stroke-width="0.9" fill="none" stroke-linejoin="round"/><path d="M824.9 187.5L831.5 198.4M877.9 212.4L884.6 213.3M884.6 213.3L891.2 229.0" stroke="#cbff34" stroke-width="0.9" fill="none" stroke-linejoin="round"/><path d="M831.5 198.4L838.1 195.4M970.7 267.7L977.4 268.2" stroke="#c8ff37" stroke-width="0.9" fill="none" stroke-linejoin="round"/><path d="M838.1 195.4L844.8 201.2M871.3 207.4L877.9 212.4M917.7 239.4L924.3 236.4" stroke="#c4ff3b" stroke-width="0.9" fill="none" stroke-linejoin="round"/><path d="M844.8 201.2L851.4 197.8M957.5 253.9L964.1 252.6" stroke="#c0ff3f" stroke-width="0.9" fill="none" stroke-linejoin="round"/><path d="M851.4 197.8L858.0 205.4M864.7 207.7L871.3 207.4" stroke="#bcff43" stroke-width="0.9" fill="none" stroke-linejoin="round"/><path d="M858.0 205.4L864.7 207.7" stroke="#b7ff48" stroke-width="0.9" fill="none" stroke-linejoin="round"/><path d="M891.2 229.0L897.8 226.5M897.8 226.5L904.4 230.0" stroke="#c1ff3e" stroke-width="0.9" fill="none" stroke-linejoin="round"/><path d="M904.4 230.0L911.1 237.4M911.1 237.4L917.7 239.4" stroke="#beff41" stroke-width="0.9" fill="none" stroke-linejoin="round"/><path d="M924.3 236.4L931.0 249.2" stroke="#c9ff36" stroke-width="0.9" fill="none" stroke-linejoin="round"/><path d="M931.0 249.2L937.6 247.2" stroke="#c6ff39" stroke-width="0.9" fill="none" stroke-linejoin="round"/><path d="M937.6 247.2L944.2 256.9M950.9 249.3L957.5 253.9" stroke="#bfff40" stroke-width="0.9" fill="none" stroke-linejoin="round"/><path d="M944.2 256.9L950.9 249.3" stroke="#bdff42" stroke-width="0.9" fill="none" stroke-linejoin="round"/><path d="M964.1 252.6L970.7 267.7" stroke="#c2ff3d" stroke-width="0.9" fill="none" stroke-linejoin="round"/><path d="M977.4 268.2L984.0 274.5" stroke="#cdff32" stroke-width="0.9" fill="none" stroke-linejoin="round"/><path d="M984.0 274.5L990.6 270.8" stroke="#d2ff2d" stroke-width="0.9" fill="none" stroke-linejoin="round"/><path d="M990.6 270.8L997.3 282.8" stroke="#d1ff2e" stroke-width="0.9" fill="none" stroke-linejoin="round"/><path d="M805.0 189.4L811.6 199.1" stroke="#b5ff4a" stroke-width="0.9" fill="none" stroke-linejoin="round"/><path d="M811.6 199.1L818.3 197.5" stroke="#b6ff49" stroke-width="0.9" fill="none" stroke-linejoin="round"/><path d="M818.3 197.5L824.9 200.3" stroke="#bcff43" stroke-width="0.9" fill="none" stroke-linejoin="round"/><path d="M824.9 200.3L831.5 200.0M877.9 226.6L884.6 231.6M911.1 246.2L917.7 253.1" stroke="#c2ff3d" stroke-width="0.9" fill="none" stroke-linejoin="round"/><path d="M831.5 200.0L838.1 210.3" stroke="#bbff44" stroke-width="0.9" fill="none" stroke-linejoin="round"/><path d="M838.1 210.3L844.8 207.0M858.0 213.4L864.7 228.2M964.1 269.9L970.7 281.2" stroke="#b4ff4b" stroke-width="0.9" fill="none" stroke-linejoin="round"/><path d="M844.8 207.0L851.4 221.7M851.4 221.7L858.0 213.4" stroke="#b3ff4c" stroke-width="0.9" fill="none" stroke-linejoin="round"/><path d="M864.7 228.2L871.3 217.7M957.5 271.1L964.1 269.9M970.7 281.2L977.4 281.5" stroke="#baff45" stroke-width="0.9" fill="none" stroke-linejoin="round"/><path d="M871.3 217.7L877.9 226.6" stroke="#bfff40" stroke-width="0.9" fill="none" stroke-linejoin="round"/><path d="M884.6 231.6L891.2 241.3M931.0 259.1L937.6 262.3" stroke="#beff41" stroke-width="0.9" fill="none" stroke-linejoin="round"/><path d="M891.2 241.3L897.8 242.9M897.8 242.9L904.4 237.7M904.4 237.7L911.1 246.2M937.6 262.3L944.2 268.0M944.2 268.0L950.9 259.4M950.9 259.4L957.5 271.1" stroke="#bdff42" stroke-width="0.9" fill="none" stroke-linejoin="round"/><path d="M917.7 253.1L924.3 245.5" stroke="#c5ff3a" stroke-width="0.9" fill="none" stroke-linejoin="round"/><path d="M924.3 245.5L931.0 259.1" stroke="#c4ff3b" stroke-width="0.9" fill="none" stroke-linejoin="round"/><path d="M977.4 281.5L984.0 272.8" stroke="#c9ff36" stroke-width="0.9" fill="none" stroke-linejoin="round"/><path d="M984.0 272.8L990.6 290.9" stroke="#d0ff2f" stroke-width="0.9" fill="none" stroke-linejoin="round"/><path d="M990.6 290.9L997.3 292.3" stroke="#ceff31" stroke-width="0.9" fill="none" stroke-linejoin="round"/><path d="M805.0 209.4L811.6 205.9M851.4 225.3L858.0 232.9M931.0 270.8L937.6 275.5" stroke="#b7ff48" stroke-width="0.9" fill="none" stroke-linejoin="round"/><path d="M811.6 205.9L818.3 209.5" stroke="#bbff44" stroke-width="0.9" fill="none" stroke-linejoin="round"/><path d="M818.3 209.5L824.9 211.5M924.3 262.5L931.0 270.8M977.4 286.2L984.0 294.0" stroke="#c3ff3c" stroke-width="0.9" fill="none" stroke-linejoin="round"/><path d="M824.9 211.5L831.5 210.3M884.6 244.3L891.2 237.6M891.2 237.6L897.8 243.9M897.8 243.9L904.4 245.8" stroke="#bdff42" stroke-width="0.9" fill="none" stroke-linejoin="round"/><path d="M831.5 210.3L838.1 211.2M970.7 290.1L977.4 286.2" stroke="#b6ff49" stroke-width="0.9" fill="none" stroke-linejoin="round"/><path d="M838.1 211.2L844.8 220.3" stroke="#b3ff4c" stroke-width="0.9" fill="none" stroke-linejoin="round"/><path d="M844.8 220.3L851.4 225.3" stroke="#b4ff4b" stroke-width="0.9" fill="none" stroke-linejoin="round"/><path d="M858.0 232.9L864.7 229.3" stroke="#b8ff47" stroke-width="0.9" fill="none" stroke-linejoin="round"/><path d="M864.7 229.3L871.3 242.7" stroke="#b9ff46" stroke-width="0.9" fill="none" stroke-linejoin="round"/><path d="M871.3 242.7L877.9 232.3M877.9 232.3L884.6 244.3M990.6 298.5L997.3 291.5" stroke="#c0ff3f" stroke-width="0.9" fill="none" stroke-linejoin="round"/><path d="M904.4 245.8L911.1 262.7" stroke="#c8ff37" stroke-width="0.9" fill="none" stroke-linejoin="round"/><path d="M911.1 262.7L917.7 261.2" stroke="#cfff30" stroke-width="0.9" fill="none" stroke-linejoin="round"/><path d="M917.7 261.2L924.3 262.5" stroke="#caff35" stroke-width="0.9" fill="none" stroke-linejoin="round"/><path d="M937.6 275.5L944.2 269.7" stroke="#b5ff4a" stroke-width="0.9" fill="none" stroke-linejoin="round"/><path d="M944.2 269.7L950.9 280.7" stroke="#adff52" stroke-width="0.9" fill="none" stroke-linejoin="round"/><path d="M950.9 280.7L957.5 274.9" stroke="#a9ff56" stroke-width="0.9" fill="none" stroke-linejoin="round"/><path d="M957.5 274.9L964.1 284.8" stroke="#aaff55" stroke-width="0.9" fill="none" stroke-linejoin="round"/><path d="M964.1 284.8L970.7 290.1" stroke="#abff54" stroke-width="0.9" fill="none" stroke-linejoin="round"/><path d="M984.0 294.0L990.6 298.5" stroke="#b2ff4d" stroke-width="0.9" fill="none" stroke-linejoin="round"/><path d="M805.0 205.5L811.6 223.8" stroke="#cfff30" stroke-width="0.9" fill="none" stroke-linejoin="round"/><path d="M811.6 223.8L818.3 214.7" stroke="#deff21" stroke-width="0.9" fill="none" stroke-linejoin="round"/><path d="M818.3 214.7L824.9 230.9" stroke="#daff25" stroke-width="0.9" fill="none" stroke-linejoin="round"/><path d="M824.9 230.9L831.5 233.4M884.6 253.5L891.2 259.1" stroke="#d5ff2a" stroke-width="0.9" fill="none" stroke-linejoin="round"/><path d="M831.5 233.4L838.1 225.7" stroke="#c3ff3c" stroke-width="0.9" fill="none" stroke-linejoin="round"/><path d="M838.1 225.7L844.8 233.2" stroke="#baff45" stroke-width="0.9" fill="none" stroke-linejoin="round"/><path d="M844.8 233.2L851.4 234.6M851.4 234.6L858.0 238.1M924.3 279.5L931.0 281.1" stroke="#b3ff4c" stroke-width="0.9" fill="none" stroke-linejoin="round"/><path d="M858.0 238.1L864.7 247.5" stroke="#b5ff4a" stroke-width="0.9" fill="none" stroke-linejoin="round"/><path d="M864.7 247.5L871.3 251.4" stroke="#dcff23" stroke-width="0.9" fill="none" stroke-linejoin="round"/><path d="M871.3 251.4L877.9 245.6" stroke="#d4ff2b" stroke-width="0.9" fill="none" stroke-linejoin="round"/><path d="M877.9 245.6L884.6 253.5" stroke="#ceff31" stroke-width="0.9" fill="none" stroke-linejoin="round"/><path d="M891.2 259.1L897.8 260.9" stroke="#d2ff2d" stroke-width="0.9" fill="none" stroke-linejoin="round"/><path d="M897.8 260.9L904.4 256.7M904.4 256.7L911.1 264.3M911.1 264.3L917.7 269.2" stroke="#d0ff2f" stroke-width="0.9" fill="none" stroke-linejoin="round"/><path d="M917.7 269.2L924.3 279.5" stroke="#c8ff37" stroke-width="0.9" fill="none" stroke-linejoin="round"/><path d="M931.0 281.1L937.6 282.1M964.1 290.0L970.7 290.4M970.7 290.4L977.4 300.6" stroke="#abff54" stroke-width="0.9" fill="none" stroke-linejoin="round"/><path d="M937.6 282.1L944.2 279.1M957.5 284.9L964.1 290.0" stroke="#a9ff56" stroke-width="0.9" fill="none" stroke-linejoin="round"/><path d="M944.2 279.1L950.9 292.9M950.9 292.9L957.5 284.9" stroke="#a8ff57" stroke-width="0.9" fill="none" stroke-linejoin="round"/><path d="M977.4 300.6L984.0 307.2" stroke="#8eff71" stroke-width="0.9" fill="none" stroke-linejoin="round"/><path d="M984.0 307.2L990.6 309.0" stroke="#81ff7e" stroke-width="0.9" fill="none" stroke-linejoin="round"/><path d="M990.6 309.0L997.3 314.4" stroke="#80ff7f" stroke-width="0.9" fill="none" stroke-linejoin="round"/><path d="M997.3 314.4L1003.9 315.7" stroke="#7fff80" stroke-width="0.9" fill="none" stroke-linejoin="round"/><path d="M805.0 218.1L811.6 226.1" stroke="#eaff15" stroke-width="0.9" fill="none" stroke-linejoin="round"/><path d="M811.6 226.1L818.3 236.3" stroke="#e9ff16" stroke-width="0.9" fill="none" stroke-linejoin="round"/><path d="M818.3 236.3L824.9 233.2" stroke="#ebff14" stroke-width="0.9" fill="none" stroke-linejoin="round"/><path d="M824.9 233.2L831.5 233.0" stroke="#d5ff2a" stroke-width="0.9" fill="none" stroke-linejoin="round"/><path d="M831.5 233.0L838.1 243.3" stroke="#bbff44" stroke-width="0.9" fill="none" stroke-linejoin="round"/><path d="M838.1 243.3L844.8 240.8" stroke="#b4ff4b" stroke-width="0.9" fill="none" stroke-linejoin="round"/><path d="M844.8 240.8L851.4 248.6" stroke="#b3ff4c" stroke-width="0.9" fill="none" stroke-linejoin="round"/><path d="M851.4 248.6L858.0 246.2" stroke="#bcff43" stroke-width="0.9" fill="none" stroke-linejoin="round"/><path d="M858.0 246.2L864.7 257.9" stroke="#fdff02" stroke-width="0.9" fill="none" stroke-linejoin="round"/><path d="M864.7 257.9L871.3 250.0" stroke="#fff700" stroke-width="0.9" fill="none" stroke-linejoin="round"/><path d="M871.3 250.0L877.9 257.1" stroke="#f0ff0f" stroke-width="0.9" fill="none" stroke-linejoin="round"/><path d="M877.9 257.1L884.6 270.7" stroke="#e2ff1d" stroke-width="0.9" fill="none" stroke-linejoin="round"/><path d="M884.6 270.7L891.2 260.5" stroke="#d3ff2c" stroke-width="0.9" fill="none" stroke-linejoin="round"/><path d="M891.2 260.5L897.8 268.7M897.8 268.7L904.4 268.7M904.4 268.7L911.1 275.1" stroke="#d1ff2e" stroke-width="0.9" fill="none" stroke-linejoin="round"/><path d="M911.1 275.1L917.7 281.4" stroke="#c9ff36" stroke-width="0.9" fill="none" stroke-linejoin="round"/><path d="M917.7 281.4L924.3 290.9" stroke="#b1ff4e" stroke-width="0.9" fill="none" stroke-linejoin="round"/><path d="M924.3 290.9L931.0 294.1" stroke="#abff54" stroke-width="0.9" fill="none" stroke-linejoin="round"/><path d="M931.0 294.1L937.6 287.2" stroke="#aaff55" stroke-width="0.9" fill="none" stroke-linejoin="round"/><path d="M937.6 287.2L944.2 297.9" stroke="#a9ff56" stroke-width="0.9" fill="none" stroke-linejoin="round"/><path d="M944.2 297.9L950.9 296.3M950.9 296.3L957.5 293.9M957.5 293.9L964.1 299.9" stroke="#a8ff57" stroke-width="0.9" fill="none" stroke-linejoin="round"/><path d="M964.1 299.9L970.7 304.0" stroke="#a6ff59" stroke-width="0.9" fill="none" stroke-linejoin="round"/><path d="M970.7 304.0L977.4 308.5" stroke="#98ff67" stroke-width="0.9" fill="none" stroke-linejoin="round"/><path d="M977.4 308.5L984.0 321.5" stroke="#81ff7e" stroke-width="0.9" fill="none" stroke-linejoin="round"/><path d="M984.0 321.5L990.6 321.6" stroke="#6eff91" stroke-width="0.9" fill="none" stroke-linejoin="round"/><path d="M990.6 321.6L997.3 313.7" stroke="#7dff82" stroke-width="0.9" fill="none" stroke-linejoin="round"/><path d="M997.3 313.7L1003.9 324.7" stroke="#7aff85" stroke-width="0.9" fill="none" stroke-linejoin="round"/><path d="M805.0 229.9L811.6 239.4" stroke="#e6ff19" stroke-width="0.9" fill="none" stroke-linejoin="round"/><path d="M811.6 239.4L818.3 243.7" stroke="#fff600" stroke-width="0.9" fill="none" stroke-linejoin="round"/><path d="M818.3 243.7L824.9 241.5" stroke="#fff200" stroke-width="0.9" fill="none" stroke-linejoin="round"/><path d="M824.9 241.5L831.5 243.0" stroke="#e1ff1e" stroke-width="0.9" fill="none" stroke-linejoin="round"/><path d="M831.5 243.0L838.1 256.0" stroke="#efff10" stroke-width="0.9" fill="none" stroke-linejoin="round"/><path d="M838.1 256.0L844.8 256.8" stroke="#ffcd00" stroke-width="0.9" fill="none" stroke-linejoin="round"/><path d="M844.8 256.8L851.4 253.2" stroke="#ffd200" stroke-width="0.9" fill="none" stroke-linejoin="round"/><path d="M851.4 253.2L858.0 262.6M858.0 262.6L864.7 267.9" stroke="#ffc900" stroke-width="0.9" fill="none" stroke-linejoin="round"/><path d="M864.7 267.9L871.3 271.4" stroke="#ffde00" stroke-width="0.9" fill="none" stroke-linejoin="round"/><path d="M871.3 271.4L877.9 276.6" stroke="#f4ff0b" stroke-width="0.9" fill="none" stroke-linejoin="round"/><path d="M877.9 276.6L884.6 282.0" stroke="#daff25" stroke-width="0.9" fill="none" stroke-linejoin="round"/><path d="M884.6 282.0L891.2 281.0" stroke="#caff35" stroke-width="0.9" fill="none" stroke-linejoin="round"/><path d="M891.2 281.0L897.8 289.0" stroke="#b3ff4c" stroke-width="0.9" fill="none" stroke-linejoin="round"/><path d="M897.8 289.0L904.4 284.6M924.3 290.9L931.0 292.3" stroke="#acff53" stroke-width="0.9" fill="none" stroke-linejoin="round"/><path d="M904.4 284.6L911.1 284.2" stroke="#b4ff4b" stroke-width="0.9" fill="none" stroke-linejoin="round"/><path d="M911.1 284.2L917.7 298.1M917.7 298.1L924.3 290.9" stroke="#abff54" stroke-width="0.9" fill="none" stroke-linejoin="round"/><path d="M931.0 292.3L937.6 295.4" stroke="#aaff55" stroke-width="0.9" fill="none" stroke-linejoin="round"/><path d="M937.6 295.4L944.2 305.2M944.2 305.2L950.9 314.5" stroke="#a8ff57" stroke-width="0.9" fill="none" stroke-linejoin="round"/><path d="M950.9 314.5L957.5 308.9" stroke="#a7ff58" stroke-width="0.9" fill="none" stroke-linejoin="round"/><path d="M957.5 308.9L964.1 321.8" stroke="#96ff69" stroke-width="0.9" fill="none" stroke-linejoin="round"/><path d="M964.1 321.8L970.7 324.0" stroke="#71ff8e" stroke-width="0.9" fill="none" stroke-linejoin="round"/><path d="M970.7 324.0L977.4 317.2" stroke="#76ff89" stroke-width="0.9" fill="none" stroke-linejoin="round"/><path d="M977.4 317.2L984.0 324.5" stroke="#72ff8d" stroke-width="0.9" fill="none" stroke-linejoin="round"/><path d="M984.0 324.5L990.6 329.3" stroke="#54ffab" stroke-width="0.9" fill="none" stroke-linejoin="round"/><path d="M990.6 329.3L997.3 333.6" stroke="#4dffb2" stroke-width="0.9" fill="none" stroke-linejoin="round"/><path d="M997.3 333.6L1003.9 337.4" stroke="#4cffb3" stroke-width="0.9" fill="none" stroke-linejoin="round"/><path d="M805.0 244.9L811.6 249.7" stroke="#ff7700" stroke-width="0.9" fill="none" stroke-linejoin="round"/><path d="M811.6 249.7L818.3 247.7" stroke="#ff7c00" stroke-width="0.9" fill="none" stroke-linejoin="round"/><path d="M818.3 247.7L824.9 260.2" stroke="#ff8600" stroke-width="0.9" fill="none" stroke-linejoin="round"/><path d="M824.9 260.2L831.5 254.6" stroke="#ffb600" stroke-width="0.9" fill="none" stroke-linejoin="round"/><path d="M831.5 254.6L838.1 266.2M838.1 266.2L844.8 264.0M844.8 264.0L851.4 272.0" stroke="#ffc700" stroke-width="0.9" fill="none" stroke-linejoin="round"/><path d="M851.4 272.0L858.0 277.0" stroke="#ffd100" stroke-width="0.9" fill="none" stroke-linejoin="round"/><path d="M858.0 277.0L864.7 268.4" stroke="#ffd400" stroke-width="0.9" fill="none" stroke-linejoin="round"/><path d="M864.7 268.4L871.3 286.2" stroke="#fff000" stroke-width="0.9" fill="none" stroke-linejoin="round"/><path d="M871.3 286.2L877.9 275.4" stroke="#f3ff0c" stroke-width="0.9" fill="none" stroke-linejoin="round"/><path d="M877.9 275.4L884.6 292.2" stroke="#d3ff2c" stroke-width="0.9" fill="none" stroke-linejoin="round"/><path d="M884.6 292.2L891.2 282.3" stroke="#b3ff4c" stroke-width="0.9" fill="none" stroke-linejoin="round"/><path d="M891.2 282.3L897.8 298.3M904.4 297.0L911.1 300.6" stroke="#a9ff56" stroke-width="0.9" fill="none" stroke-linejoin="round"/><path d="M897.8 298.3L904.4 297.0" stroke="#a8ff57" stroke-width="0.9" fill="none" stroke-linejoin="round"/><path d="M911.1 300.6L917.7 304.9" stroke="#adff52" stroke-width="0.9" fill="none" stroke-linejoin="round"/><path d="M917.7 304.9L924.3 313.3" stroke="#abff54" stroke-width="0.9" fill="none" stroke-linejoin="round"/><path d="M924.3 313.3L931.0 307.6" stroke="#a5ff5a" stroke-width="0.9" fill="none" stroke-linejoin="round"/><path d="M931.0 307.6L937.6 319.1" stroke="#9fff60" stroke-width="0.9" fill="none" stroke-linejoin="round"/><path d="M937.6 319.1L944.2 308.6" stroke="#a0ff5f" stroke-width="0.9" fill="none" stroke-linejoin="round"/><path d="M944.2 308.6L950.9 315.2" stroke="#a7ff58" stroke-width="0.9" fill="none" stroke-linejoin="round"/><path d="M950.9 315.2L957.5 323.9" stroke="#79ff86" stroke-width="0.9" fill="none" stroke-linejoin="round"/><path d="M957.5 323.9L964.1 327.3" stroke="#6cff93" stroke-width="0.9" fill="none" stroke-linejoin="round"/><path d="M964.1 327.3L970.7 334.1" stroke="#69ff96" stroke-width="0.9" fill="none" stroke-linejoin="round"/><path d="M970.7 334.1L977.4 336.3" stroke="#58ffa7" stroke-width="0.9" fill="none" stroke-linejoin="round"/><path d="M977.4 336.3L984.0 332.0" stroke="#4fffb0" stroke-width="0.9" fill="none" stroke-linejoin="round"/><path d="M984.0 332.0L990.6 336.1" stroke="#4dffb2" stroke-width="0.9" fill="none" stroke-linejoin="round"/><path d="M990.6 336.1L997.3 340.5" stroke="#4cffb3" stroke-width="0.9" fill="none" stroke-linejoin="round"/><path d="M997.3 340.5L1003.9 341.0" stroke="#4bffb4" stroke-width="0.9" fill="none" stroke-linejoin="round"/><path d="M805.0 259.2L811.6 257.1" stroke="#ff4e00" stroke-width="0.9" fill="none" stroke-linejoin="round"/><path d="M811.6 257.1L818.3 266.7" stroke="#ff6300" stroke-width="0.9" fill="none" stroke-linejoin="round"/><path d="M818.3 266.7L824.9 267.3" stroke="#ff9100" stroke-width="0.9" fill="none" stroke-linejoin="round"/><path d="M824.9 267.3L831.5 269.1" stroke="#ffb300" stroke-width="0.9" fill="none" stroke-linejoin="round"/><path d="M831.5 269.1L838.1 265.9" stroke="#ffc500" stroke-width="0.9" fill="none" stroke-linejoin="round"/><path d="M838.1 265.9L844.8 275.1" stroke="#ffc800" stroke-width="0.9" fill="none" stroke-linejoin="round"/><path d="M844.8 275.1L851.4 282.2" stroke="#ffd800" stroke-width="0.9" fill="none" stroke-linejoin="round"/><path d="M851.4 282.2L858.0 278.8" stroke="#ffdc00" stroke-width="0.9" fill="none" stroke-linejoin="round"/><path d="M858.0 278.8L864.7 284.4" stroke="#ffe000" stroke-width="0.9" fill="none" stroke-linejoin="round"/><path d="M864.7 284.4L871.3 285.5" stroke="#ffeb00" stroke-width="0.9" fill="none" stroke-linejoin="round"/><path d="M871.3 285.5L877.9 297.5" stroke="#e8ff17" stroke-width="0.9" fill="none" stroke-linejoin="round"/><path d="M877.9 297.5L884.6 300.7" stroke="#b8ff47" stroke-width="0.9" fill="none" stroke-linejoin="round"/><path d="M884.6 300.7L891.2 305.4" stroke="#b1ff4e" stroke-width="0.9" fill="none" stroke-linejoin="round"/><path d="M891.2 305.4L897.8 310.0M897.8 310.0L904.4 310.1M904.4 310.1L911.1 315.9" stroke="#b2ff4d" stroke-width="0.9" fill="none" stroke-linejoin="round"/><path d="M911.1 315.9L917.7 306.1" stroke="#b0ff4f" stroke-width="0.9" fill="none" stroke-linejoin="round"/><path d="M917.7 306.1L924.3 314.1" stroke="#abff54" stroke-width="0.9" fill="none" stroke-linejoin="round"/><path d="M924.3 314.1L931.0 316.0" stroke="#9cff63" stroke-width="0.9" fill="none" stroke-linejoin="round"/><path d="M931.0 316.0L937.6 319.3" stroke="#8dff72" stroke-width="0.9" fill="none" stroke-linejoin="round"/><path d="M937.6 319.3L944.2 325.0" stroke="#71ff8e" stroke-width="0.9" fill="none" stroke-linejoin="round"/><path d="M944.2 325.0L950.9 330.1M950.9 330.1L957.5 338.7" stroke="#6bff94" stroke-width="0.9" fill="none" stroke-linejoin="round"/><path d="M957.5 338.7L964.1 333.6" stroke="#68ff97" stroke-width="0.9" fill="none" stroke-linejoin="round"/><path d="M964.1 333.6L970.7 337.5" stroke="#63ff9c" stroke-width="0.9" fill="none" stroke-linejoin="round"/><path d="M970.7 337.5L977.4 349.3" stroke="#3fffc0" stroke-width="0.9" fill="none" stroke-linejoin="round"/><path d="M977.4 349.3L984.0 339.2" stroke="#35ffca" stroke-width="0.9" fill="none" stroke-linejoin="round"/><path d="M984.0 339.2L990.6 342.1" stroke="#46ffb9" stroke-width="0.9" fill="none" stroke-linejoin="round"/><path d="M990.6 342.1L997.3 345.6" stroke="#38ffc7" stroke-width="0.9" fill="none" stroke-linejoin="round"/><path d="M805.0 263.0L811.6 278.8" stroke="#ff6500" stroke-width="0.9" fill="none" stroke-linejoin="round"/><path d="M811.6 278.8L818.3 272.3" stroke="#ff6900" stroke-width="0.9" fill="none" stroke-linejoin="round"/><path d="M818.3 272.3L824.9 282.8" stroke="#ff8000" stroke-width="0.9" fill="none" stroke-linejoin="round"/><path d="M824.9 282.8L831.5 277.5" stroke="#ffad00" stroke-width="0.9" fill="none" stroke-linejoin="round"/><path d="M831.5 277.5L838.1 283.5" stroke="#ffcd00" stroke-width="0.9" fill="none" stroke-linejoin="round"/><path d="M838.1 283.5L844.8 293.7" stroke="#ffdb00" stroke-width="0.9" fill="none" stroke-linejoin="round"/><path d="M844.8 293.7L851.4 297.8" stroke="#ffdc00" stroke-width="0.9" fill="none" stroke-linejoin="round"/><path d="M851.4 297.8L858.0 300.7" stroke="#ffe300" stroke-width="0.9" fill="none" stroke-linejoin="round"/><path d="M858.0 300.7L864.7 296.7" stroke="#ffea00" stroke-width="0.9" fill="none" stroke-linejoin="round"/><path d="M864.7 296.7L871.3 295.9" stroke="#fff700" stroke-width="0.9" fill="none" stroke-linejoin="round"/><path d="M871.3 295.9L877.9 305.5" stroke="#d3ff2c" stroke-width="0.9" fill="none" stroke-linejoin="round"/><path d="M877.9 305.5L884.6 301.2" stroke="#b9ff46" stroke-width="0.9" fill="none" stroke-linejoin="round"/><path d="M884.6 301.2L891.2 304.0" stroke="#b0ff4f" stroke-width="0.9" fill="none" stroke-linejoin="round"/><path d="M891.2 304.0L897.8 310.4M897.8 310.4L904.4 319.8" stroke="#b2ff4d" stroke-width="0.9" fill="none" stroke-linejoin="round"/><path d="M904.4 319.8L911.1 324.0" stroke="#8bff74" stroke-width="0.9" fill="none" stroke-linejoin="round"/><path d="M911.1 324.0L917.7 323.9" stroke="#86ff79" stroke-width="0.9" fill="none" stroke-linejoin="round"/><path d="M917.7 323.9L924.3 329.5" stroke="#80ff7f" stroke-width="0.9" fill="none" stroke-linejoin="round"/><path d="M924.3 329.5L931.0 329.7" stroke="#74ff8b" stroke-width="0.9" fill="none" stroke-linejoin="round"/><path d="M931.0 329.7L937.6 340.9" stroke="#6aff95" stroke-width="0.9" fill="none" stroke-linejoin="round"/><path d="M937.6 340.9L944.2 337.1M944.2 337.1L950.9 341.8" stroke="#64ff9b" stroke-width="0.9" fill="none" stroke-linejoin="round"/><path d="M950.9 341.8L957.5 340.2" stroke="#59ffa6" stroke-width="0.9" fill="none" stroke-linejoin="round"/><path d="M957.5 340.2L964.1 346.0" stroke="#48ffb7" stroke-width="0.9" fill="none" stroke-linejoin="round"/><path d="M964.1 346.0L970.7 355.1" stroke="#2fffd0" stroke-width="0.9" fill="none" stroke-linejoin="round"/><path d="M970.7 355.1L977.4 354.3" stroke="#22ffdd" stroke-width="0.9" fill="none" stroke-linejoin="round"/><path d="M977.4 354.3L984.0 353.9" stroke="#11ffee" stroke-width="0.9" fill="none" stroke-linejoin="round"/><path d="M984.0 353.9L990.6 355.8" stroke="#07fff8" stroke-width="0.9" fill="none" stroke-linejoin="round"/><path d="M805.0 272.0L811.6 274.3" stroke="#ff6400" stroke-width="0.9" fill="none" stroke-linejoin="round"/><path d="M811.6 274.3L818.3 280.8" stroke="#ff6800" stroke-width="0.9" fill="none" stroke-linejoin="round"/><path d="M818.3 280.8L824.9 295.3" stroke="#ff9b00" stroke-width="0.9" fill="none" stroke-linejoin="round"/><path d="M824.9 295.3L831.5 287.5" stroke="#ffcc00" stroke-width="0.9" fill="none" stroke-linejoin="round"/><path d="M831.5 287.5L838.1 299.2" stroke="#ffda00" stroke-width="0.9" fill="none" stroke-linejoin="round"/><path d="M838.1 299.2L844.8 303.1" stroke="#ffe800" stroke-width="0.9" fill="none" stroke-linejoin="round"/><path d="M844.8 303.1L851.4 302.1" stroke="#fff200" stroke-width="0.9" fill="none" stroke-linejoin="round"/><path d="M851.4 302.1L858.0 300.4" stroke="#ffed00" stroke-width="0.9" fill="none" stroke-linejoin="round"/><path d="M858.0 300.4L864.7 313.7" stroke="#f8ff07" stroke-width="0.9" fill="none" stroke-linejoin="round"/><path d="M864.7 313.7L871.3 319.8" stroke="#ecff13" stroke-width="0.9" fill="none" stroke-linejoin="round"/><path d="M871.3 319.8L877.9 314.0" stroke="#cdff32" stroke-width="0.9" fill="none" stroke-linejoin="round"/><path d="M877.9 314.0L884.6 319.5" stroke="#b3ff4c" stroke-width="0.9" fill="none" stroke-linejoin="round"/><path d="M884.6 319.5L891.2 316.0" stroke="#aaff55" stroke-width="0.9" fill="none" stroke-linejoin="round"/><path d="M891.2 316.0L897.8 328.2" stroke="#8aff75" stroke-width="0.9" fill="none" stroke-linejoin="round"/><path d="M897.8 328.2L904.4 330.6M904.4 330.6L911.1 324.4" stroke="#80ff7f" stroke-width="0.9" fill="none" stroke-linejoin="round"/><path d="M911.1 324.4L917.7 339.6" stroke="#7eff81" stroke-width="0.9" fill="none" stroke-linejoin="round"/><path d="M917.7 339.6L924.3 340.2" stroke="#65ff9a" stroke-width="0.9" fill="none" stroke-linejoin="round"/><path d="M924.3 340.2L931.0 335.4" stroke="#67ff98" stroke-width="0.9" fill="none" stroke-linejoin="round"/><path d="M931.0 335.4L937.6 337.7" stroke="#68ff97" stroke-width="0.9" fill="none" stroke-linejoin="round"/><path d="M937.6 337.7L944.2 340.7" stroke="#63ff9c" stroke-width="0.9" fill="none" stroke-linejoin="round"/><path d="M944.2 340.7L950.9 359.0M950.9 359.0L957.5 360.1" stroke="#2effd1" stroke-width="0.9" fill="none" stroke-linejoin="round"/><path d="M957.5 360.1L964.1 363.7" stroke="#2affd5" stroke-width="0.9" fill="none" stroke-linejoin="round"/><path d="M964.1 363.7L970.7 362.0" stroke="#22ffdd" stroke-width="0.9" fill="none" stroke-linejoin="round"/><path d="M970.7 362.0L977.4 359.7" stroke="#1dffe2" stroke-width="0.9" fill="none" stroke-linejoin="round"/><path d="M977.4 359.7L984.0 361.5" stroke="#0ffff0" stroke-width="0.9" fill="none" stroke-linejoin="round"/><path d="M805.0 290.8L811.6 288.3" stroke="#ff6e00" stroke-width="0.9" fill="none" stroke-linejoin="round"/><path d="M811.6 288.3L818.3 292.8" stroke="#ff8500" stroke-width="0.9" fill="none" stroke-linejoin="round"/><path d="M818.3 292.8L824.9 296.5" stroke="#ffb600" stroke-width="0.9" fill="none" stroke-linejoin="round"/><path d="M824.9 296.5L831.5 304.7" stroke="#ffd400" stroke-width="0.9" fill="none" stroke-linejoin="round"/><path d="M831.5 304.7L838.1 312.5" stroke="#fffb00" stroke-width="0.9" fill="none" stroke-linejoin="round"/><path d="M838.1 312.5L844.8 310.3M844.8 310.3L851.4 317.8M851.4 317.8L858.0 313.6" stroke="#faff05" stroke-width="0.9" fill="none" stroke-linejoin="round"/><path d="M858.0 313.6L864.7 318.6" stroke="#f8ff07" stroke-width="0.9" fill="none" stroke-linejoin="round"/><path d="M864.7 318.6L871.3 327.0" stroke="#dbff24" stroke-width="0.9" fill="none" stroke-linejoin="round"/><path d="M871.3 327.0L877.9 332.0" stroke="#a1ff5e" stroke-width="0.9" fill="none" stroke-linejoin="round"/><path d="M877.9 332.0L884.6 324.4" stroke="#8cff73" stroke-width="0.9" fill="none" stroke-linejoin="round"/><path d="M884.6 324.4L891.2 329.9" stroke="#82ff7d" stroke-width="0.9" fill="none" stroke-linejoin="round"/><path d="M891.2 329.9L897.8 330.7" stroke="#80ff7f" stroke-width="0.9" fill="none" stroke-linejoin="round"/><path d="M897.8 330.7L904.4 335.1" stroke="#7fff80" stroke-width="0.9" fill="none" stroke-linejoin="round"/><path d="M904.4 335.1L911.1 345.3" stroke="#65ff9a" stroke-width="0.9" fill="none" stroke-linejoin="round"/><path d="M911.1 345.3L917.7 340.9" stroke="#57ffa8" stroke-width="0.9" fill="none" stroke-linejoin="round"/><path d="M917.7 340.9L924.3 353.0" stroke="#50ffaf" stroke-width="0.9" fill="none" stroke-linejoin="round"/><path d="M924.3 353.0L931.0 358.2" stroke="#37ffc8" stroke-width="0.9" fill="none" stroke-linejoin="round"/><path d="M931.0 358.2L937.6 363.6" stroke="#2cffd3" stroke-width="0.9" fill="none" stroke-linejoin="round"/><path d="M937.6 363.6L944.2 362.2" stroke="#29ffd6" stroke-width="0.9" fill="none" stroke-linejoin="round"/><path d="M944.2 362.2L950.9 364.0" stroke="#2affd5" stroke-width="0.9" fill="none" stroke-linejoin="round"/><path d="M950.9 364.0L957.5 363.2" stroke="#28ffd7" stroke-width="0.9" fill="none" stroke-linejoin="round"/><path d="M957.5 363.2L964.1 372.5" stroke="#06fff9" stroke-width="0.9" fill="none" stroke-linejoin="round"/><path d="M805.0 306.1L811.6 300.4" stroke="#ffa000" stroke-width="0.9" fill="none" stroke-linejoin="round"/><path d="M811.6 300.4L818.3 300.8" stroke="#ffa800" stroke-width="0.9" fill="none" stroke-linejoin="round"/><path d="M818.3 300.8L824.9 309.9" stroke="#ffba00" stroke-width="0.9" fill="none" stroke-linejoin="round"/><path d="M824.9 309.9L831.5 321.8" stroke="#fff100" stroke-width="0.9" fill="none" stroke-linejoin="round"/><path d="M831.5 321.8L838.1 312.0" stroke="#fcff03" stroke-width="0.9" fill="none" stroke-linejoin="round"/><path d="M838.1 312.0L844.8 321.7" stroke="#faff05" stroke-width="0.9" fill="none" stroke-linejoin="round"/><path d="M844.8 321.7L851.4 324.7" stroke="#f6ff09" stroke-width="0.9" fill="none" stroke-linejoin="round"/><path d="M851.4 324.7L858.0 323.2" stroke="#f1ff0e" stroke-width="0.9" fill="none" stroke-linejoin="round"/><path d="M858.0 323.2L864.7 328.0" stroke="#dfff20" stroke-width="0.9" fill="none" stroke-linejoin="round"/><path d="M864.7 328.0L871.3 331.1" stroke="#bbff44" stroke-width="0.9" fill="none" stroke-linejoin="round"/><path d="M871.3 331.1L877.9 341.3" stroke="#9cff63" stroke-width="0.9" fill="none" stroke-linejoin="round"/><path d="M877.9 341.3L884.6 342.7" stroke="#71ff8e" stroke-width="0.9" fill="none" stroke-linejoin="round"/><path d="M884.6 342.7L891.2 347.8" stroke="#53ffac" stroke-width="0.9" fill="none" stroke-linejoin="round"/><path d="M891.2 347.8L897.8 350.6M897.8 350.6L904.4 347.3" stroke="#4dffb2" stroke-width="0.9" fill="none" stroke-linejoin="round"/><path d="M904.4 347.3L911.1 359.7" stroke="#4cffb3" stroke-width="0.9" fill="none" stroke-linejoin="round"/><path d="M911.1 359.7L917.7 358.5" stroke="#42ffbd" stroke-width="0.9" fill="none" stroke-linejoin="round"/><path d="M917.7 358.5L924.3 362.4" stroke="#37ffc8" stroke-width="0.9" fill="none" stroke-linejoin="round"/><path d="M924.3 362.4L931.0 360.2" stroke="#2effd1" stroke-width="0.9" fill="none" stroke-linejoin="round"/><path d="M931.0 360.2L937.6 364.2" stroke="#29ffd6" stroke-width="0.9" fill="none" stroke-linejoin="round"/><path d="M937.6 364.2L944.2 377.3" stroke="#00ecff" stroke-width="0.9" fill="none" stroke-linejoin="round"/><path d="M944.2 377.3L950.9 378.4M950.9 378.4L957.5 383.9" stroke="#00dbff" stroke-width="0.9" fill="none" stroke-linejoin="round"/><path d="M957.5 383.9L964.1 376.7" stroke="#00dcff" stroke-width="0.9" fill="none" stroke-linejoin="round"/><path d="M805.0 314.4L811.6 317.8" stroke="#ffa200" stroke-width="0.9" fill="none" stroke-linejoin="round"/><path d="M811.6 317.8L818.3 311.1" stroke="#ffa900" stroke-width="0.9" fill="none" stroke-linejoin="round"/><path d="M818.3 311.1L824.9 316.3" stroke="#ffc400" stroke-width="0.9" fill="none" stroke-linejoin="round"/><path d="M824.9 316.3L831.5 332.8" stroke="#feff01" stroke-width="0.9" fill="none" stroke-linejoin="round"/><path d="M831.5 332.8L838.1 323.7" stroke="#e0ff1f" stroke-width="0.9" fill="none" stroke-linejoin="round"/><path d="M838.1 323.7L844.8 334.9" stroke="#d0ff2f" stroke-width="0.9" fill="none" stroke-linejoin="round"/><path d="M844.8 334.9L851.4 334.3M851.4 334.3L858.0 346.0" stroke="#bdff42" stroke-width="0.9" fill="none" stroke-linejoin="round"/><path d="M858.0 346.0L864.7 344.9" stroke="#b8ff47" stroke-width="0.9" fill="none" stroke-linejoin="round"/><path d="M864.7 344.9L871.3 342.5" stroke="#adff52" stroke-width="0.9" fill="none" stroke-linejoin="round"/><path d="M871.3 342.5L877.9 342.9" stroke="#90ff6f" stroke-width="0.9" fill="none" stroke-linejoin="round"/><path d="M877.9 342.9L884.6 348.9" stroke="#61ff9e" stroke-width="0.9" fill="none" stroke-linejoin="round"/><path d="M884.6 348.9L891.2 360.8" stroke="#4effb1" stroke-width="0.9" fill="none" stroke-linejoin="round"/><path d="M891.2 360.8L897.8 366.3" stroke="#2fffd0" stroke-width="0.9" fill="none" stroke-linejoin="round"/><path d="M897.8 366.3L904.4 366.0" stroke="#1fffe0" stroke-width="0.9" fill="none" stroke-linejoin="round"/><path d="M904.4 366.0L911.1 359.7" stroke="#33ffcc" stroke-width="0.9" fill="none" stroke-linejoin="round"/><path d="M911.1 359.7L917.7 371.9" stroke="#24ffdb" stroke-width="0.9" fill="none" stroke-linejoin="round"/><path d="M917.7 371.9L924.3 367.7" stroke="#19ffe6" stroke-width="0.9" fill="none" stroke-linejoin="round"/><path d="M924.3 367.7L931.0 379.8" stroke="#00ffff" stroke-width="0.9" fill="none" stroke-linejoin="round"/><path d="M931.0 379.8L937.6 374.7" stroke="#00e2ff" stroke-width="0.9" fill="none" stroke-linejoin="round"/><path d="M937.6 374.7L944.2 376.9" stroke="#00ddff" stroke-width="0.9" fill="none" stroke-linejoin="round"/><path d="M944.2 376.9L950.9 379.8" stroke="#00dbff" stroke-width="0.9" fill="none" stroke-linejoin="round"/><path d="M805.0 324.0L811.6 333.8" stroke="#ffdc00" stroke-width="0.9" fill="none" stroke-linejoin="round"/><path d="M811.6 333.8L818.3 328.5" stroke="#ffe100" stroke-width="0.9" fill="none" stroke-linejoin="round"/><path d="M818.3 328.5L824.9 338.9" stroke="#fff700" stroke-width="0.9" fill="none" stroke-linejoin="round"/><path d="M824.9 338.9L831.5 331.3" stroke="#deff21" stroke-width="0.9" fill="none" stroke-linejoin="round"/><path d="M831.5 331.3L838.1 333.8" stroke="#ccff33" stroke-width="0.9" fill="none" stroke-linejoin="round"/><path d="M838.1 333.8L844.8 340.5M844.8 340.5L851.4 338.5" stroke="#bdff42" stroke-width="0.9" fill="none" stroke-linejoin="round"/><path d="M851.4 338.5L858.0 348.7" stroke="#bcff43" stroke-width="0.9" fill="none" stroke-linejoin="round"/><path d="M858.0 348.7L864.7 351.3" stroke="#a7ff58" stroke-width="0.9" fill="none" stroke-linejoin="round"/><path d="M864.7 351.3L871.3 357.4" stroke="#81ff7e" stroke-width="0.9" fill="none" stroke-linejoin="round"/><path d="M871.3 357.4L877.9 365.8" stroke="#64ff9b" stroke-width="0.9" fill="none" stroke-linejoin="round"/><path d="M877.9 365.8L884.6 356.8" stroke="#4effb1" stroke-width="0.9" fill="none" stroke-linejoin="round"/><path d="M884.6 356.8L891.2 361.7" stroke="#4affb5" stroke-width="0.9" fill="none" stroke-linejoin="round"/><path d="M891.2 361.7L897.8 369.4" stroke="#24ffdb" stroke-width="0.9" fill="none" stroke-linejoin="round"/><path d="M897.8 369.4L904.4 374.8M904.4 374.8L911.1 371.2" stroke="#1affe5" stroke-width="0.9" fill="none" stroke-linejoin="round"/><path d="M911.1 371.2L917.7 379.7" stroke="#19ffe6" stroke-width="0.9" fill="none" stroke-linejoin="round"/><path d="M917.7 379.7L924.3 378.2" stroke="#0cfff3" stroke-width="0.9" fill="none" stroke-linejoin="round"/><path d="M924.3 378.2L931.0 383.4" stroke="#00f0ff" stroke-width="0.9" fill="none" stroke-linejoin="round"/><path d="M931.0 383.4L937.6 384.3" stroke="#00e0ff" stroke-width="0.9" fill="none" stroke-linejoin="round"/><path d="M937.6 384.3L944.2 389.2" stroke="#00ddff" stroke-width="0.9" fill="none" stroke-linejoin="round"/><path d="M805.0 329.1L811.6 331.1" stroke="#ffdc00" stroke-width="0.9" fill="none" stroke-linejoin="round"/><path d="M811.6 331.1L818.3 332.7" stroke="#ffe100" stroke-width="0.9" fill="none" stroke-linejoin="round"/><path d="M818.3 332.7L824.9 346.0" stroke="#faff05" stroke-width="0.9" fill="none" stroke-linejoin="round"/><path d="M824.9 346.0L831.5 343.0" stroke="#ccff33" stroke-width="0.9" fill="none" stroke-linejoin="round"/><path d="M831.5 343.0L838.1 345.9" stroke="#beff41" stroke-width="0.9" fill="none" stroke-linejoin="round"/><path d="M838.1 345.9L844.8 354.6" stroke="#afff50" stroke-width="0.9" fill="none" stroke-linejoin="round"/><path d="M844.8 354.6L851.4 356.4" stroke="#87ff78" stroke-width="0.9" fill="none" stroke-linejoin="round"/><path d="M851.4 356.4L858.0 362.7" stroke="#80ff7f" stroke-width="0.9" fill="none" stroke-linejoin="round"/><path d="M858.0 362.7L864.7 358.7" stroke="#7eff81" stroke-width="0.9" fill="none" stroke-linejoin="round"/><path d="M864.7 358.7L871.3 360.9" stroke="#78ff87" stroke-width="0.9" fill="none" stroke-linejoin="round"/><path d="M871.3 360.9L877.9 366.4" stroke="#60ff9f" stroke-width="0.9" fill="none" stroke-linejoin="round"/><path d="M877.9 366.4L884.6 366.2" stroke="#3affc5" stroke-width="0.9" fill="none" stroke-linejoin="round"/><path d="M884.6 366.2L891.2 372.9" stroke="#1effe1" stroke-width="0.9" fill="none" stroke-linejoin="round"/><path d="M891.2 372.9L897.8 376.5" stroke="#1affe5" stroke-width="0.9" fill="none" stroke-linejoin="round"/><path d="M897.8 376.5L904.4 379.1" stroke="#19ffe6" stroke-width="0.9" fill="none" stroke-linejoin="round"/><path d="M904.4 379.1L911.1 384.6" stroke="#17ffe8" stroke-width="0.9" fill="none" stroke-linejoin="round"/><path d="M805.0 343.6L811.6 346.9" stroke="#fdff02" stroke-width="0.9" fill="none" stroke-linejoin="round"/><path d="M811.6 346.9L818.3 343.9" stroke="#f5ff0a" stroke-width="0.9" fill="none" stroke-linejoin="round"/><path d="M818.3 343.9L824.9 356.3" stroke="#d7ff28" stroke-width="0.9" fill="none" stroke-linejoin="round"/><path d="M824.9 356.3L831.5 351.1" stroke="#b4ff4b" stroke-width="0.9" fill="none" stroke-linejoin="round"/><path d="M831.5 351.1L838.1 356.1" stroke="#a1ff5e" stroke-width="0.9" fill="none" stroke-linejoin="round"/><path d="M838.1 356.1L844.8 360.9" stroke="#82ff7d" stroke-width="0.9" fill="none" stroke-linejoin="round"/><path d="M844.8 360.9L851.4 371.0M851.4 371.0L858.0 365.0" stroke="#7fff80" stroke-width="0.9" fill="none" stroke-linejoin="round"/><path d="M858.0 365.0L864.7 367.2" stroke="#7dff82" stroke-width="0.9" fill="none" stroke-linejoin="round"/><path d="M864.7 367.2L871.3 371.6" stroke="#6aff95" stroke-width="0.9" fill="none" stroke-linejoin="round"/><path d="M871.3 371.6L877.9 376.6" stroke="#39ffc6" stroke-width="0.9" fill="none" stroke-linejoin="round"/><path d="M877.9 376.6L884.6 384.8" stroke="#1cffe3" stroke-width="0.9" fill="none" stroke-linejoin="round"/><path d="M884.6 384.8L891.2 394.8" stroke="#00ecff" stroke-width="0.9" fill="none" stroke-linejoin="round"/><path d="M891.2 394.8L897.8 385.0" stroke="#00e3ff" stroke-width="0.9" fill="none" stroke-linejoin="round"/><path d="M897.8 385.0L904.4 397.1" stroke="#00d9ff" stroke-width="0.9" fill="none" stroke-linejoin="round"/><path d="M904.4 397.1L911.1 402.8" stroke="#00d1ff" stroke-width="0.9" fill="none" stroke-linejoin="round"/><path d="M805.0 348.4L811.6 366.5" stroke="#e4ff1b" stroke-width="0.9" fill="none" stroke-linejoin="round"/><path d="M811.6 366.5L818.3 354.8" stroke="#cfff30" stroke-width="0.9" fill="none" stroke-linejoin="round"/><path d="M818.3 354.8L824.9 363.0" stroke="#beff41" stroke-width="0.9" fill="none" stroke-linejoin="round"/><path d="M824.9 363.0L831.5 374.1" stroke="#7cff83" stroke-width="0.9" fill="none" stroke-linejoin="round"/><path d="M831.5 374.1L838.1 377.6" stroke="#4effb1" stroke-width="0.9" fill="none" stroke-linejoin="round"/><path d="M838.1 377.6L844.8 371.5" stroke="#5affa5" stroke-width="0.9" fill="none" stroke-linejoin="round"/><path d="M844.8 371.5L851.4 379.0" stroke="#50ffaf" stroke-width="0.9" fill="none" stroke-linejoin="round"/><path d="M851.4 379.0L858.0 374.7" stroke="#3cffc3" stroke-width="0.9" fill="none" stroke-linejoin="round"/><path d="M858.0 374.7L864.7 386.3" stroke="#2effd1" stroke-width="0.9" fill="none" stroke-linejoin="round"/><path d="M864.7 386.3L871.3 388.8" stroke="#1affe5" stroke-width="0.9" fill="none" stroke-linejoin="round"/><path d="M871.3 388.8L877.9 399.5" stroke="#00fbff" stroke-width="0.9" fill="none" stroke-linejoin="round"/><path d="M877.9 399.5L884.6 397.9" stroke="#00dcff" stroke-width="0.9" fill="none" stroke-linejoin="round"/><path d="M884.6 397.9L891.2 394.8" stroke="#00d4ff" stroke-width="0.9" fill="none" stroke-linejoin="round"/><path d="M891.2 394.8L897.8 408.0M897.8 408.0L904.4 400.1M904.4 400.1L911.1 406.3" stroke="#00d1ff" stroke-width="0.9" fill="none" stroke-linejoin="round"/><path d="M805.0 366.4L811.6 373.6" stroke="#82ff7d" stroke-width="0.9" fill="none" stroke-linejoin="round"/><path d="M811.6 373.6L818.3 371.8" stroke="#7fff80" stroke-width="0.9" fill="none" stroke-linejoin="round"/><path d="M818.3 371.8L824.9 372.2" stroke="#7aff85" stroke-width="0.9" fill="none" stroke-linejoin="round"/><path d="M824.9 372.2L831.5 381.2" stroke="#55ffaa" stroke-width="0.9" fill="none" stroke-linejoin="round"/><path d="M844.8 385.9L851.4 386.8" stroke="#2effd1" stroke-width="0.9" fill="none" stroke-linejoin="round"/><path d="M851.4 386.8L858.0 390.8" stroke="#23ffdc" stroke-width="0.9" fill="none" stroke-linejoin="round"/><path d="M858.0 390.8L864.7 393.0" stroke="#02fffd" stroke-width="0.9" fill="none" stroke-linejoin="round"/><path d="M864.7 393.0L871.3 400.0" stroke="#00faff" stroke-width="0.9" fill="none" stroke-linejoin="round"/><path d="M897.8 406.5L904.4 416.7" stroke="#00beff" stroke-width="0.9" fill="none" stroke-linejoin="round"/><path d="M805.0 381.2L811.6 374.1" stroke="#7eff81" stroke-width="0.9" fill="none" stroke-linejoin="round"/><path d="M811.6 374.1L818.3 383.0" stroke="#75ff8a" stroke-width="0.9" fill="none" stroke-linejoin="round"/><path d="M818.3 383.0L824.9 386.7" stroke="#39ffc6" stroke-width="0.9" fill="none" stroke-linejoin="round"/><path d="M805.0 383.8L811.6 399.0" stroke="#07fff8" stroke-width="0.9" fill="none" stroke-linejoin="round"/><path d="M811.6 399.0L818.3 400.3" stroke="#06fff9" stroke-width="0.9" fill="none" stroke-linejoin="round"/><path d="M651.5 361.0V367.2M651.5 363.7V369.5M657.5 376.3V382.7M657.5 372.7V378.7M664.5 388.3V395.5M664.5 375.5V380.7M670.5 371.7V379.0M670.5 397.5V401.6M677.5 420.9V428.8M677.5 404.7V411.2M684.5 384.5V388.6M684.5 402.1V406.3M690.5 385.2V390.2M690.5 377.7V383.5M697.5 397.8V405.2M697.5 401.5V408.0M704.5 407.5V414.1M704.5 405.4V410.6M710.5 434.8V442.8M710.5 427.9V434.7M717.5 414.2V419.2M717.5 413.7V418.0M723.5 411.1V416.7M723.5 411.7V417.3M730.5 411.5V418.9M730.5 400.5V405.3M737.5 416.4V422.3M737.5 418.3V423.9M743.5 396.2V402.8M743.5 419.1V424.1M750.5 397.0V402.3M750.5 408.0V415.0M757.5 401.2V406.2M757.5 400.9V405.1M763.5 421.1V425.8M763.5 417.1V422.8M770.5 435.3V442.3M770.5 434.5V441.1M776.5 434.8V440.5M776.5 438.8V443.9M783.5 475.2V482.4M783.5 442.3V449.8M790.5 436.0V441.6M790.5 467.9V474.5M796.5 427.1V435.1M796.5 430.8V435.8M803.5 436.7V442.1M803.5 427.4V431.7M816.5 428.2V434.5M816.5 428.5V434.9" stroke="#1030e0" stroke-width="1.6" fill="none"/></g>
<g><line x1="22.6" y1="418.2" x2="22.6" y2="130.2" class="ax"/><line x1="22.6" y1="418.2" x2="208.2" y2="550.4" class="ax"/><line x1="208.2" y1="550.4" x2="449.7" y2="448.7" class="ax"/><line x1="22.6" y1="413.5" x2="16.7" y2="409.3" class="ax"/><line x1="22.6" y1="370.2" x2="16.7" y2="365.9" class="ax"/><line x1="22.6" y1="326.8" x2="16.7" y2="322.6" class="ax"/><line x1="22.6" y1="283.4" x2="16.7" y2="279.2" class="ax"/><line x1="22.6" y1="240.1" x2="16.7" y2="235.8" class="ax"/><line x1="22.6" y1="196.7" x2="16.7" y2="192.5" class="ax"/><line x1="22.6" y1="153.3" x2="16.7" y2="149.1" class="ax"/><line x1="181.4" y1="531.3" x2="174.7" y2="534.1" class="ax"/><line x1="148.2" y1="507.7" x2="141.5" y2="510.5" class="ax"/><line x1="115.0" y1="484.0" x2="108.3" y2="486.8" class="ax"/><line x1="81.8" y1="460.4" x2="75.1" y2="463.2" class="ax"/><line x1="48.6" y1="436.7" x2="41.9" y2="439.6" class="ax"/><line x1="250.9" y1="532.4" x2="256.8" y2="536.7" class="ax"/><line x1="293.8" y1="514.4" x2="299.7" y2="518.6" class="ax"/><line x1="336.7" y1="496.3" x2="342.6" y2="500.5" class="ax"/><line x1="379.5" y1="478.2" x2="385.5" y2="482.5" class="ax"/><line x1="422.4" y1="460.2" x2="428.4" y2="464.4" class="ax"/><line x1="584.1" y1="418.2" x2="584.1" y2="130.2" class="ax"/><line x1="584.1" y1="418.2" x2="769.7" y2="550.4" class="ax"/><line x1="769.7" y1="550.4" x2="1011.2" y2="448.7" class="ax"/><line x1="584.1" y1="410.5" x2="578.2" y2="406.3" class="ax"/><line x1="584.1" y1="372.5" x2="578.2" y2="368.3" class="ax"/><line x1="584.1" y1="334.6" x2="578.2" y2="330.3" class="ax"/><line x1="584.1" y1="296.6" x2="578.2" y2="292.4" class="ax"/><line x1="584.1" y1="258.7" x2="578.2" y2="254.4" class="ax"/><line x1="584.1" y1="220.7" x2="578.2" y2="216.5" class="ax"/><line x1="584.1" y1="182.7" x2="578.2" y2="178.5" class="ax"/><line x1="584.1" y1="144.8" x2="578.2" y2="140.6" class="ax"/><line x1="742.9" y1="531.3" x2="736.2" y2="534.1" class="ax"/><line x1="709.7" y1="507.7" x2="703.0" y2="510.5" class="ax"/><line x1="676.5" y1="484.0" x2="669.8" y2="486.8" class="ax"/><line x1="643.3" y1="460.4" x2="636.6" y2="463.2" class="ax"/><line x1="610.1" y1="436.7" x2="603.4" y2="439.6" class="ax"/><line x1="794.8" y1="539.8" x2="800.7" y2="544.1" class="ax"/><line x1="819.7" y1="529.3" x2="825.7" y2="533.6" class="ax"/><line x1="844.6" y1="518.8" x2="850.6" y2="523.1" class="ax"/><line x1="869.5" y1="508.4" x2="875.5" y2="512.6" class="ax"/><line x1="894.4" y1="497.9" x2="900.4" y2="502.1" class="ax"/><line x1="919.4" y1="487.4" x2="925.3" y2="491.6" class="ax"/><line x1="944.3" y1="476.9" x2="950.2" y2="481.1" class="ax"/><line x1="969.2" y1="466.4" x2="975.1" y2="470.6" class="ax"/><line x1="994.1" y1="455.9" x2="1000.1" y2="460.1" class="ax"/><text transform="translate(14.3,411.9) scale(0.88,1)" text-anchor="end" class="tk">-15</text><text transform="translate(14.3,368.6) scale(0.88,1)" text-anchor="end" class="tk">-10</text><text transform="translate(14.3,325.2) scale(0.88,1)" text-anchor="end" class="tk">-5</text><text transform="translate(14.3,281.8) scale(0.88,1)" text-anchor="end" class="tk">0</text><text transform="translate(14.3,238.5) scale(0.88,1)" text-anchor="end" class="tk">5</text><text transform="translate(14.3,195.1) scale(0.88,1)" text-anchor="end" class="tk">10</text><text transform="translate(14.3,151.7) scale(0.88,1)" text-anchor="end" class="tk">15</text><text transform="translate(173.1,543.9) scale(0.88,1)" text-anchor="end" class="tk">5</text><text transform="translate(139.9,520.3) scale(0.88,1)" text-anchor="end" class="tk">10</text><text transform="translate(106.7,496.6) scale(0.88,1)" text-anchor="end" class="tk">15</text><text transform="translate(73.5,473.0) scale(0.88,1)" text-anchor="end" class="tk">20</text><text transform="translate(40.3,449.3) scale(0.88,1)" text-anchor="end" class="tk">25</text><text transform="translate(256.7,546.6) scale(0.88,1)" text-anchor="start" class="tk">1</text><text transform="translate(299.6,528.6) scale(0.88,1)" text-anchor="start" class="tk">2</text><text transform="translate(342.5,510.5) scale(0.88,1)" text-anchor="start" class="tk">3</text><text transform="translate(385.3,492.4) scale(0.88,1)" text-anchor="start" class="tk">4</text><text transform="translate(428.2,474.4) scale(0.88,1)" text-anchor="start" class="tk">5</text><text transform="translate(575.8,408.9) scale(0.88,1)" text-anchor="end" class="tk">-4</text><text transform="translate(575.8,370.9) scale(0.88,1)" text-anchor="end" class="tk">-3</text><text transform="translate(575.8,333.0) scale(0.88,1)" text-anchor="end" class="tk">-2</text><text transform="translate(575.8,295.0) scale(0.88,1)" text-anchor="end" class="tk">-1</text><text transform="translate(575.8,257.1) scale(0.88,1)" text-anchor="end" class="tk">0</text><text transform="translate(575.8,219.1) scale(0.88,1)" text-anchor="end" class="tk">1</text><text transform="translate(575.8,181.1) scale(0.88,1)" text-anchor="end" class="tk">2</text><text transform="translate(575.8,143.2) scale(0.88,1)" text-anchor="end" class="tk">3</text><text transform="translate(734.6,543.9) scale(0.88,1)" text-anchor="end" class="tk">5</text><text transform="translate(701.4,520.3) scale(0.88,1)" text-anchor="end" class="tk">10</text><text transform="translate(668.2,496.6) scale(0.88,1)" text-anchor="end" class="tk">15</text><text transform="translate(635.0,473.0) scale(0.88,1)" text-anchor="end" class="tk">20</text><text transform="translate(601.8,449.3) scale(0.88,1)" text-anchor="end" class="tk">25</text><text transform="translate(800.6,554.0) scale(0.88,1)" text-anchor="start" class="tk">50</text><text transform="translate(825.5,543.5) scale(0.88,1)" text-anchor="start" class="tk">100</text><text transform="translate(850.4,533.0) scale(0.88,1)" text-anchor="start" class="tk">150</text><text transform="translate(875.3,522.6) scale(0.88,1)" text-anchor="start" class="tk">200</text><text transform="translate(900.2,512.1) scale(0.88,1)" text-anchor="start" class="tk">250</text><text transform="translate(925.2,501.6) scale(0.88,1)" text-anchor="start" class="tk">300</text><text transform="translate(950.1,491.1) scale(0.88,1)" text-anchor="start" class="tk">350</text><text transform="translate(975.0,480.6) scale(0.88,1)" text-anchor="start" class="tk">400</text><text transform="translate(999.9,470.1) scale(0.88,1)" text-anchor="start" class="tk">450</text></g>

<text x="193" y="22" textLength="84.5" lengthAdjust="spacingAndGlyphs" class="lb">TVP VAR Coefficients</text>
<text x="780" y="22" textLength="33.5" lengthAdjust="spacingAndGlyphs" class="lb">Volatility</text>
<text x="39" y="562" textLength="60.5" lengthAdjust="spacingAndGlyphs" class="lb">Gibbs iterations</text>
<text x="600.5" y="562" textLength="60.5" lengthAdjust="spacingAndGlyphs" class="lb">Gibbs iterations</text>
<text x="328.5" y="569" textLength="86.5" lengthAdjust="spacingAndGlyphs" class="lb">Vectorised parameters</text>
<text x="890" y="569" textLength="86.5" lengthAdjust="spacingAndGlyphs" class="lb">Vectorised parameters</text>
<text x="450.5" y="521.3" class="tk" textLength="16" lengthAdjust="spacingAndGlyphs">x 10</text>
<text x="466.8" y="516" class="sup">4</text>

</svg>
</body></html>
